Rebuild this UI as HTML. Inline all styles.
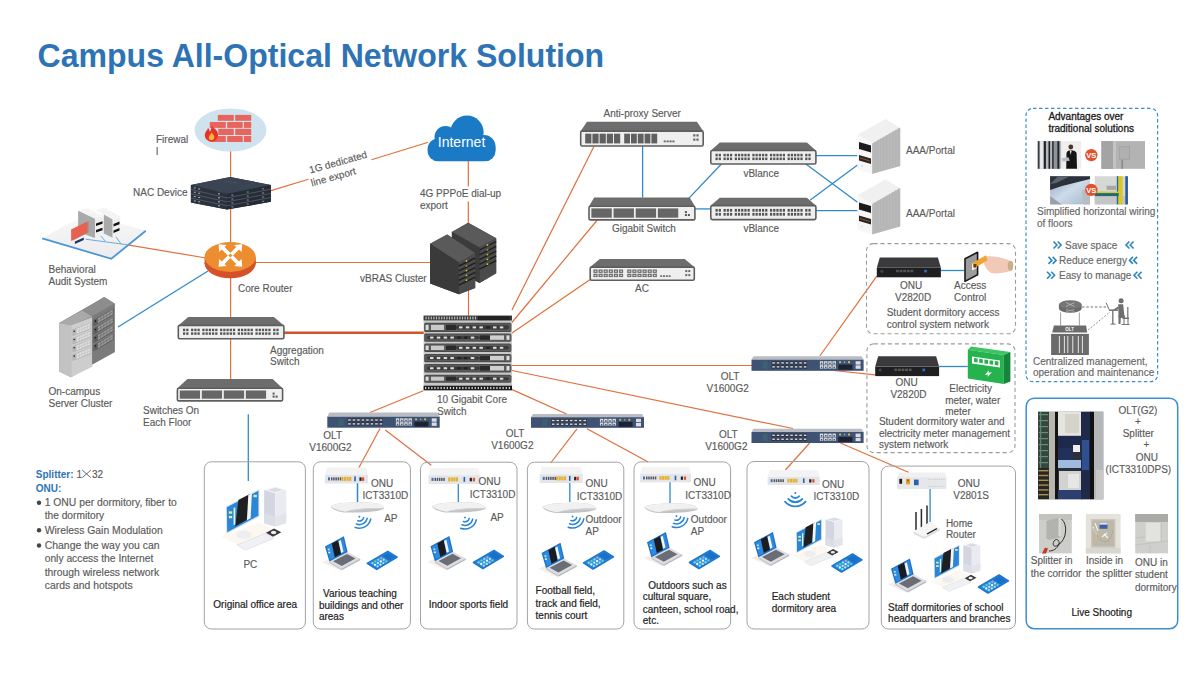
<!DOCTYPE html>
<html><head><meta charset="utf-8"><title>Campus All-Optical Network Solution</title>
<style>html,body{margin:0;padding:0;background:#fff;width:1200px;height:675px;overflow:hidden}
svg{display:block;font-family:"Liberation Sans",sans-serif}</style></head>
<body>
<svg width="1200" height="675" viewBox="0 0 1200 675" font-family="Liberation Sans, sans-serif">
<rect x="0" y="0" width="1200" height="675" fill="#ffffff" stroke="none" stroke-width="0" rx="0" />
<text x="37.6" y="66.8" font-size="34" font-weight="bold" fill="#2e74b5" textLength="566.5" lengthAdjust="spacingAndGlyphs">Campus All-Optical Network Solution</text>
<line x1="230.6" y1="151" x2="230.6" y2="178" stroke="#e0703c" stroke-width="1.2"/>
<line x1="230.6" y1="209" x2="230.6" y2="243" stroke="#e0703c" stroke-width="1.2"/>
<line x1="271" y1="190.6" x2="308.5" y2="179.2" stroke="#e0703c" stroke-width="1.2"/>
<line x1="371.5" y1="159.8" x2="428.3" y2="142.3" stroke="#e0703c" stroke-width="1.2"/>
<line x1="468.3" y1="161" x2="468.3" y2="186.5" stroke="#e0703c" stroke-width="1.2"/>
<line x1="468.3" y1="201.5" x2="468.3" y2="223" stroke="#e0703c" stroke-width="1.2"/>
<line x1="255.7" y1="262.5" x2="431" y2="262.5" stroke="#e0703c" stroke-width="1.2"/>
<line x1="127.6" y1="244.8" x2="206" y2="258" stroke="#e0703c" stroke-width="1.2"/>
<line x1="208" y1="271" x2="118" y2="327" stroke="#2f8bc9" stroke-width="1.3"/>
<line x1="230.6" y1="278" x2="230.6" y2="318" stroke="#e0703c" stroke-width="1.2"/>
<line x1="230.6" y1="338" x2="230.6" y2="380" stroke="#e0703c" stroke-width="1.2"/>
<line x1="284" y1="332.7" x2="424" y2="332.7" stroke="#cf5428" stroke-width="2.6"/>
<line x1="468.5" y1="290" x2="468.5" y2="316" stroke="#e0703c" stroke-width="1.2"/>
<line x1="248.3" y1="414.3" x2="248.3" y2="481" stroke="#2f8bc9" stroke-width="1.3"/>
<line x1="512" y1="310" x2="593.8" y2="146.7" stroke="#e0703c" stroke-width="1.2"/>
<line x1="511.5" y1="323" x2="597.3" y2="220" stroke="#e0703c" stroke-width="1.2"/>
<line x1="512" y1="333" x2="590.2" y2="279.4" stroke="#e0703c" stroke-width="1.2"/>
<line x1="512" y1="365.5" x2="752" y2="365.5" stroke="#e0703c" stroke-width="1.2"/>
<line x1="512" y1="370.5" x2="793" y2="428.5" stroke="#e0703c" stroke-width="1.2"/>
<line x1="510" y1="388.6" x2="566.5" y2="414" stroke="#e0703c" stroke-width="1.2"/>
<line x1="423.3" y1="390.7" x2="370" y2="412.5" stroke="#e0703c" stroke-width="1.2"/>
<line x1="819.8" y1="356" x2="876.8" y2="276.2" stroke="#e0703c" stroke-width="1.2"/>
<line x1="834" y1="370.5" x2="875.2" y2="374.8" stroke="#e0703c" stroke-width="1.2"/>
<line x1="380" y1="428.5" x2="358.7" y2="468" stroke="#e0703c" stroke-width="1.2"/>
<line x1="385.3" y1="430" x2="431.3" y2="465.3" stroke="#e0703c" stroke-width="1.2"/>
<line x1="577" y1="428.8" x2="550.7" y2="463" stroke="#e0703c" stroke-width="1.2"/>
<line x1="587" y1="428.8" x2="648.2" y2="462" stroke="#e0703c" stroke-width="1.2"/>
<line x1="809.7" y1="443" x2="785.4" y2="470" stroke="#e0703c" stroke-width="1.2"/>
<line x1="840.4" y1="443" x2="908.9" y2="472.5" stroke="#e0703c" stroke-width="1.2"/>
<line x1="642.6" y1="146" x2="642.6" y2="197.5" stroke="#2f8bc9" stroke-width="1.3"/>
<line x1="687.6" y1="199.6" x2="721.4" y2="164" stroke="#2f8bc9" stroke-width="1.3"/>
<line x1="694.9" y1="208.9" x2="711" y2="208.9" stroke="#2f8bc9" stroke-width="1.3"/>
<line x1="815.9" y1="155.7" x2="857.5" y2="155.7" stroke="#2f8bc9" stroke-width="1.3"/>
<line x1="805.8" y1="164" x2="857.5" y2="202.3" stroke="#2f8bc9" stroke-width="1.3"/>
<line x1="810.3" y1="200" x2="857.5" y2="165.1" stroke="#2f8bc9" stroke-width="1.3"/>
<line x1="815.9" y1="210.6" x2="857.5" y2="210.6" stroke="#2f8bc9" stroke-width="1.3"/>
<line x1="940.9" y1="270.5" x2="964.2" y2="270.5" stroke="#2f8bc9" stroke-width="1.3"/>
<line x1="939.1" y1="366.5" x2="967.8" y2="366.5" stroke="#2f8bc9" stroke-width="1.3"/>
<line x1="357.5" y1="483" x2="357.5" y2="502" stroke="#2f8bc9" stroke-width="1.3"/>
<line x1="458.3" y1="480" x2="458.3" y2="502" stroke="#2f8bc9" stroke-width="1.3"/>
<line x1="569.8" y1="482" x2="569.8" y2="502" stroke="#2f8bc9" stroke-width="1.3"/>
<line x1="670" y1="482" x2="670" y2="503" stroke="#2f8bc9" stroke-width="1.3"/>
<ellipse cx="230.5" cy="130" rx="36" ry="21.6" fill="#cfe3ee"/>
<rect x="217.8" y="114.9" width="16.0" height="5.9" fill="#e8645c" stroke="none" stroke-width="0" rx="0" />
<rect x="235.2" y="114.9" width="16.0" height="5.9" fill="#e8645c" stroke="none" stroke-width="0" rx="0" />
<rect x="209.8" y="122" width="16.0" height="5.9" fill="#e8645c" stroke="none" stroke-width="0" rx="0" />
<rect x="227.2" y="122" width="15.5" height="5.9" fill="#e8645c" stroke="none" stroke-width="0" rx="0" />
<rect x="243.9" y="122" width="7.3" height="5.9" fill="#e8645c" stroke="none" stroke-width="0" rx="0" />
<rect x="218.3" y="128.8" width="15.5" height="6.2" fill="#e8645c" stroke="none" stroke-width="0" rx="0" />
<rect x="235.2" y="128.8" width="16.0" height="6.2" fill="#e8645c" stroke="none" stroke-width="0" rx="0" />
<rect x="209.8" y="136" width="16.0" height="6" fill="#e8645c" stroke="none" stroke-width="0" rx="0" />
<rect x="227.2" y="136" width="15.5" height="6" fill="#e8645c" stroke="none" stroke-width="0" rx="0" />
<rect x="243.9" y="136" width="7.3" height="6" fill="#e8645c" stroke="none" stroke-width="0" rx="0" />
<path d="M211.5,125.5 C214,129 218.5,130 218,135.5 C217.5,139.5 214.5,141.5 211.5,141.5 C207.5,141.5 204.5,138.5 204.8,134.8 C205,131.5 207.5,130.5 208,128 C209.5,129.5 209.8,131 209.8,132 C211,130 211.8,128 211.5,125.5 Z" fill="#e5332a"/>
<path d="M211.5,132.5 C213,134.5 214.6,135.5 214.3,137.6 C214,139.4 212.8,140.2 211.5,140.2 C210,140.2 208.7,139.2 208.8,137.5 C209,135.5 210.6,134.8 211.5,132.5 Z" fill="#f7b733"/>
<text x="156" y="143" font-size="10" fill="#5a5a5a" font-weight="normal" text-anchor="start"  stroke="#5a5a5a" stroke-width="0.15">Firewal</text>
<text x="156" y="155" font-size="10" fill="#5a5a5a" font-weight="normal" text-anchor="start"  stroke="#5a5a5a" stroke-width="0.15">l</text>
<polygon points="190.9,185 230.1,177 270.9,185 270.9,201.7 227,209.6 190.9,202.5" fill="#2a313c" stroke="none" stroke-width="0" />
<polygon points="190.9,185 230.1,177 270.9,185 227,194.1" fill="#3b4452" stroke="none" stroke-width="0" />
<polygon points="190.9,185 227,194.1 227,209.6 190.9,202.5" fill="#2b323d" stroke="none" stroke-width="0" />
<polygon points="227,194.1 270.9,185 270.9,201.7 227,209.6" fill="#262c36" stroke="none" stroke-width="0" />
<polyline points="190.9,189.38 227,197.97 270.9,189.18" fill="none" stroke="#5d6673" stroke-width="0.7"/>
<polyline points="190.9,193.75 227,201.85 270.9,193.35" fill="none" stroke="#5d6673" stroke-width="0.7"/>
<polyline points="190.9,198.12 227,205.72 270.9,197.52" fill="none" stroke="#5d6673" stroke-width="0.7"/>
<rect x="193.79" y="187.40" width="2" height="1" fill="#aab3c0"/>
<rect x="198.12" y="188.46" width="2" height="1" fill="#aab3c0"/>
<rect x="217.97" y="193.32" width="2" height="1" fill="#aab3c0"/>
<rect x="231.39" y="194.64" width="2" height="1" fill="#8a93a0"/>
<rect x="246.75" y="191.51" width="2" height="1" fill="#8a93a0"/>
<rect x="262.12" y="188.38" width="2" height="1" fill="#8a93a0"/>
<rect x="193.79" y="191.73" width="2" height="1" fill="#aab3c0"/>
<rect x="198.12" y="192.73" width="2" height="1" fill="#aab3c0"/>
<rect x="217.97" y="197.32" width="2" height="1" fill="#aab3c0"/>
<rect x="231.39" y="198.55" width="2" height="1" fill="#8a93a0"/>
<rect x="246.75" y="195.52" width="2" height="1" fill="#8a93a0"/>
<rect x="262.12" y="192.49" width="2" height="1" fill="#8a93a0"/>
<rect x="193.79" y="196.07" width="2" height="1" fill="#aab3c0"/>
<rect x="198.12" y="197.01" width="2" height="1" fill="#aab3c0"/>
<rect x="217.97" y="201.32" width="2" height="1" fill="#aab3c0"/>
<rect x="231.39" y="202.45" width="2" height="1" fill="#8a93a0"/>
<rect x="246.75" y="199.53" width="2" height="1" fill="#8a93a0"/>
<rect x="262.12" y="196.61" width="2" height="1" fill="#8a93a0"/>
<rect x="193.79" y="200.40" width="2" height="1" fill="#aab3c0"/>
<rect x="198.12" y="201.28" width="2" height="1" fill="#aab3c0"/>
<rect x="217.97" y="205.32" width="2" height="1" fill="#aab3c0"/>
<rect x="231.39" y="206.36" width="2" height="1" fill="#8a93a0"/>
<rect x="246.75" y="203.54" width="2" height="1" fill="#8a93a0"/>
<rect x="262.12" y="200.72" width="2" height="1" fill="#8a93a0"/>
<polygon points="222,180.8 236,182.6 240,183.5 226,181.7" fill="#555e6a"/>
<text x="133" y="196" font-size="10" fill="#5a5a5a" font-weight="normal" text-anchor="start"  stroke="#5a5a5a" stroke-width="0.15">NAC Device</text>
<text font-size="10" fill="#5a5a5a" stroke="#5a5a5a" stroke-width="0.15" transform="translate(310.3,173.6) rotate(-15.6)">1G dedicated</text>
<text font-size="10" fill="#5a5a5a" stroke="#5a5a5a" stroke-width="0.15" transform="translate(312,186.4) rotate(-15.6)">line export</text>
<g fill="#1a7ac6"><rect x="427.6" y="138.5" width="68" height="22.8" rx="10.6"/><circle cx="445.5" cy="137" r="11"/><circle cx="467" cy="132.2" r="16.6"/><circle cx="484" cy="146.6" r="11.6"/></g>
<text x="437.8" y="147.2" font-size="14" fill="#ffffff" font-weight="normal" text-anchor="start" >Internet</text>
<text x="420" y="197" font-size="10" fill="#5a5a5a" font-weight="normal" text-anchor="start"  stroke="#5a5a5a" stroke-width="0.15">4G PPPoE dial-up</text>
<text x="420" y="209" font-size="10" fill="#5a5a5a" font-weight="normal" text-anchor="start"  stroke="#5a5a5a" stroke-width="0.15">export</text>
<polygon points="451.9,232.1 468.2,222.8 496.2,238.3 496.2,273.3 479.5,283 451.9,268" fill="#3b3b3b" stroke="none" stroke-width="0" />
<polygon points="451.9,232.1 468.2,222.8 496.2,238.3 479.5,247.5" fill="#5a5a5a" stroke="none" stroke-width="0" />
<polygon points="479.5,247.5 496.2,238.3 496.2,273.3 479.5,283" fill="#4a4a4a" stroke="none" stroke-width="0" />
<polygon points="451.9,232.1 479.5,247.5 479.5,283 451.9,268" fill="#3b3b3b" stroke="none" stroke-width="0" />
<polygon points="430.1,243.8 447.2,234.4 475.2,253.1 475.2,288 458.9,294.3 430.1,283.4" fill="#3a3a3a" stroke="none" stroke-width="0" />
<polygon points="430.1,243.8 447.2,234.4 475.2,253.1 458.9,262.5" fill="#5a5a5a" stroke="none" stroke-width="0" />
<polygon points="430.1,243.8 458.9,262.5 458.9,294.3 430.1,283.4" fill="#3a3a3a" stroke="none" stroke-width="0" />
<polygon points="458.9,262.5 475.2,253.1 475.2,288 458.9,294.3" fill="#4b4b4b" stroke="none" stroke-width="0" />
<polyline points="458.9,266.0 475.2,258.0" stroke="#1e1e1e" stroke-width="1.4"/>
<circle cx="466.5" cy="261.0" r="0.9" fill="#b5d334"/>
<polyline points="458.9,270.8 475.2,262.8" stroke="#1e1e1e" stroke-width="1.4"/>
<circle cx="466.5" cy="265.8" r="0.9" fill="#e07a2a"/>
<polyline points="458.9,275.6 475.2,267.6" stroke="#1e1e1e" stroke-width="1.4"/>
<circle cx="466.5" cy="270.6" r="0.9" fill="#b5d334"/>
<polyline points="458.9,280.4 475.2,272.4" stroke="#1e1e1e" stroke-width="1.4"/>
<circle cx="466.5" cy="275.4" r="0.9" fill="#b5d334"/>
<polyline points="458.9,285.2 475.2,277.2" stroke="#1e1e1e" stroke-width="1.4"/>
<circle cx="466.5" cy="280.2" r="0.9" fill="#b5d334"/>
<polyline points="479.5,250.0 496.2,241.5" stroke="#1e1e1e" stroke-width="1.4"/>
<circle cx="487.5" cy="245.0" r="0.9" fill="#b5d334"/>
<polyline points="479.5,254.8 496.2,246.3" stroke="#1e1e1e" stroke-width="1.4"/>
<circle cx="487.5" cy="249.8" r="0.9" fill="#e07a2a"/>
<polyline points="479.5,259.6 496.2,251.1" stroke="#1e1e1e" stroke-width="1.4"/>
<circle cx="487.5" cy="254.6" r="0.9" fill="#b5d334"/>
<polyline points="479.5,264.4 496.2,255.9" stroke="#1e1e1e" stroke-width="1.4"/>
<circle cx="487.5" cy="259.4" r="0.9" fill="#b5d334"/>
<polyline points="479.5,269.2 496.2,260.7" stroke="#1e1e1e" stroke-width="1.4"/>
<circle cx="487.5" cy="264.2" r="0.9" fill="#b5d334"/>
<text x="360" y="282" font-size="10" fill="#5a5a5a" font-weight="normal" text-anchor="start"  stroke="#5a5a5a" stroke-width="0.15">vBRAS Cluster</text>
<defs><linearGradient id="plat" x1="0" y1="1" x2="0" y2="0"><stop offset="0" stop-color="#ececee"/><stop offset="0.7" stop-color="#f4f4f5"/><stop offset="1" stop-color="#ffffff"/></linearGradient></defs>
<polygon points="42.2,238.3 86,214 145.8,230.8 111.3,258.8" fill="url(#plat)" stroke="none" stroke-width="0" />
<polyline points="42.2,238.3 111.3,258.8 145.8,230.8" fill="none" stroke="#4a98d6" stroke-width="1.8"/>
<polyline points="85.6,239.2 127.6,244.8" fill="none" stroke="#5aa3dc" stroke-width="0.9"/>
<polyline points="99.6,234.5 105.2,241" fill="none" stroke="#5aa3dc" stroke-width="0.9"/>
<polyline points="115.5,236.4 121.1,243.9" fill="none" stroke="#5aa3dc" stroke-width="0.9"/>
<polygon points="78.1,210.7 86.5,207.9 103.4,215.9 95,218.7" fill="#f4f4f4" stroke="none" stroke-width="0" />
<polygon points="78.1,210.7 95,218.7 95,238 78.1,232" fill="#a9a9a9" stroke="none" stroke-width="0" />
<polygon points="95,218.7 103.4,215.9 103.4,235 95,238" fill="#f0f0f0" stroke="none" stroke-width="0" />
<polygon points="96,223.5 102.5,221.3 102.5,223.8 96,226" fill="#111" stroke="none" stroke-width="0" />
<polygon points="96,230 102.5,227.8 102.5,230.3 96,232.5" fill="#111" stroke="none" stroke-width="0" />
<polygon points="95.5,210.3 103.8,207.5 120.2,216.5 112.7,219.6" fill="#f4f4f4" stroke="none" stroke-width="0" />
<polygon points="103.8,214.6 112.7,219.6 112.7,237.8 103.8,233.5" fill="#a9a9a9" stroke="none" stroke-width="0" />
<polygon points="112.7,219.6 120.2,216.5 120.2,234.5 112.7,237.8" fill="#f0f0f0" stroke="none" stroke-width="0" />
<polygon points="113.5,224 119.5,221.6 119.5,224.2 113.5,226.6" fill="#111" stroke="none" stroke-width="0" />
<polygon points="113.5,230.4 119.5,228 119.5,230.6 113.5,233" fill="#111" stroke="none" stroke-width="0" />
<polygon points="73,229 89.2,221 89.2,232 73,240.5" fill="#9a9a9a" stroke="none" stroke-width="0" />
<polygon points="71.1,229.4 87.5,221.5 87.5,232.7 71.1,241.1" fill="#e8604f" stroke="none" stroke-width="0" />
<polygon points="74.9,241.6 83.8,237.5 83.8,240 74.9,244.1" fill="#1d3566" stroke="none" stroke-width="0" />
<text x="48.5" y="273" font-size="10" fill="#5a5a5a" font-weight="normal" text-anchor="start"  stroke="#5a5a5a" stroke-width="0.15">Behavioral</text>
<text x="48.5" y="285" font-size="10" fill="#5a5a5a" font-weight="normal" text-anchor="start"  stroke="#5a5a5a" stroke-width="0.15">Audit System</text>
<path d="M204.6,257 L204.6,263.3 A25.6,15 0 0 0 255.7,263.3 L255.7,257 Z" fill="#d8502a"/>
<ellipse cx="230.15" cy="263.3" rx="25.55" ry="15" fill="#d4512a"/>
<ellipse cx="230.15" cy="257" rx="25.55" ry="15" fill="#ec8d2f"/>
<g transform="translate(230.4,255.5)" fill="#ffffff" stroke="none"><line x1="-1" y1="-1" x2="-7.5" y2="-7.5" stroke="#fff" stroke-width="3.8"/><polygon points="-11.8,-11.3 -3.8,-10.6 -11.2,-3.6"/><line x1="1" y1="-1" x2="7.5" y2="-7.5" stroke="#fff" stroke-width="3.8"/><polygon points="11.8,-11.3 3.8,-10.6 11.2,-3.6"/><line x1="-1" y1="1" x2="-7.5" y2="7.5" stroke="#fff" stroke-width="3.8"/><polygon points="-11.8,11.3 -3.8,10.6 -11.2,3.6"/><line x1="1" y1="1" x2="7.5" y2="7.5" stroke="#fff" stroke-width="3.8"/><polygon points="11.8,11.3 3.8,10.6 11.2,3.6"/></g>
<text x="238" y="292" font-size="10" fill="#5a5a5a" font-weight="normal" text-anchor="start"  stroke="#5a5a5a" stroke-width="0.15">Core Router</text>
<polygon points="59.1,323.1 104.2,297 114.7,303.4 114.7,351.9 92.2,364.6 71.1,377.2 59.1,371.6" fill="#8a8a8a" stroke="none" stroke-width="0" />
<polygon points="59.1,323.1 82.4,310.4 92.2,316.4 71.1,325.2" fill="#a9a9a9" stroke="none" stroke-width="0" />
<polygon points="82.4,310.4 104.2,297 114.7,303.4 92.2,316.4" fill="#8d8d8d" stroke="none" stroke-width="0" />
<polygon points="59.1,323.1 71.1,325.2 71.1,377.2 59.1,371.6" fill="#c2c2c2" stroke="none" stroke-width="0" />
<polygon points="71.1,325.2 92.2,317.2 92.2,366.7 71.1,377.2" fill="#cdcdcd" stroke="none" stroke-width="0" />
<polygon points="92.2,316.2 114.7,303.4 114.7,351.9 92.2,364.6" fill="#7b7b7b" stroke="none" stroke-width="0" />
<polygon points="72.3,329.6 91.2,322.4 91.2,329.0 72.3,336.20000000000005" fill="#b6b6b6" stroke="none" stroke-width="0" />
<polygon points="76.458,328.81600000000003 90.4,323.2 90.4,328.2 76.458,333.81600000000003" fill="#dedede" stroke="none" stroke-width="0" />
<line x1="79.25" y1="327.75" x2="79.25" y2="332.75" stroke="#b6b6b6" stroke-width="0.5"/>
<line x1="82.03" y1="326.69" x2="82.03" y2="331.69" stroke="#b6b6b6" stroke-width="0.5"/>
<line x1="84.82" y1="325.63" x2="84.82" y2="330.63" stroke="#b6b6b6" stroke-width="0.5"/>
<line x1="87.61" y1="324.57" x2="87.61" y2="329.57" stroke="#b6b6b6" stroke-width="0.5"/>
<line x1="76.46" y1="331.32" x2="90.40" y2="325.70" stroke="#b6b6b6" stroke-width="0.5"/>
<circle cx="74.19" cy="331.19" r="0.8" fill="#222"/>
<polygon points="72.3,337.90000000000003 91.2,330.7 91.2,337.3 72.3,344.50000000000006" fill="#b6b6b6" stroke="none" stroke-width="0" />
<polygon points="76.458,337.11600000000004 90.4,331.5 90.4,336.5 76.458,342.11600000000004" fill="#dedede" stroke="none" stroke-width="0" />
<line x1="79.25" y1="336.05" x2="79.25" y2="341.05" stroke="#b6b6b6" stroke-width="0.5"/>
<line x1="82.03" y1="334.99" x2="82.03" y2="339.99" stroke="#b6b6b6" stroke-width="0.5"/>
<line x1="84.82" y1="333.93" x2="84.82" y2="338.93" stroke="#b6b6b6" stroke-width="0.5"/>
<line x1="87.61" y1="332.87" x2="87.61" y2="337.87" stroke="#b6b6b6" stroke-width="0.5"/>
<line x1="76.46" y1="339.62" x2="90.40" y2="334.00" stroke="#b6b6b6" stroke-width="0.5"/>
<circle cx="74.19" cy="339.49" r="0.8" fill="#222"/>
<polygon points="72.3,346.20000000000005 91.2,339.0 91.2,345.6 72.3,352.80000000000007" fill="#b6b6b6" stroke="none" stroke-width="0" />
<polygon points="76.458,345.41600000000005 90.4,339.8 90.4,344.8 76.458,350.41600000000005" fill="#dedede" stroke="none" stroke-width="0" />
<line x1="79.25" y1="344.35" x2="79.25" y2="349.35" stroke="#b6b6b6" stroke-width="0.5"/>
<line x1="82.03" y1="343.29" x2="82.03" y2="348.29" stroke="#b6b6b6" stroke-width="0.5"/>
<line x1="84.82" y1="342.23" x2="84.82" y2="347.23" stroke="#b6b6b6" stroke-width="0.5"/>
<line x1="87.61" y1="341.17" x2="87.61" y2="346.17" stroke="#b6b6b6" stroke-width="0.5"/>
<line x1="76.46" y1="347.92" x2="90.40" y2="342.30" stroke="#b6b6b6" stroke-width="0.5"/>
<circle cx="74.19" cy="347.79" r="0.8" fill="#222"/>
<polygon points="72.3,354.5 91.2,347.29999999999995 91.2,353.9 72.3,361.1" fill="#b6b6b6" stroke="none" stroke-width="0" />
<polygon points="76.458,353.716 90.4,348.09999999999997 90.4,353.09999999999997 76.458,358.716" fill="#dedede" stroke="none" stroke-width="0" />
<line x1="79.25" y1="352.65" x2="79.25" y2="357.65" stroke="#b6b6b6" stroke-width="0.5"/>
<line x1="82.03" y1="351.59" x2="82.03" y2="356.59" stroke="#b6b6b6" stroke-width="0.5"/>
<line x1="84.82" y1="350.53" x2="84.82" y2="355.53" stroke="#b6b6b6" stroke-width="0.5"/>
<line x1="87.61" y1="349.47" x2="87.61" y2="354.47" stroke="#b6b6b6" stroke-width="0.5"/>
<line x1="76.46" y1="356.22" x2="90.40" y2="350.60" stroke="#b6b6b6" stroke-width="0.5"/>
<circle cx="74.19" cy="356.09" r="0.8" fill="#222"/>
<polygon points="93.4,320.0 113.6,308.6 113.6,315.20000000000005 93.4,326.6" fill="#5e5e5e" stroke="none" stroke-width="0" />
<polygon points="97.84400000000001,318.29200000000003 112.8,309.40000000000003 112.8,314.40000000000003 97.84400000000001,323.29200000000003" fill="#9a9a9a" stroke="none" stroke-width="0" />
<line x1="100.84" y1="316.60" x2="100.84" y2="321.60" stroke="#5e5e5e" stroke-width="0.5"/>
<line x1="103.83" y1="314.92" x2="103.83" y2="319.92" stroke="#5e5e5e" stroke-width="0.5"/>
<line x1="106.82" y1="313.23" x2="106.82" y2="318.23" stroke="#5e5e5e" stroke-width="0.5"/>
<line x1="109.81" y1="311.54" x2="109.81" y2="316.54" stroke="#5e5e5e" stroke-width="0.5"/>
<line x1="97.84" y1="320.79" x2="112.80" y2="311.90" stroke="#5e5e5e" stroke-width="0.5"/>
<circle cx="95.42" cy="321.17" r="0.8" fill="#111"/>
<polygon points="93.4,328.3 113.6,316.90000000000003 113.6,323.50000000000006 93.4,334.90000000000003" fill="#5e5e5e" stroke="none" stroke-width="0" />
<polygon points="97.84400000000001,326.59200000000004 112.8,317.70000000000005 112.8,322.70000000000005 97.84400000000001,331.59200000000004" fill="#9a9a9a" stroke="none" stroke-width="0" />
<line x1="100.84" y1="324.90" x2="100.84" y2="329.90" stroke="#5e5e5e" stroke-width="0.5"/>
<line x1="103.83" y1="323.22" x2="103.83" y2="328.22" stroke="#5e5e5e" stroke-width="0.5"/>
<line x1="106.82" y1="321.53" x2="106.82" y2="326.53" stroke="#5e5e5e" stroke-width="0.5"/>
<line x1="109.81" y1="319.84" x2="109.81" y2="324.84" stroke="#5e5e5e" stroke-width="0.5"/>
<line x1="97.84" y1="329.09" x2="112.80" y2="320.20" stroke="#5e5e5e" stroke-width="0.5"/>
<circle cx="95.42" cy="329.47" r="0.8" fill="#111"/>
<polygon points="93.4,336.6 113.6,325.20000000000005 113.6,331.80000000000007 93.4,343.20000000000005" fill="#5e5e5e" stroke="none" stroke-width="0" />
<polygon points="97.84400000000001,334.89200000000005 112.8,326.00000000000006 112.8,331.00000000000006 97.84400000000001,339.89200000000005" fill="#9a9a9a" stroke="none" stroke-width="0" />
<line x1="100.84" y1="333.20" x2="100.84" y2="338.20" stroke="#5e5e5e" stroke-width="0.5"/>
<line x1="103.83" y1="331.52" x2="103.83" y2="336.52" stroke="#5e5e5e" stroke-width="0.5"/>
<line x1="106.82" y1="329.83" x2="106.82" y2="334.83" stroke="#5e5e5e" stroke-width="0.5"/>
<line x1="109.81" y1="328.14" x2="109.81" y2="333.14" stroke="#5e5e5e" stroke-width="0.5"/>
<line x1="97.84" y1="337.39" x2="112.80" y2="328.50" stroke="#5e5e5e" stroke-width="0.5"/>
<circle cx="95.42" cy="337.77" r="0.8" fill="#111"/>
<polygon points="93.4,344.9 113.6,333.5 113.6,340.1 93.4,351.5" fill="#5e5e5e" stroke="none" stroke-width="0" />
<polygon points="97.84400000000001,343.192 112.8,334.3 112.8,339.3 97.84400000000001,348.192" fill="#9a9a9a" stroke="none" stroke-width="0" />
<line x1="100.84" y1="341.50" x2="100.84" y2="346.50" stroke="#5e5e5e" stroke-width="0.5"/>
<line x1="103.83" y1="339.82" x2="103.83" y2="344.82" stroke="#5e5e5e" stroke-width="0.5"/>
<line x1="106.82" y1="338.13" x2="106.82" y2="343.13" stroke="#5e5e5e" stroke-width="0.5"/>
<line x1="109.81" y1="336.44" x2="109.81" y2="341.44" stroke="#5e5e5e" stroke-width="0.5"/>
<line x1="97.84" y1="345.69" x2="112.80" y2="336.80" stroke="#5e5e5e" stroke-width="0.5"/>
<circle cx="95.42" cy="346.07" r="0.8" fill="#111"/>
<text x="48.5" y="395" font-size="10" fill="#5a5a5a" font-weight="normal" text-anchor="start"  stroke="#5a5a5a" stroke-width="0.15">On-campus</text>
<text x="48.5" y="407" font-size="10" fill="#5a5a5a" font-weight="normal" text-anchor="start"  stroke="#5a5a5a" stroke-width="0.15">Server Cluster</text>
<polygon points="188.3,317 273.9,317 283.9,325.4 178.3,325.4" fill="#6d6d6d" stroke="none" stroke-width="0" />
<rect x="178.3" y="325.4" width="105.59999999999997" height="13.300000000000011" fill="#efefef" stroke="#5e5e5e" stroke-width="1.6" rx="1.5" />
<rect x="183.0" y="328.7" width="2.26" height="2.45" fill="#555555" stroke="none" stroke-width="0" rx="0" />
<rect x="186.22" y="328.7" width="2.26" height="2.45" fill="#555555" stroke="none" stroke-width="0" rx="0" />
<rect x="191.04" y="328.7" width="2.26" height="2.45" fill="#555555" stroke="none" stroke-width="0" rx="0" />
<rect x="194.27" y="328.7" width="2.26" height="2.45" fill="#555555" stroke="none" stroke-width="0" rx="0" />
<rect x="197.49" y="328.7" width="2.26" height="2.45" fill="#555555" stroke="none" stroke-width="0" rx="0" />
<rect x="202.31" y="328.7" width="2.26" height="2.45" fill="#555555" stroke="none" stroke-width="0" rx="0" />
<rect x="205.53" y="328.7" width="2.26" height="2.45" fill="#555555" stroke="none" stroke-width="0" rx="0" />
<rect x="208.76" y="328.7" width="2.26" height="2.45" fill="#555555" stroke="none" stroke-width="0" rx="0" />
<rect x="211.98" y="328.7" width="2.26" height="2.45" fill="#555555" stroke="none" stroke-width="0" rx="0" />
<rect x="215.2" y="328.7" width="2.26" height="2.45" fill="#555555" stroke="none" stroke-width="0" rx="0" />
<rect x="220.02" y="328.7" width="2.26" height="2.45" fill="#555555" stroke="none" stroke-width="0" rx="0" />
<rect x="223.24" y="328.7" width="2.26" height="2.45" fill="#555555" stroke="none" stroke-width="0" rx="0" />
<rect x="226.47" y="328.7" width="2.26" height="2.45" fill="#555555" stroke="none" stroke-width="0" rx="0" />
<rect x="229.69" y="328.7" width="2.26" height="2.45" fill="#555555" stroke="none" stroke-width="0" rx="0" />
<rect x="232.91" y="328.7" width="2.26" height="2.45" fill="#555555" stroke="none" stroke-width="0" rx="0" />
<rect x="237.73" y="328.7" width="2.26" height="2.45" fill="#555555" stroke="none" stroke-width="0" rx="0" />
<rect x="240.96" y="328.7" width="2.26" height="2.45" fill="#555555" stroke="none" stroke-width="0" rx="0" />
<rect x="244.18" y="328.7" width="2.26" height="2.45" fill="#555555" stroke="none" stroke-width="0" rx="0" />
<rect x="247.4" y="328.7" width="2.26" height="2.45" fill="#555555" stroke="none" stroke-width="0" rx="0" />
<rect x="250.62" y="328.7" width="2.26" height="2.45" fill="#555555" stroke="none" stroke-width="0" rx="0" />
<rect x="255.44" y="328.7" width="2.26" height="2.45" fill="#555555" stroke="none" stroke-width="0" rx="0" />
<rect x="258.67" y="328.7" width="2.26" height="2.45" fill="#555555" stroke="none" stroke-width="0" rx="0" />
<rect x="261.89" y="328.7" width="2.26" height="2.45" fill="#555555" stroke="none" stroke-width="0" rx="0" />
<rect x="265.11" y="328.7" width="2.26" height="2.45" fill="#555555" stroke="none" stroke-width="0" rx="0" />
<rect x="268.33" y="328.7" width="2.26" height="2.45" fill="#555555" stroke="none" stroke-width="0" rx="0" />
<rect x="273.16" y="328.7" width="2.26" height="2.45" fill="#555555" stroke="none" stroke-width="0" rx="0" />
<rect x="276.38" y="328.7" width="2.26" height="2.45" fill="#555555" stroke="none" stroke-width="0" rx="0" />
<rect x="183.0" y="332.35" width="2.26" height="2.45" fill="#555555" stroke="none" stroke-width="0" rx="0" />
<rect x="186.22" y="332.35" width="2.26" height="2.45" fill="#555555" stroke="none" stroke-width="0" rx="0" />
<rect x="191.04" y="332.35" width="2.26" height="2.45" fill="#555555" stroke="none" stroke-width="0" rx="0" />
<rect x="194.27" y="332.35" width="2.26" height="2.45" fill="#555555" stroke="none" stroke-width="0" rx="0" />
<rect x="197.49" y="332.35" width="2.26" height="2.45" fill="#555555" stroke="none" stroke-width="0" rx="0" />
<rect x="202.31" y="332.35" width="2.26" height="2.45" fill="#555555" stroke="none" stroke-width="0" rx="0" />
<rect x="205.53" y="332.35" width="2.26" height="2.45" fill="#555555" stroke="none" stroke-width="0" rx="0" />
<rect x="208.76" y="332.35" width="2.26" height="2.45" fill="#555555" stroke="none" stroke-width="0" rx="0" />
<rect x="211.98" y="332.35" width="2.26" height="2.45" fill="#555555" stroke="none" stroke-width="0" rx="0" />
<rect x="215.2" y="332.35" width="2.26" height="2.45" fill="#555555" stroke="none" stroke-width="0" rx="0" />
<rect x="220.02" y="332.35" width="2.26" height="2.45" fill="#555555" stroke="none" stroke-width="0" rx="0" />
<rect x="223.24" y="332.35" width="2.26" height="2.45" fill="#555555" stroke="none" stroke-width="0" rx="0" />
<rect x="226.47" y="332.35" width="2.26" height="2.45" fill="#555555" stroke="none" stroke-width="0" rx="0" />
<rect x="229.69" y="332.35" width="2.26" height="2.45" fill="#555555" stroke="none" stroke-width="0" rx="0" />
<rect x="232.91" y="332.35" width="2.26" height="2.45" fill="#555555" stroke="none" stroke-width="0" rx="0" />
<rect x="237.73" y="332.35" width="2.26" height="2.45" fill="#555555" stroke="none" stroke-width="0" rx="0" />
<rect x="240.96" y="332.35" width="2.26" height="2.45" fill="#555555" stroke="none" stroke-width="0" rx="0" />
<rect x="244.18" y="332.35" width="2.26" height="2.45" fill="#555555" stroke="none" stroke-width="0" rx="0" />
<rect x="247.4" y="332.35" width="2.26" height="2.45" fill="#555555" stroke="none" stroke-width="0" rx="0" />
<rect x="250.62" y="332.35" width="2.26" height="2.45" fill="#555555" stroke="none" stroke-width="0" rx="0" />
<rect x="255.44" y="332.35" width="2.26" height="2.45" fill="#555555" stroke="none" stroke-width="0" rx="0" />
<rect x="258.67" y="332.35" width="2.26" height="2.45" fill="#555555" stroke="none" stroke-width="0" rx="0" />
<rect x="261.89" y="332.35" width="2.26" height="2.45" fill="#555555" stroke="none" stroke-width="0" rx="0" />
<rect x="265.11" y="332.35" width="2.26" height="2.45" fill="#555555" stroke="none" stroke-width="0" rx="0" />
<rect x="268.33" y="332.35" width="2.26" height="2.45" fill="#555555" stroke="none" stroke-width="0" rx="0" />
<rect x="273.16" y="332.35" width="2.26" height="2.45" fill="#555555" stroke="none" stroke-width="0" rx="0" />
<rect x="276.38" y="332.35" width="2.26" height="2.45" fill="#555555" stroke="none" stroke-width="0" rx="0" />
<text x="270" y="353.5" font-size="10" fill="#5a5a5a" font-weight="normal" text-anchor="start"  stroke="#5a5a5a" stroke-width="0.15">Aggregation</text>
<text x="270" y="365.2" font-size="10" fill="#5a5a5a" font-weight="normal" text-anchor="start"  stroke="#5a5a5a" stroke-width="0.15">Switch</text>
<polygon points="187.4,379.1 272.6,379.1 282.6,388.3 177.4,388.3" fill="#6d6d6d" stroke="none" stroke-width="0" />
<rect x="177.4" y="388.3" width="105.20000000000002" height="12.599999999999966" fill="#efefef" stroke="#5e5e5e" stroke-width="1.6" rx="1.5" />
<rect x="179.8" y="390.5" width="20.22" height="8.199999999999966" fill="#666666" stroke="none" stroke-width="0" rx="0" />
<rect x="201.82" y="390.5" width="20.22" height="8.199999999999966" fill="#666666" stroke="none" stroke-width="0" rx="0" />
<rect x="223.83" y="390.5" width="20.22" height="8.199999999999966" fill="#666666" stroke="none" stroke-width="0" rx="0" />
<rect x="245.85" y="390.5" width="20.22" height="8.199999999999966" fill="#666666" stroke="none" stroke-width="0" rx="0" />
<rect x="272.6" y="392.6" width="2" height="2" fill="#555" stroke="none" stroke-width="0" rx="0" />
<rect x="272.6" y="395.6" width="2" height="2" fill="#555" stroke="none" stroke-width="0" rx="0" />
<rect x="275.6" y="395.6" width="2" height="2" fill="#555" stroke="none" stroke-width="0" rx="0" />
<text x="143" y="414" font-size="10" fill="#5a5a5a" font-weight="normal" text-anchor="start"  stroke="#5a5a5a" stroke-width="0.15">Switches On</text>
<text x="143" y="425.7" font-size="10" fill="#5a5a5a" font-weight="normal" text-anchor="start"  stroke="#5a5a5a" stroke-width="0.15">Each Floor</text>
<rect x="423.6" y="315.6" width="88.4" height="74.7" fill="#c8c8c8" stroke="none" stroke-width="0" rx="0" />
<rect x="423.6" y="315.6" width="88.4" height="4.8" fill="#3a3a3a" stroke="none" stroke-width="0" rx="0" />
<rect x="425.5" y="316.6" width="1.2" height="2.8" fill="#bdbdbd" stroke="none" stroke-width="0" rx="0" />
<rect x="428.1" y="316.6" width="1.2" height="2.8" fill="#bdbdbd" stroke="none" stroke-width="0" rx="0" />
<rect x="430.7" y="316.6" width="1.2" height="2.8" fill="#bdbdbd" stroke="none" stroke-width="0" rx="0" />
<rect x="433.3" y="316.6" width="1.2" height="2.8" fill="#bdbdbd" stroke="none" stroke-width="0" rx="0" />
<rect x="435.9" y="316.6" width="1.2" height="2.8" fill="#bdbdbd" stroke="none" stroke-width="0" rx="0" />
<rect x="438.5" y="316.6" width="1.2" height="2.8" fill="#bdbdbd" stroke="none" stroke-width="0" rx="0" />
<rect x="441.1" y="316.6" width="1.2" height="2.8" fill="#bdbdbd" stroke="none" stroke-width="0" rx="0" />
<rect x="443.7" y="316.6" width="1.2" height="2.8" fill="#bdbdbd" stroke="none" stroke-width="0" rx="0" />
<rect x="446.3" y="316.6" width="1.2" height="2.8" fill="#bdbdbd" stroke="none" stroke-width="0" rx="0" />
<rect x="448.9" y="316.6" width="1.2" height="2.8" fill="#bdbdbd" stroke="none" stroke-width="0" rx="0" />
<rect x="451.5" y="316.6" width="1.2" height="2.8" fill="#bdbdbd" stroke="none" stroke-width="0" rx="0" />
<rect x="454.1" y="316.6" width="1.2" height="2.8" fill="#bdbdbd" stroke="none" stroke-width="0" rx="0" />
<rect x="456.7" y="316.6" width="1.2" height="2.8" fill="#bdbdbd" stroke="none" stroke-width="0" rx="0" />
<rect x="459.3" y="316.6" width="1.2" height="2.8" fill="#bdbdbd" stroke="none" stroke-width="0" rx="0" />
<rect x="461.9" y="316.6" width="1.2" height="2.8" fill="#bdbdbd" stroke="none" stroke-width="0" rx="0" />
<rect x="464.5" y="316.6" width="1.2" height="2.8" fill="#bdbdbd" stroke="none" stroke-width="0" rx="0" />
<rect x="467.1" y="316.6" width="1.2" height="2.8" fill="#bdbdbd" stroke="none" stroke-width="0" rx="0" />
<rect x="469.7" y="316.6" width="1.2" height="2.8" fill="#bdbdbd" stroke="none" stroke-width="0" rx="0" />
<rect x="472.3" y="316.6" width="1.2" height="2.8" fill="#bdbdbd" stroke="none" stroke-width="0" rx="0" />
<rect x="474.9" y="316.6" width="1.2" height="2.8" fill="#bdbdbd" stroke="none" stroke-width="0" rx="0" />
<rect x="478" y="316.2" width="32" height="4" fill="#222" stroke="none" stroke-width="0" rx="0" />
<rect x="424.2" y="322.8" width="87" height="9.199999999999989" fill="#4a4a4a" stroke="none" stroke-width="0" rx="1.5" />
<rect x="425.2" y="323.8" width="86" height="7.199999999999989" fill="#5b5b5b" stroke="none" stroke-width="0" rx="1" />
<rect x="431" y="324.8" width="13" height="5.199999999999989" fill="#c9c9c9" stroke="none" stroke-width="0" rx="0" />
<rect x="446" y="324.8" width="10" height="5.199999999999989" fill="#2a2a2a" stroke="none" stroke-width="0" rx="0" />
<rect x="456" y="325.3" width="53" height="4.199999999999989" fill="#3a3a3a" stroke="none" stroke-width="0" rx="2" />
<rect x="459.0" y="326.4" width="3.5" height="2" fill="#dddddd" stroke="none" stroke-width="0" rx="0" />
<rect x="465.8" y="326.4" width="3.5" height="2" fill="#dddddd" stroke="none" stroke-width="0" rx="0" />
<rect x="472.6" y="326.4" width="3.5" height="2" fill="#dddddd" stroke="none" stroke-width="0" rx="0" />
<rect x="479.4" y="326.4" width="3.5" height="2" fill="#dddddd" stroke="none" stroke-width="0" rx="0" />
<rect x="486.2" y="326.4" width="3.5" height="2" fill="#222" stroke="none" stroke-width="0" rx="0" />
<rect x="493.0" y="326.4" width="3.5" height="2" fill="#dddddd" stroke="none" stroke-width="0" rx="0" />
<rect x="499.8" y="326.4" width="3.5" height="2" fill="#dddddd" stroke="none" stroke-width="0" rx="0" />
<rect x="425.6" y="324.8" width="3" height="5.199999999999989" fill="#dcdcdc" stroke="none" stroke-width="0" rx="0" />
<rect x="424.2" y="333.4" width="87" height="8.400000000000034" fill="#4a4a4a" stroke="none" stroke-width="0" rx="1.5" />
<rect x="425.2" y="334.4" width="86" height="6.400000000000034" fill="#5b5b5b" stroke="none" stroke-width="0" rx="1" />
<rect x="427" y="335.9" width="53" height="3.400000000000034" fill="#3a3a3a" stroke="none" stroke-width="0" rx="2" />
<rect x="430.0" y="336.6" width="3.5" height="2" fill="#dddddd" stroke="none" stroke-width="0" rx="0" />
<rect x="436.8" y="336.6" width="3.5" height="2" fill="#dddddd" stroke="none" stroke-width="0" rx="0" />
<rect x="443.6" y="336.6" width="3.5" height="2" fill="#dddddd" stroke="none" stroke-width="0" rx="0" />
<rect x="450.4" y="336.6" width="3.5" height="2" fill="#dddddd" stroke="none" stroke-width="0" rx="0" />
<rect x="457.2" y="336.6" width="3.5" height="2" fill="#222" stroke="none" stroke-width="0" rx="0" />
<rect x="464.0" y="336.6" width="3.5" height="2" fill="#222" stroke="none" stroke-width="0" rx="0" />
<rect x="470.8" y="336.6" width="3.5" height="2" fill="#dddddd" stroke="none" stroke-width="0" rx="0" />
<rect x="480" y="335.4" width="10" height="4.400000000000034" fill="#2a2a2a" stroke="none" stroke-width="0" rx="0" />
<rect x="490" y="335.4" width="14" height="4.400000000000034" fill="#cfcfcf" stroke="none" stroke-width="0" rx="0" />
<rect x="506.5" y="335.4" width="3" height="4.400000000000034" fill="#dcdcdc" stroke="none" stroke-width="0" rx="0" />
<rect x="424.2" y="343.6" width="87" height="8.399999999999977" fill="#4a4a4a" stroke="none" stroke-width="0" rx="1.5" />
<rect x="425.2" y="344.6" width="86" height="6.399999999999977" fill="#5b5b5b" stroke="none" stroke-width="0" rx="1" />
<rect x="431" y="345.6" width="13" height="4.399999999999977" fill="#c9c9c9" stroke="none" stroke-width="0" rx="0" />
<rect x="446" y="345.6" width="10" height="4.399999999999977" fill="#2a2a2a" stroke="none" stroke-width="0" rx="0" />
<rect x="456" y="346.1" width="53" height="3.3999999999999773" fill="#3a3a3a" stroke="none" stroke-width="0" rx="2" />
<rect x="459.0" y="346.8" width="3.5" height="2" fill="#dddddd" stroke="none" stroke-width="0" rx="0" />
<rect x="465.8" y="346.8" width="3.5" height="2" fill="#dddddd" stroke="none" stroke-width="0" rx="0" />
<rect x="472.6" y="346.8" width="3.5" height="2" fill="#dddddd" stroke="none" stroke-width="0" rx="0" />
<rect x="479.4" y="346.8" width="3.5" height="2" fill="#dddddd" stroke="none" stroke-width="0" rx="0" />
<rect x="486.2" y="346.8" width="3.5" height="2" fill="#222" stroke="none" stroke-width="0" rx="0" />
<rect x="493.0" y="346.8" width="3.5" height="2" fill="#dddddd" stroke="none" stroke-width="0" rx="0" />
<rect x="499.8" y="346.8" width="3.5" height="2" fill="#dddddd" stroke="none" stroke-width="0" rx="0" />
<rect x="425.6" y="345.6" width="3" height="4.399999999999977" fill="#dcdcdc" stroke="none" stroke-width="0" rx="0" />
<rect x="424.2" y="353.9" width="87" height="8.300000000000011" fill="#4a4a4a" stroke="none" stroke-width="0" rx="1.5" />
<rect x="425.2" y="354.9" width="86" height="6.300000000000011" fill="#5b5b5b" stroke="none" stroke-width="0" rx="1" />
<rect x="427" y="356.4" width="53" height="3.3000000000000114" fill="#3a3a3a" stroke="none" stroke-width="0" rx="2" />
<rect x="430.0" y="357.04999999999995" width="3.5" height="2" fill="#dddddd" stroke="none" stroke-width="0" rx="0" />
<rect x="436.8" y="357.04999999999995" width="3.5" height="2" fill="#dddddd" stroke="none" stroke-width="0" rx="0" />
<rect x="443.6" y="357.04999999999995" width="3.5" height="2" fill="#dddddd" stroke="none" stroke-width="0" rx="0" />
<rect x="450.4" y="357.04999999999995" width="3.5" height="2" fill="#dddddd" stroke="none" stroke-width="0" rx="0" />
<rect x="457.2" y="357.04999999999995" width="3.5" height="2" fill="#222" stroke="none" stroke-width="0" rx="0" />
<rect x="464.0" y="357.04999999999995" width="3.5" height="2" fill="#222" stroke="none" stroke-width="0" rx="0" />
<rect x="470.8" y="357.04999999999995" width="3.5" height="2" fill="#dddddd" stroke="none" stroke-width="0" rx="0" />
<rect x="480" y="355.9" width="10" height="4.300000000000011" fill="#2a2a2a" stroke="none" stroke-width="0" rx="0" />
<rect x="490" y="355.9" width="14" height="4.300000000000011" fill="#cfcfcf" stroke="none" stroke-width="0" rx="0" />
<rect x="506.5" y="355.9" width="3" height="4.300000000000011" fill="#dcdcdc" stroke="none" stroke-width="0" rx="0" />
<rect x="424.2" y="364" width="87" height="8.5" fill="#4a4a4a" stroke="none" stroke-width="0" rx="1.5" />
<rect x="425.2" y="365" width="86" height="6.5" fill="#5b5b5b" stroke="none" stroke-width="0" rx="1" />
<rect x="427" y="366.5" width="53" height="3.5" fill="#3a3a3a" stroke="none" stroke-width="0" rx="2" />
<rect x="430.0" y="367.25" width="3.5" height="2" fill="#dddddd" stroke="none" stroke-width="0" rx="0" />
<rect x="436.8" y="367.25" width="3.5" height="2" fill="#dddddd" stroke="none" stroke-width="0" rx="0" />
<rect x="443.6" y="367.25" width="3.5" height="2" fill="#dddddd" stroke="none" stroke-width="0" rx="0" />
<rect x="450.4" y="367.25" width="3.5" height="2" fill="#dddddd" stroke="none" stroke-width="0" rx="0" />
<rect x="457.2" y="367.25" width="3.5" height="2" fill="#222" stroke="none" stroke-width="0" rx="0" />
<rect x="464.0" y="367.25" width="3.5" height="2" fill="#222" stroke="none" stroke-width="0" rx="0" />
<rect x="470.8" y="367.25" width="3.5" height="2" fill="#dddddd" stroke="none" stroke-width="0" rx="0" />
<rect x="480" y="366" width="10" height="4.5" fill="#2a2a2a" stroke="none" stroke-width="0" rx="0" />
<rect x="490" y="366" width="14" height="4.5" fill="#cfcfcf" stroke="none" stroke-width="0" rx="0" />
<rect x="506.5" y="366" width="3" height="4.5" fill="#dcdcdc" stroke="none" stroke-width="0" rx="0" />
<rect x="424.2" y="374.7" width="87" height="8.0" fill="#4a4a4a" stroke="none" stroke-width="0" rx="1.5" />
<rect x="425.2" y="375.7" width="86" height="6.0" fill="#5b5b5b" stroke="none" stroke-width="0" rx="1" />
<rect x="431" y="376.7" width="13" height="4.0" fill="#c9c9c9" stroke="none" stroke-width="0" rx="0" />
<rect x="446" y="376.7" width="10" height="4.0" fill="#2a2a2a" stroke="none" stroke-width="0" rx="0" />
<rect x="456" y="377.2" width="53" height="3.0" fill="#3a3a3a" stroke="none" stroke-width="0" rx="2" />
<rect x="459.0" y="377.7" width="3.5" height="2" fill="#dddddd" stroke="none" stroke-width="0" rx="0" />
<rect x="465.8" y="377.7" width="3.5" height="2" fill="#dddddd" stroke="none" stroke-width="0" rx="0" />
<rect x="472.6" y="377.7" width="3.5" height="2" fill="#dddddd" stroke="none" stroke-width="0" rx="0" />
<rect x="479.4" y="377.7" width="3.5" height="2" fill="#dddddd" stroke="none" stroke-width="0" rx="0" />
<rect x="486.2" y="377.7" width="3.5" height="2" fill="#222" stroke="none" stroke-width="0" rx="0" />
<rect x="493.0" y="377.7" width="3.5" height="2" fill="#dddddd" stroke="none" stroke-width="0" rx="0" />
<rect x="499.8" y="377.7" width="3.5" height="2" fill="#dddddd" stroke="none" stroke-width="0" rx="0" />
<rect x="425.6" y="376.7" width="3" height="4.0" fill="#dcdcdc" stroke="none" stroke-width="0" rx="0" />
<rect x="423.6" y="385.7" width="88.4" height="4.6" fill="#1a1a1a" stroke="none" stroke-width="0" rx="0" />
<rect x="425.0" y="386.9" width="1.3" height="2.2" fill="#cfcfcf" stroke="none" stroke-width="0" rx="0" />
<rect x="428.1" y="386.9" width="1.3" height="2.2" fill="#cfcfcf" stroke="none" stroke-width="0" rx="0" />
<rect x="431.2" y="386.9" width="1.3" height="2.2" fill="#cfcfcf" stroke="none" stroke-width="0" rx="0" />
<rect x="434.3" y="386.9" width="1.3" height="2.2" fill="#cfcfcf" stroke="none" stroke-width="0" rx="0" />
<rect x="437.4" y="386.9" width="1.3" height="2.2" fill="#cfcfcf" stroke="none" stroke-width="0" rx="0" />
<rect x="440.5" y="386.9" width="1.3" height="2.2" fill="#cfcfcf" stroke="none" stroke-width="0" rx="0" />
<rect x="443.6" y="386.9" width="1.3" height="2.2" fill="#cfcfcf" stroke="none" stroke-width="0" rx="0" />
<rect x="446.7" y="386.9" width="1.3" height="2.2" fill="#cfcfcf" stroke="none" stroke-width="0" rx="0" />
<rect x="449.8" y="386.9" width="1.3" height="2.2" fill="#cfcfcf" stroke="none" stroke-width="0" rx="0" />
<rect x="452.9" y="386.9" width="1.3" height="2.2" fill="#cfcfcf" stroke="none" stroke-width="0" rx="0" />
<rect x="456.0" y="386.9" width="1.3" height="2.2" fill="#cfcfcf" stroke="none" stroke-width="0" rx="0" />
<rect x="459.1" y="386.9" width="1.3" height="2.2" fill="#cfcfcf" stroke="none" stroke-width="0" rx="0" />
<rect x="462.2" y="386.9" width="1.3" height="2.2" fill="#cfcfcf" stroke="none" stroke-width="0" rx="0" />
<rect x="465.3" y="386.9" width="1.3" height="2.2" fill="#cfcfcf" stroke="none" stroke-width="0" rx="0" />
<rect x="468.4" y="386.9" width="1.3" height="2.2" fill="#cfcfcf" stroke="none" stroke-width="0" rx="0" />
<rect x="471.5" y="386.9" width="1.3" height="2.2" fill="#cfcfcf" stroke="none" stroke-width="0" rx="0" />
<rect x="474.6" y="386.9" width="1.3" height="2.2" fill="#cfcfcf" stroke="none" stroke-width="0" rx="0" />
<rect x="477.7" y="386.9" width="1.3" height="2.2" fill="#cfcfcf" stroke="none" stroke-width="0" rx="0" />
<rect x="480.8" y="386.9" width="1.3" height="2.2" fill="#cfcfcf" stroke="none" stroke-width="0" rx="0" />
<rect x="483.9" y="386.9" width="1.3" height="2.2" fill="#cfcfcf" stroke="none" stroke-width="0" rx="0" />
<rect x="487.0" y="386.9" width="1.3" height="2.2" fill="#cfcfcf" stroke="none" stroke-width="0" rx="0" />
<rect x="490.1" y="386.9" width="1.3" height="2.2" fill="#cfcfcf" stroke="none" stroke-width="0" rx="0" />
<rect x="493.2" y="386.9" width="1.3" height="2.2" fill="#cfcfcf" stroke="none" stroke-width="0" rx="0" />
<rect x="496.3" y="386.9" width="1.3" height="2.2" fill="#cfcfcf" stroke="none" stroke-width="0" rx="0" />
<rect x="499.4" y="386.9" width="1.3" height="2.2" fill="#cfcfcf" stroke="none" stroke-width="0" rx="0" />
<rect x="502.5" y="386.9" width="1.3" height="2.2" fill="#cfcfcf" stroke="none" stroke-width="0" rx="0" />
<rect x="505.6" y="386.9" width="1.3" height="2.2" fill="#cfcfcf" stroke="none" stroke-width="0" rx="0" />
<rect x="508.7" y="386.9" width="1.3" height="2.2" fill="#cfcfcf" stroke="none" stroke-width="0" rx="0" />
<text x="437" y="403.1" font-size="10" fill="#5a5a5a" font-weight="normal" text-anchor="start"  stroke="#5a5a5a" stroke-width="0.15">10 Gigabit Core</text>
<text x="437" y="414.7" font-size="10" fill="#5a5a5a" font-weight="normal" text-anchor="start"  stroke="#5a5a5a" stroke-width="0.15">Switch</text>
<polygon points="587.0,121.8 696.9000000000001,121.8 703.2,131.1 580.7,131.1" fill="#6d6d6d" stroke="none" stroke-width="0" />
<rect x="580.7" y="131.1" width="122.5" height="14.900000000000006" fill="#efefef" stroke="#5e5e5e" stroke-width="1.6" rx="1.5" />
<rect x="585.2" y="133.7" width="6.2" height="9.700000000000006" fill="#606060" stroke="none" stroke-width="0" rx="0" />
<rect x="592.4" y="133.7" width="6.2" height="9.700000000000006" fill="#606060" stroke="none" stroke-width="0" rx="0" />
<rect x="599.6" y="133.7" width="6.2" height="9.700000000000006" fill="#606060" stroke="none" stroke-width="0" rx="0" />
<rect x="606.8" y="133.7" width="6.2" height="9.700000000000006" fill="#606060" stroke="none" stroke-width="0" rx="0" />
<rect x="614.0" y="133.7" width="6.2" height="9.700000000000006" fill="#606060" stroke="none" stroke-width="0" rx="0" />
<rect x="624.2" y="133.7" width="5.8" height="9.700000000000006" fill="#606060" stroke="none" stroke-width="0" rx="0" />
<rect x="631.0" y="133.7" width="5.8" height="9.700000000000006" fill="#606060" stroke="none" stroke-width="0" rx="0" />
<rect x="637.8" y="133.7" width="5.8" height="9.700000000000006" fill="#606060" stroke="none" stroke-width="0" rx="0" />
<rect x="644.6" y="133.7" width="5.8" height="9.700000000000006" fill="#606060" stroke="none" stroke-width="0" rx="0" />
<rect x="651.4" y="133.7" width="5.8" height="9.700000000000006" fill="#606060" stroke="none" stroke-width="0" rx="0" />
<rect x="663.7" y="140.5" width="2.1" height="1.8" fill="#666" stroke="none" stroke-width="0" rx="0" />
<rect x="666.6" y="140.5" width="2.1" height="1.8" fill="#666" stroke="none" stroke-width="0" rx="0" />
<rect x="669.5" y="140.5" width="2.1" height="1.8" fill="#666" stroke="none" stroke-width="0" rx="0" />
<rect x="672.4" y="140.5" width="2.1" height="1.8" fill="#666" stroke="none" stroke-width="0" rx="0" />
<rect x="693.2" y="134.29999999999998" width="2.2" height="2.2" fill="#666" stroke="none" stroke-width="0" rx="0" />
<rect x="696.4" y="134.29999999999998" width="2.2" height="2.2" fill="#666" stroke="none" stroke-width="0" rx="0" />
<rect x="693.2" y="138.49999999999997" width="2.2" height="2.2" fill="#666" stroke="none" stroke-width="0" rx="0" />
<rect x="696.4" y="138.49999999999997" width="2.2" height="2.2" fill="#666" stroke="none" stroke-width="0" rx="0" />
<text x="603.6" y="116.6" font-size="10" fill="#5a5a5a" font-weight="normal" text-anchor="start"  stroke="#5a5a5a" stroke-width="0.15">Anti-proxy Server</text>
<polygon points="594.2,197.5 689.6999999999999,197.5 694.9,206.2 589,206.2" fill="#6d6d6d" stroke="none" stroke-width="0" />
<rect x="589" y="206.2" width="105.89999999999998" height="13.700000000000017" fill="#efefef" stroke="#5e5e5e" stroke-width="1.6" rx="1.5" />
<rect x="591.4" y="208.39999999999998" width="20.36" height="9.300000000000017" fill="#666666" stroke="none" stroke-width="0" rx="0" />
<rect x="613.56" y="208.39999999999998" width="20.36" height="9.300000000000017" fill="#666666" stroke="none" stroke-width="0" rx="0" />
<rect x="635.72" y="208.39999999999998" width="20.36" height="9.300000000000017" fill="#666666" stroke="none" stroke-width="0" rx="0" />
<rect x="657.88" y="208.39999999999998" width="20.36" height="9.300000000000017" fill="#666666" stroke="none" stroke-width="0" rx="0" />
<rect x="684.9" y="211.05" width="2" height="2" fill="#555" stroke="none" stroke-width="0" rx="0" />
<rect x="684.9" y="214.05" width="2" height="2" fill="#555" stroke="none" stroke-width="0" rx="0" />
<rect x="687.9" y="214.05" width="2" height="2" fill="#555" stroke="none" stroke-width="0" rx="0" />
<text x="612" y="231.7" font-size="10" fill="#5a5a5a" font-weight="normal" text-anchor="start"  stroke="#5a5a5a" stroke-width="0.15">Gigabit Switch</text>
<polygon points="599.8000000000001,258.9 684.6999999999999,258.9 694.3,267.1 590.2,267.1" fill="#6d6d6d" stroke="none" stroke-width="0" />
<rect x="590.2" y="267.1" width="104.09999999999991" height="13.199999999999989" fill="#efefef" stroke="#5e5e5e" stroke-width="1.6" rx="1.5" />
<rect x="593.4" y="269.5" width="4.2" height="3.4" fill="#6e6e6e" stroke="none" stroke-width="0" rx="0" />
<rect x="594.7" y="270.7" width="1.6" height="1.2" fill="#d8d8d8" stroke="none" stroke-width="0" rx="0" />
<rect x="593.4" y="273.7" width="4.2" height="3.4" fill="#6e6e6e" stroke="none" stroke-width="0" rx="0" />
<rect x="594.7" y="274.9" width="1.6" height="1.2" fill="#d8d8d8" stroke="none" stroke-width="0" rx="0" />
<rect x="598.5" y="269.5" width="4.2" height="3.4" fill="#6e6e6e" stroke="none" stroke-width="0" rx="0" />
<rect x="599.8" y="270.7" width="1.6" height="1.2" fill="#d8d8d8" stroke="none" stroke-width="0" rx="0" />
<rect x="598.5" y="273.7" width="4.2" height="3.4" fill="#6e6e6e" stroke="none" stroke-width="0" rx="0" />
<rect x="599.8" y="274.9" width="1.6" height="1.2" fill="#d8d8d8" stroke="none" stroke-width="0" rx="0" />
<rect x="603.6" y="269.5" width="4.2" height="3.4" fill="#6e6e6e" stroke="none" stroke-width="0" rx="0" />
<rect x="604.9" y="270.7" width="1.6" height="1.2" fill="#d8d8d8" stroke="none" stroke-width="0" rx="0" />
<rect x="603.6" y="273.7" width="4.2" height="3.4" fill="#6e6e6e" stroke="none" stroke-width="0" rx="0" />
<rect x="604.9" y="274.9" width="1.6" height="1.2" fill="#d8d8d8" stroke="none" stroke-width="0" rx="0" />
<rect x="608.7" y="269.5" width="4.2" height="3.4" fill="#6e6e6e" stroke="none" stroke-width="0" rx="0" />
<rect x="610.0" y="270.7" width="1.6" height="1.2" fill="#d8d8d8" stroke="none" stroke-width="0" rx="0" />
<rect x="608.7" y="273.7" width="4.2" height="3.4" fill="#6e6e6e" stroke="none" stroke-width="0" rx="0" />
<rect x="610.0" y="274.9" width="1.6" height="1.2" fill="#d8d8d8" stroke="none" stroke-width="0" rx="0" />
<rect x="613.8" y="269.5" width="4.2" height="3.4" fill="#6e6e6e" stroke="none" stroke-width="0" rx="0" />
<rect x="615.1" y="270.7" width="1.6" height="1.2" fill="#d8d8d8" stroke="none" stroke-width="0" rx="0" />
<rect x="613.8" y="273.7" width="4.2" height="3.4" fill="#6e6e6e" stroke="none" stroke-width="0" rx="0" />
<rect x="615.1" y="274.9" width="1.6" height="1.2" fill="#d8d8d8" stroke="none" stroke-width="0" rx="0" />
<rect x="618.9" y="269.5" width="4.2" height="3.4" fill="#6e6e6e" stroke="none" stroke-width="0" rx="0" />
<rect x="620.2" y="270.7" width="1.6" height="1.2" fill="#d8d8d8" stroke="none" stroke-width="0" rx="0" />
<rect x="618.9" y="273.7" width="4.2" height="3.4" fill="#6e6e6e" stroke="none" stroke-width="0" rx="0" />
<rect x="620.2" y="274.9" width="1.6" height="1.2" fill="#d8d8d8" stroke="none" stroke-width="0" rx="0" />
<rect x="627.2" y="269.5" width="4.2" height="3.4" fill="#6e6e6e" stroke="none" stroke-width="0" rx="0" />
<rect x="628.5" y="270.7" width="1.6" height="1.2" fill="#d8d8d8" stroke="none" stroke-width="0" rx="0" />
<rect x="627.2" y="273.7" width="4.2" height="3.4" fill="#6e6e6e" stroke="none" stroke-width="0" rx="0" />
<rect x="628.5" y="274.9" width="1.6" height="1.2" fill="#d8d8d8" stroke="none" stroke-width="0" rx="0" />
<rect x="632.3" y="269.5" width="4.2" height="3.4" fill="#6e6e6e" stroke="none" stroke-width="0" rx="0" />
<rect x="633.6" y="270.7" width="1.6" height="1.2" fill="#d8d8d8" stroke="none" stroke-width="0" rx="0" />
<rect x="632.3" y="273.7" width="4.2" height="3.4" fill="#6e6e6e" stroke="none" stroke-width="0" rx="0" />
<rect x="633.6" y="274.9" width="1.6" height="1.2" fill="#d8d8d8" stroke="none" stroke-width="0" rx="0" />
<rect x="637.4" y="269.5" width="4.2" height="3.4" fill="#6e6e6e" stroke="none" stroke-width="0" rx="0" />
<rect x="638.7" y="270.7" width="1.6" height="1.2" fill="#d8d8d8" stroke="none" stroke-width="0" rx="0" />
<rect x="637.4" y="273.7" width="4.2" height="3.4" fill="#6e6e6e" stroke="none" stroke-width="0" rx="0" />
<rect x="638.7" y="274.9" width="1.6" height="1.2" fill="#d8d8d8" stroke="none" stroke-width="0" rx="0" />
<rect x="642.5" y="269.5" width="4.2" height="3.4" fill="#6e6e6e" stroke="none" stroke-width="0" rx="0" />
<rect x="643.8" y="270.7" width="1.6" height="1.2" fill="#d8d8d8" stroke="none" stroke-width="0" rx="0" />
<rect x="642.5" y="273.7" width="4.2" height="3.4" fill="#6e6e6e" stroke="none" stroke-width="0" rx="0" />
<rect x="643.8" y="274.9" width="1.6" height="1.2" fill="#d8d8d8" stroke="none" stroke-width="0" rx="0" />
<rect x="647.6" y="269.5" width="4.2" height="3.4" fill="#6e6e6e" stroke="none" stroke-width="0" rx="0" />
<rect x="648.9" y="270.7" width="1.6" height="1.2" fill="#d8d8d8" stroke="none" stroke-width="0" rx="0" />
<rect x="647.6" y="273.7" width="4.2" height="3.4" fill="#6e6e6e" stroke="none" stroke-width="0" rx="0" />
<rect x="648.9" y="274.9" width="1.6" height="1.2" fill="#d8d8d8" stroke="none" stroke-width="0" rx="0" />
<rect x="652.7" y="269.5" width="4.2" height="3.4" fill="#6e6e6e" stroke="none" stroke-width="0" rx="0" />
<rect x="654.0" y="270.7" width="1.6" height="1.2" fill="#d8d8d8" stroke="none" stroke-width="0" rx="0" />
<rect x="652.7" y="273.7" width="4.2" height="3.4" fill="#6e6e6e" stroke="none" stroke-width="0" rx="0" />
<rect x="654.0" y="274.9" width="1.6" height="1.2" fill="#d8d8d8" stroke="none" stroke-width="0" rx="0" />
<rect x="660.2" y="275.3" width="2" height="1.6" fill="#666" stroke="none" stroke-width="0" rx="0" />
<rect x="663.0" y="275.3" width="2" height="1.6" fill="#666" stroke="none" stroke-width="0" rx="0" />
<rect x="665.8" y="275.3" width="2" height="1.6" fill="#666" stroke="none" stroke-width="0" rx="0" />
<rect x="668.6" y="275.3" width="2" height="1.6" fill="#666" stroke="none" stroke-width="0" rx="0" />
<rect x="685.3" y="270.1" width="2" height="2" fill="#666" stroke="none" stroke-width="0" rx="0" />
<rect x="688.3" y="270.1" width="2" height="2" fill="#666" stroke="none" stroke-width="0" rx="0" />
<rect x="685.3" y="274.1" width="2" height="2" fill="#666" stroke="none" stroke-width="0" rx="0" />
<rect x="688.3" y="274.1" width="2" height="2" fill="#666" stroke="none" stroke-width="0" rx="0" />
<text x="635.1" y="291.7" font-size="10" fill="#5a5a5a" font-weight="normal" text-anchor="start"  stroke="#5a5a5a" stroke-width="0.15">AC</text>
<polygon points="719.8,142.6 806.9,142.6 815.9,150.5 710.8,150.5" fill="#6d6d6d" stroke="none" stroke-width="0" />
<rect x="710.8" y="150.5" width="105.10000000000002" height="13.5" fill="#efefef" stroke="#5e5e5e" stroke-width="1.6" rx="1.5" />
<rect x="715.5" y="153.8" width="2.24" height="2.55" fill="#555555" stroke="none" stroke-width="0" rx="0" />
<rect x="718.7" y="153.8" width="2.24" height="2.55" fill="#555555" stroke="none" stroke-width="0" rx="0" />
<rect x="723.51" y="153.8" width="2.24" height="2.55" fill="#555555" stroke="none" stroke-width="0" rx="0" />
<rect x="726.71" y="153.8" width="2.24" height="2.55" fill="#555555" stroke="none" stroke-width="0" rx="0" />
<rect x="729.91" y="153.8" width="2.24" height="2.55" fill="#555555" stroke="none" stroke-width="0" rx="0" />
<rect x="734.72" y="153.8" width="2.24" height="2.55" fill="#555555" stroke="none" stroke-width="0" rx="0" />
<rect x="737.92" y="153.8" width="2.24" height="2.55" fill="#555555" stroke="none" stroke-width="0" rx="0" />
<rect x="741.13" y="153.8" width="2.24" height="2.55" fill="#555555" stroke="none" stroke-width="0" rx="0" />
<rect x="744.33" y="153.8" width="2.24" height="2.55" fill="#555555" stroke="none" stroke-width="0" rx="0" />
<rect x="747.53" y="153.8" width="2.24" height="2.55" fill="#555555" stroke="none" stroke-width="0" rx="0" />
<rect x="752.34" y="153.8" width="2.24" height="2.55" fill="#555555" stroke="none" stroke-width="0" rx="0" />
<rect x="755.54" y="153.8" width="2.24" height="2.55" fill="#555555" stroke="none" stroke-width="0" rx="0" />
<rect x="758.74" y="153.8" width="2.24" height="2.55" fill="#555555" stroke="none" stroke-width="0" rx="0" />
<rect x="761.95" y="153.8" width="2.24" height="2.55" fill="#555555" stroke="none" stroke-width="0" rx="0" />
<rect x="765.15" y="153.8" width="2.24" height="2.55" fill="#555555" stroke="none" stroke-width="0" rx="0" />
<rect x="769.96" y="153.8" width="2.24" height="2.55" fill="#555555" stroke="none" stroke-width="0" rx="0" />
<rect x="773.16" y="153.8" width="2.24" height="2.55" fill="#555555" stroke="none" stroke-width="0" rx="0" />
<rect x="776.36" y="153.8" width="2.24" height="2.55" fill="#555555" stroke="none" stroke-width="0" rx="0" />
<rect x="779.57" y="153.8" width="2.24" height="2.55" fill="#555555" stroke="none" stroke-width="0" rx="0" />
<rect x="782.77" y="153.8" width="2.24" height="2.55" fill="#555555" stroke="none" stroke-width="0" rx="0" />
<rect x="787.57" y="153.8" width="2.24" height="2.55" fill="#555555" stroke="none" stroke-width="0" rx="0" />
<rect x="790.78" y="153.8" width="2.24" height="2.55" fill="#555555" stroke="none" stroke-width="0" rx="0" />
<rect x="793.98" y="153.8" width="2.24" height="2.55" fill="#555555" stroke="none" stroke-width="0" rx="0" />
<rect x="797.19" y="153.8" width="2.24" height="2.55" fill="#555555" stroke="none" stroke-width="0" rx="0" />
<rect x="800.39" y="153.8" width="2.24" height="2.55" fill="#555555" stroke="none" stroke-width="0" rx="0" />
<rect x="805.19" y="153.8" width="2.24" height="2.55" fill="#555555" stroke="none" stroke-width="0" rx="0" />
<rect x="808.4" y="153.8" width="2.24" height="2.55" fill="#555555" stroke="none" stroke-width="0" rx="0" />
<rect x="715.5" y="157.55" width="2.24" height="2.55" fill="#555555" stroke="none" stroke-width="0" rx="0" />
<rect x="718.7" y="157.55" width="2.24" height="2.55" fill="#555555" stroke="none" stroke-width="0" rx="0" />
<rect x="723.51" y="157.55" width="2.24" height="2.55" fill="#555555" stroke="none" stroke-width="0" rx="0" />
<rect x="726.71" y="157.55" width="2.24" height="2.55" fill="#555555" stroke="none" stroke-width="0" rx="0" />
<rect x="729.91" y="157.55" width="2.24" height="2.55" fill="#555555" stroke="none" stroke-width="0" rx="0" />
<rect x="734.72" y="157.55" width="2.24" height="2.55" fill="#555555" stroke="none" stroke-width="0" rx="0" />
<rect x="737.92" y="157.55" width="2.24" height="2.55" fill="#555555" stroke="none" stroke-width="0" rx="0" />
<rect x="741.13" y="157.55" width="2.24" height="2.55" fill="#555555" stroke="none" stroke-width="0" rx="0" />
<rect x="744.33" y="157.55" width="2.24" height="2.55" fill="#555555" stroke="none" stroke-width="0" rx="0" />
<rect x="747.53" y="157.55" width="2.24" height="2.55" fill="#555555" stroke="none" stroke-width="0" rx="0" />
<rect x="752.34" y="157.55" width="2.24" height="2.55" fill="#555555" stroke="none" stroke-width="0" rx="0" />
<rect x="755.54" y="157.55" width="2.24" height="2.55" fill="#555555" stroke="none" stroke-width="0" rx="0" />
<rect x="758.74" y="157.55" width="2.24" height="2.55" fill="#555555" stroke="none" stroke-width="0" rx="0" />
<rect x="761.95" y="157.55" width="2.24" height="2.55" fill="#555555" stroke="none" stroke-width="0" rx="0" />
<rect x="765.15" y="157.55" width="2.24" height="2.55" fill="#555555" stroke="none" stroke-width="0" rx="0" />
<rect x="769.96" y="157.55" width="2.24" height="2.55" fill="#555555" stroke="none" stroke-width="0" rx="0" />
<rect x="773.16" y="157.55" width="2.24" height="2.55" fill="#555555" stroke="none" stroke-width="0" rx="0" />
<rect x="776.36" y="157.55" width="2.24" height="2.55" fill="#555555" stroke="none" stroke-width="0" rx="0" />
<rect x="779.57" y="157.55" width="2.24" height="2.55" fill="#555555" stroke="none" stroke-width="0" rx="0" />
<rect x="782.77" y="157.55" width="2.24" height="2.55" fill="#555555" stroke="none" stroke-width="0" rx="0" />
<rect x="787.57" y="157.55" width="2.24" height="2.55" fill="#555555" stroke="none" stroke-width="0" rx="0" />
<rect x="790.78" y="157.55" width="2.24" height="2.55" fill="#555555" stroke="none" stroke-width="0" rx="0" />
<rect x="793.98" y="157.55" width="2.24" height="2.55" fill="#555555" stroke="none" stroke-width="0" rx="0" />
<rect x="797.19" y="157.55" width="2.24" height="2.55" fill="#555555" stroke="none" stroke-width="0" rx="0" />
<rect x="800.39" y="157.55" width="2.24" height="2.55" fill="#555555" stroke="none" stroke-width="0" rx="0" />
<rect x="805.19" y="157.55" width="2.24" height="2.55" fill="#555555" stroke="none" stroke-width="0" rx="0" />
<rect x="808.4" y="157.55" width="2.24" height="2.55" fill="#555555" stroke="none" stroke-width="0" rx="0" />
<text x="743.4" y="176.8" font-size="10" fill="#5a5a5a" font-weight="normal" text-anchor="start"  stroke="#5a5a5a" stroke-width="0.15">vBlance</text>
<polygon points="719.8,197.8 806.9,197.8 815.9,205.6 710.8,205.6" fill="#6d6d6d" stroke="none" stroke-width="0" />
<rect x="710.8" y="205.6" width="105.10000000000002" height="14.0" fill="#efefef" stroke="#5e5e5e" stroke-width="1.6" rx="1.5" />
<rect x="715.5" y="208.9" width="2.24" height="2.8" fill="#555555" stroke="none" stroke-width="0" rx="0" />
<rect x="718.7" y="208.9" width="2.24" height="2.8" fill="#555555" stroke="none" stroke-width="0" rx="0" />
<rect x="723.51" y="208.9" width="2.24" height="2.8" fill="#555555" stroke="none" stroke-width="0" rx="0" />
<rect x="726.71" y="208.9" width="2.24" height="2.8" fill="#555555" stroke="none" stroke-width="0" rx="0" />
<rect x="729.91" y="208.9" width="2.24" height="2.8" fill="#555555" stroke="none" stroke-width="0" rx="0" />
<rect x="734.72" y="208.9" width="2.24" height="2.8" fill="#555555" stroke="none" stroke-width="0" rx="0" />
<rect x="737.92" y="208.9" width="2.24" height="2.8" fill="#555555" stroke="none" stroke-width="0" rx="0" />
<rect x="741.13" y="208.9" width="2.24" height="2.8" fill="#555555" stroke="none" stroke-width="0" rx="0" />
<rect x="744.33" y="208.9" width="2.24" height="2.8" fill="#555555" stroke="none" stroke-width="0" rx="0" />
<rect x="747.53" y="208.9" width="2.24" height="2.8" fill="#555555" stroke="none" stroke-width="0" rx="0" />
<rect x="752.34" y="208.9" width="2.24" height="2.8" fill="#555555" stroke="none" stroke-width="0" rx="0" />
<rect x="755.54" y="208.9" width="2.24" height="2.8" fill="#555555" stroke="none" stroke-width="0" rx="0" />
<rect x="758.74" y="208.9" width="2.24" height="2.8" fill="#555555" stroke="none" stroke-width="0" rx="0" />
<rect x="761.95" y="208.9" width="2.24" height="2.8" fill="#555555" stroke="none" stroke-width="0" rx="0" />
<rect x="765.15" y="208.9" width="2.24" height="2.8" fill="#555555" stroke="none" stroke-width="0" rx="0" />
<rect x="769.96" y="208.9" width="2.24" height="2.8" fill="#555555" stroke="none" stroke-width="0" rx="0" />
<rect x="773.16" y="208.9" width="2.24" height="2.8" fill="#555555" stroke="none" stroke-width="0" rx="0" />
<rect x="776.36" y="208.9" width="2.24" height="2.8" fill="#555555" stroke="none" stroke-width="0" rx="0" />
<rect x="779.57" y="208.9" width="2.24" height="2.8" fill="#555555" stroke="none" stroke-width="0" rx="0" />
<rect x="782.77" y="208.9" width="2.24" height="2.8" fill="#555555" stroke="none" stroke-width="0" rx="0" />
<rect x="787.57" y="208.9" width="2.24" height="2.8" fill="#555555" stroke="none" stroke-width="0" rx="0" />
<rect x="790.78" y="208.9" width="2.24" height="2.8" fill="#555555" stroke="none" stroke-width="0" rx="0" />
<rect x="793.98" y="208.9" width="2.24" height="2.8" fill="#555555" stroke="none" stroke-width="0" rx="0" />
<rect x="797.19" y="208.9" width="2.24" height="2.8" fill="#555555" stroke="none" stroke-width="0" rx="0" />
<rect x="800.39" y="208.9" width="2.24" height="2.8" fill="#555555" stroke="none" stroke-width="0" rx="0" />
<rect x="805.19" y="208.9" width="2.24" height="2.8" fill="#555555" stroke="none" stroke-width="0" rx="0" />
<rect x="808.4" y="208.9" width="2.24" height="2.8" fill="#555555" stroke="none" stroke-width="0" rx="0" />
<rect x="715.5" y="212.9" width="2.24" height="2.8" fill="#555555" stroke="none" stroke-width="0" rx="0" />
<rect x="718.7" y="212.9" width="2.24" height="2.8" fill="#555555" stroke="none" stroke-width="0" rx="0" />
<rect x="723.51" y="212.9" width="2.24" height="2.8" fill="#555555" stroke="none" stroke-width="0" rx="0" />
<rect x="726.71" y="212.9" width="2.24" height="2.8" fill="#555555" stroke="none" stroke-width="0" rx="0" />
<rect x="729.91" y="212.9" width="2.24" height="2.8" fill="#555555" stroke="none" stroke-width="0" rx="0" />
<rect x="734.72" y="212.9" width="2.24" height="2.8" fill="#555555" stroke="none" stroke-width="0" rx="0" />
<rect x="737.92" y="212.9" width="2.24" height="2.8" fill="#555555" stroke="none" stroke-width="0" rx="0" />
<rect x="741.13" y="212.9" width="2.24" height="2.8" fill="#555555" stroke="none" stroke-width="0" rx="0" />
<rect x="744.33" y="212.9" width="2.24" height="2.8" fill="#555555" stroke="none" stroke-width="0" rx="0" />
<rect x="747.53" y="212.9" width="2.24" height="2.8" fill="#555555" stroke="none" stroke-width="0" rx="0" />
<rect x="752.34" y="212.9" width="2.24" height="2.8" fill="#555555" stroke="none" stroke-width="0" rx="0" />
<rect x="755.54" y="212.9" width="2.24" height="2.8" fill="#555555" stroke="none" stroke-width="0" rx="0" />
<rect x="758.74" y="212.9" width="2.24" height="2.8" fill="#555555" stroke="none" stroke-width="0" rx="0" />
<rect x="761.95" y="212.9" width="2.24" height="2.8" fill="#555555" stroke="none" stroke-width="0" rx="0" />
<rect x="765.15" y="212.9" width="2.24" height="2.8" fill="#555555" stroke="none" stroke-width="0" rx="0" />
<rect x="769.96" y="212.9" width="2.24" height="2.8" fill="#555555" stroke="none" stroke-width="0" rx="0" />
<rect x="773.16" y="212.9" width="2.24" height="2.8" fill="#555555" stroke="none" stroke-width="0" rx="0" />
<rect x="776.36" y="212.9" width="2.24" height="2.8" fill="#555555" stroke="none" stroke-width="0" rx="0" />
<rect x="779.57" y="212.9" width="2.24" height="2.8" fill="#555555" stroke="none" stroke-width="0" rx="0" />
<rect x="782.77" y="212.9" width="2.24" height="2.8" fill="#555555" stroke="none" stroke-width="0" rx="0" />
<rect x="787.57" y="212.9" width="2.24" height="2.8" fill="#555555" stroke="none" stroke-width="0" rx="0" />
<rect x="790.78" y="212.9" width="2.24" height="2.8" fill="#555555" stroke="none" stroke-width="0" rx="0" />
<rect x="793.98" y="212.9" width="2.24" height="2.8" fill="#555555" stroke="none" stroke-width="0" rx="0" />
<rect x="797.19" y="212.9" width="2.24" height="2.8" fill="#555555" stroke="none" stroke-width="0" rx="0" />
<rect x="800.39" y="212.9" width="2.24" height="2.8" fill="#555555" stroke="none" stroke-width="0" rx="0" />
<rect x="805.19" y="212.9" width="2.24" height="2.8" fill="#555555" stroke="none" stroke-width="0" rx="0" />
<rect x="808.4" y="212.9" width="2.24" height="2.8" fill="#555555" stroke="none" stroke-width="0" rx="0" />
<text x="743.4" y="231.5" font-size="10" fill="#5a5a5a" font-weight="normal" text-anchor="start"  stroke="#5a5a5a" stroke-width="0.15">vBlance</text>
<polygon points="857.5,134.8 885.6,119 900.3,128 872.1,143.5" fill="#f0f0f0" stroke="none" stroke-width="0" />
<polygon points="857.5,134.8 872.1,143.5 872.1,174.1 857.5,169.6" fill="#f7f7f7" stroke="none" stroke-width="0" />
<polygon points="872.1,143.5 900.3,127.5 900.3,166 872.1,174.1" fill="#b9b9b9" stroke="none" stroke-width="0" />
<line x1="875.0" y1="142.0" x2="875.0" y2="172.5" stroke="#b1b1b1" stroke-width="0.7"/>
<line x1="877.9" y1="140.2" x2="877.9" y2="171.7" stroke="#b1b1b1" stroke-width="0.7"/>
<line x1="880.8" y1="138.5" x2="880.8" y2="170.8" stroke="#b1b1b1" stroke-width="0.7"/>
<line x1="883.7" y1="136.8" x2="883.7" y2="169.9" stroke="#b1b1b1" stroke-width="0.7"/>
<line x1="886.6" y1="135.0" x2="886.6" y2="169.1" stroke="#b1b1b1" stroke-width="0.7"/>
<line x1="889.5" y1="133.2" x2="889.5" y2="168.2" stroke="#b1b1b1" stroke-width="0.7"/>
<line x1="892.4" y1="131.5" x2="892.4" y2="167.4" stroke="#b1b1b1" stroke-width="0.7"/>
<line x1="895.3" y1="129.8" x2="895.3" y2="166.6" stroke="#b1b1b1" stroke-width="0.7"/>
<line x1="898.2" y1="128.0" x2="898.2" y2="165.7" stroke="#b1b1b1" stroke-width="0.7"/>
<polygon points="859,142 871,145.5 871,152.5 859,149" fill="#1b1b1b" stroke="none" stroke-width="0" />
<polygon points="859,155 871,158.5 871,164 859,160.5" fill="#2a2522" stroke="none" stroke-width="0" />
<line x1="860" y1="158" x2="870" y2="161" stroke="#c0703a" stroke-width="0.6"/>
<circle cx="862" cy="166" r="1" fill="#ddd"/>
<polygon points="857.5,195.3 885.6,179.5 900.3,188.5 872.1,204.0" fill="#f0f0f0" stroke="none" stroke-width="0" />
<polygon points="857.5,195.3 872.1,204.0 872.1,234.6 857.5,230.1" fill="#f7f7f7" stroke="none" stroke-width="0" />
<polygon points="872.1,204.0 900.3,188.0 900.3,226.5 872.1,234.6" fill="#b9b9b9" stroke="none" stroke-width="0" />
<line x1="875.0" y1="202.5" x2="875.0" y2="233.0" stroke="#b1b1b1" stroke-width="0.7"/>
<line x1="877.9" y1="200.8" x2="877.9" y2="232.2" stroke="#b1b1b1" stroke-width="0.7"/>
<line x1="880.8" y1="199.0" x2="880.8" y2="231.3" stroke="#b1b1b1" stroke-width="0.7"/>
<line x1="883.7" y1="197.2" x2="883.7" y2="230.4" stroke="#b1b1b1" stroke-width="0.7"/>
<line x1="886.6" y1="195.5" x2="886.6" y2="229.6" stroke="#b1b1b1" stroke-width="0.7"/>
<line x1="889.5" y1="193.8" x2="889.5" y2="228.8" stroke="#b1b1b1" stroke-width="0.7"/>
<line x1="892.4" y1="192.0" x2="892.4" y2="227.9" stroke="#b1b1b1" stroke-width="0.7"/>
<line x1="895.3" y1="190.2" x2="895.3" y2="227.1" stroke="#b1b1b1" stroke-width="0.7"/>
<line x1="898.2" y1="188.5" x2="898.2" y2="226.2" stroke="#b1b1b1" stroke-width="0.7"/>
<polygon points="859,202.5 871,206.0 871,213.0 859,209.5" fill="#1b1b1b" stroke="none" stroke-width="0" />
<polygon points="859,215.5 871,219.0 871,224.5 859,221.0" fill="#2a2522" stroke="none" stroke-width="0" />
<line x1="860" y1="218.5" x2="870" y2="221.5" stroke="#c0703a" stroke-width="0.6"/>
<circle cx="862" cy="226.5" r="1" fill="#ddd"/>
<text x="906" y="154.3" font-size="10" fill="#5a5a5a" font-weight="normal" text-anchor="start"  stroke="#5a5a5a" stroke-width="0.15">AAA/Portal</text>
<text x="906" y="216.9" font-size="10" fill="#5a5a5a" font-weight="normal" text-anchor="start"  stroke="#5a5a5a" stroke-width="0.15">AAA/Portal</text>
<polygon points="753.5,356.2 861.6,356.2 863.6,359.6 751.5,359.6" fill="#b9bcc2" stroke="none" stroke-width="0" />
<rect x="751.5" y="359.6" width="112.10000000000002" height="11.199999999999989" fill="#3e5273" stroke="none" stroke-width="0" rx="0" />
<rect x="771.68" y="361.2" width="3.8" height="3.4" fill="#2a2f3a" stroke="none" stroke-width="0" rx="0" />
<rect x="772.28" y="362.2" width="2.6" height="1.4" fill="#d8dbe0" stroke="none" stroke-width="0" rx="0" />
<rect x="771.68" y="365.2" width="3.8" height="3.4" fill="#2a2f3a" stroke="none" stroke-width="0" rx="0" />
<rect x="772.28" y="366.2" width="2.6" height="1.4" fill="#d8dbe0" stroke="none" stroke-width="0" rx="0" />
<rect x="776.18" y="361.2" width="3.8" height="3.4" fill="#2a2f3a" stroke="none" stroke-width="0" rx="0" />
<rect x="776.78" y="362.2" width="2.6" height="1.4" fill="#d8dbe0" stroke="none" stroke-width="0" rx="0" />
<rect x="776.18" y="365.2" width="3.8" height="3.4" fill="#2a2f3a" stroke="none" stroke-width="0" rx="0" />
<rect x="776.78" y="366.2" width="2.6" height="1.4" fill="#d8dbe0" stroke="none" stroke-width="0" rx="0" />
<rect x="780.68" y="361.2" width="3.8" height="3.4" fill="#2a2f3a" stroke="none" stroke-width="0" rx="0" />
<rect x="781.28" y="362.2" width="2.6" height="1.4" fill="#d8dbe0" stroke="none" stroke-width="0" rx="0" />
<rect x="780.68" y="365.2" width="3.8" height="3.4" fill="#2a2f3a" stroke="none" stroke-width="0" rx="0" />
<rect x="781.28" y="366.2" width="2.6" height="1.4" fill="#d8dbe0" stroke="none" stroke-width="0" rx="0" />
<rect x="785.18" y="361.2" width="3.8" height="3.4" fill="#2a2f3a" stroke="none" stroke-width="0" rx="0" />
<rect x="785.78" y="362.2" width="2.6" height="1.4" fill="#d8dbe0" stroke="none" stroke-width="0" rx="0" />
<rect x="785.18" y="365.2" width="3.8" height="3.4" fill="#2a2f3a" stroke="none" stroke-width="0" rx="0" />
<rect x="785.78" y="366.2" width="2.6" height="1.4" fill="#d8dbe0" stroke="none" stroke-width="0" rx="0" />
<rect x="789.68" y="361.2" width="3.8" height="3.4" fill="#2a2f3a" stroke="none" stroke-width="0" rx="0" />
<rect x="790.28" y="362.2" width="2.6" height="1.4" fill="#d8dbe0" stroke="none" stroke-width="0" rx="0" />
<rect x="789.68" y="365.2" width="3.8" height="3.4" fill="#2a2f3a" stroke="none" stroke-width="0" rx="0" />
<rect x="790.28" y="366.2" width="2.6" height="1.4" fill="#d8dbe0" stroke="none" stroke-width="0" rx="0" />
<rect x="794.18" y="361.2" width="3.8" height="3.4" fill="#2a2f3a" stroke="none" stroke-width="0" rx="0" />
<rect x="794.78" y="362.2" width="2.6" height="1.4" fill="#d8dbe0" stroke="none" stroke-width="0" rx="0" />
<rect x="794.18" y="365.2" width="3.8" height="3.4" fill="#2a2f3a" stroke="none" stroke-width="0" rx="0" />
<rect x="794.78" y="366.2" width="2.6" height="1.4" fill="#d8dbe0" stroke="none" stroke-width="0" rx="0" />
<rect x="798.68" y="361.2" width="3.8" height="3.4" fill="#2a2f3a" stroke="none" stroke-width="0" rx="0" />
<rect x="799.28" y="362.2" width="2.6" height="1.4" fill="#d8dbe0" stroke="none" stroke-width="0" rx="0" />
<rect x="798.68" y="365.2" width="3.8" height="3.4" fill="#2a2f3a" stroke="none" stroke-width="0" rx="0" />
<rect x="799.28" y="366.2" width="2.6" height="1.4" fill="#d8dbe0" stroke="none" stroke-width="0" rx="0" />
<rect x="803.18" y="361.2" width="3.8" height="3.4" fill="#2a2f3a" stroke="none" stroke-width="0" rx="0" />
<rect x="803.78" y="362.2" width="2.6" height="1.4" fill="#d8dbe0" stroke="none" stroke-width="0" rx="0" />
<rect x="803.18" y="365.2" width="3.8" height="3.4" fill="#2a2f3a" stroke="none" stroke-width="0" rx="0" />
<rect x="803.78" y="366.2" width="2.6" height="1.4" fill="#d8dbe0" stroke="none" stroke-width="0" rx="0" />
<rect x="819.88" y="361.2" width="3.4" height="3.4" fill="#dcdfe3" stroke="none" stroke-width="0" rx="0" />
<rect x="820.88" y="362.6" width="1.4" height="1.6" fill="#4a4f58" stroke="none" stroke-width="0" rx="0" />
<rect x="819.88" y="365.2" width="3.4" height="3.4" fill="#dcdfe3" stroke="none" stroke-width="0" rx="0" />
<rect x="820.88" y="366.6" width="1.4" height="1.6" fill="#4a4f58" stroke="none" stroke-width="0" rx="0" />
<rect x="824.08" y="361.2" width="3.4" height="3.4" fill="#dcdfe3" stroke="none" stroke-width="0" rx="0" />
<rect x="825.08" y="362.6" width="1.4" height="1.6" fill="#4a4f58" stroke="none" stroke-width="0" rx="0" />
<rect x="824.08" y="365.2" width="3.4" height="3.4" fill="#dcdfe3" stroke="none" stroke-width="0" rx="0" />
<rect x="825.08" y="366.6" width="1.4" height="1.6" fill="#4a4f58" stroke="none" stroke-width="0" rx="0" />
<rect x="828.28" y="361.2" width="3.4" height="3.4" fill="#dcdfe3" stroke="none" stroke-width="0" rx="0" />
<rect x="829.28" y="362.6" width="1.4" height="1.6" fill="#4a4f58" stroke="none" stroke-width="0" rx="0" />
<rect x="828.28" y="365.2" width="3.4" height="3.4" fill="#dcdfe3" stroke="none" stroke-width="0" rx="0" />
<rect x="829.28" y="366.6" width="1.4" height="1.6" fill="#4a4f58" stroke="none" stroke-width="0" rx="0" />
<rect x="832.48" y="361.2" width="3.4" height="3.4" fill="#dcdfe3" stroke="none" stroke-width="0" rx="0" />
<rect x="833.48" y="362.6" width="1.4" height="1.6" fill="#4a4f58" stroke="none" stroke-width="0" rx="0" />
<rect x="832.48" y="365.2" width="3.4" height="3.4" fill="#dcdfe3" stroke="none" stroke-width="0" rx="0" />
<rect x="833.48" y="366.6" width="1.4" height="1.6" fill="#4a4f58" stroke="none" stroke-width="0" rx="0" />
<rect x="838.38" y="364.64" width="14" height="5.04" fill="#1c2230" stroke="none" stroke-width="0" rx="0" />
<circle cx="840.06" cy="362.20" r="1.1" fill="#b8c060"/>
<circle cx="844.54" cy="362.20" r="0.9" fill="#9aa0a8"/>
<circle cx="849.03" cy="362.20" r="1.1" fill="#e0c040"/>
<rect x="855.6" y="361.20000000000005" width="5" height="3.4" fill="#d9dde3" stroke="none" stroke-width="0" rx="0" />
<rect x="855.6" y="365.40000000000003" width="5" height="3.4" fill="#d9dde3" stroke="none" stroke-width="0" rx="0" />
<rect x="762.71" y="361.6" width="5" height="7.2" fill="#3f6070" stroke="none" stroke-width="0" rx="0" />
<text x="720.7" y="380" font-size="10" fill="#5a5a5a" font-weight="normal" text-anchor="start"  stroke="#5a5a5a" stroke-width="0.15">OLT</text>
<text x="706.5" y="391.7" font-size="10" fill="#5a5a5a" font-weight="normal" text-anchor="start"  stroke="#5a5a5a" stroke-width="0.15">V1600G2</text>
<polygon points="533,414 642,414 644,417.2 531,417.2" fill="#b9bcc2" stroke="none" stroke-width="0" />
<rect x="531" y="417.2" width="113" height="10.600000000000023" fill="#3e5273" stroke="none" stroke-width="0" rx="0" />
<rect x="551.34" y="418.8" width="3.8" height="3.1" fill="#2a2f3a" stroke="none" stroke-width="0" rx="0" />
<rect x="551.94" y="419.8" width="2.6" height="1.4" fill="#d8dbe0" stroke="none" stroke-width="0" rx="0" />
<rect x="551.34" y="422.5" width="3.8" height="3.1" fill="#2a2f3a" stroke="none" stroke-width="0" rx="0" />
<rect x="551.94" y="423.5" width="2.6" height="1.4" fill="#d8dbe0" stroke="none" stroke-width="0" rx="0" />
<rect x="555.84" y="418.8" width="3.8" height="3.1" fill="#2a2f3a" stroke="none" stroke-width="0" rx="0" />
<rect x="556.44" y="419.8" width="2.6" height="1.4" fill="#d8dbe0" stroke="none" stroke-width="0" rx="0" />
<rect x="555.84" y="422.5" width="3.8" height="3.1" fill="#2a2f3a" stroke="none" stroke-width="0" rx="0" />
<rect x="556.44" y="423.5" width="2.6" height="1.4" fill="#d8dbe0" stroke="none" stroke-width="0" rx="0" />
<rect x="560.34" y="418.8" width="3.8" height="3.1" fill="#2a2f3a" stroke="none" stroke-width="0" rx="0" />
<rect x="560.94" y="419.8" width="2.6" height="1.4" fill="#d8dbe0" stroke="none" stroke-width="0" rx="0" />
<rect x="560.34" y="422.5" width="3.8" height="3.1" fill="#2a2f3a" stroke="none" stroke-width="0" rx="0" />
<rect x="560.94" y="423.5" width="2.6" height="1.4" fill="#d8dbe0" stroke="none" stroke-width="0" rx="0" />
<rect x="564.84" y="418.8" width="3.8" height="3.1" fill="#2a2f3a" stroke="none" stroke-width="0" rx="0" />
<rect x="565.44" y="419.8" width="2.6" height="1.4" fill="#d8dbe0" stroke="none" stroke-width="0" rx="0" />
<rect x="564.84" y="422.5" width="3.8" height="3.1" fill="#2a2f3a" stroke="none" stroke-width="0" rx="0" />
<rect x="565.44" y="423.5" width="2.6" height="1.4" fill="#d8dbe0" stroke="none" stroke-width="0" rx="0" />
<rect x="569.34" y="418.8" width="3.8" height="3.1" fill="#2a2f3a" stroke="none" stroke-width="0" rx="0" />
<rect x="569.94" y="419.8" width="2.6" height="1.4" fill="#d8dbe0" stroke="none" stroke-width="0" rx="0" />
<rect x="569.34" y="422.5" width="3.8" height="3.1" fill="#2a2f3a" stroke="none" stroke-width="0" rx="0" />
<rect x="569.94" y="423.5" width="2.6" height="1.4" fill="#d8dbe0" stroke="none" stroke-width="0" rx="0" />
<rect x="573.84" y="418.8" width="3.8" height="3.1" fill="#2a2f3a" stroke="none" stroke-width="0" rx="0" />
<rect x="574.44" y="419.8" width="2.6" height="1.4" fill="#d8dbe0" stroke="none" stroke-width="0" rx="0" />
<rect x="573.84" y="422.5" width="3.8" height="3.1" fill="#2a2f3a" stroke="none" stroke-width="0" rx="0" />
<rect x="574.44" y="423.5" width="2.6" height="1.4" fill="#d8dbe0" stroke="none" stroke-width="0" rx="0" />
<rect x="578.34" y="418.8" width="3.8" height="3.1" fill="#2a2f3a" stroke="none" stroke-width="0" rx="0" />
<rect x="578.94" y="419.8" width="2.6" height="1.4" fill="#d8dbe0" stroke="none" stroke-width="0" rx="0" />
<rect x="578.34" y="422.5" width="3.8" height="3.1" fill="#2a2f3a" stroke="none" stroke-width="0" rx="0" />
<rect x="578.94" y="423.5" width="2.6" height="1.4" fill="#d8dbe0" stroke="none" stroke-width="0" rx="0" />
<rect x="582.84" y="418.8" width="3.8" height="3.1" fill="#2a2f3a" stroke="none" stroke-width="0" rx="0" />
<rect x="583.44" y="419.8" width="2.6" height="1.4" fill="#d8dbe0" stroke="none" stroke-width="0" rx="0" />
<rect x="582.84" y="422.5" width="3.8" height="3.1" fill="#2a2f3a" stroke="none" stroke-width="0" rx="0" />
<rect x="583.44" y="423.5" width="2.6" height="1.4" fill="#d8dbe0" stroke="none" stroke-width="0" rx="0" />
<rect x="599.93" y="418.8" width="3.4" height="3.1" fill="#dcdfe3" stroke="none" stroke-width="0" rx="0" />
<rect x="600.93" y="420.2" width="1.4" height="1.6" fill="#4a4f58" stroke="none" stroke-width="0" rx="0" />
<rect x="599.93" y="422.5" width="3.4" height="3.1" fill="#dcdfe3" stroke="none" stroke-width="0" rx="0" />
<rect x="600.93" y="423.9" width="1.4" height="1.6" fill="#4a4f58" stroke="none" stroke-width="0" rx="0" />
<rect x="604.13" y="418.8" width="3.4" height="3.1" fill="#dcdfe3" stroke="none" stroke-width="0" rx="0" />
<rect x="605.13" y="420.2" width="1.4" height="1.6" fill="#4a4f58" stroke="none" stroke-width="0" rx="0" />
<rect x="604.13" y="422.5" width="3.4" height="3.1" fill="#dcdfe3" stroke="none" stroke-width="0" rx="0" />
<rect x="605.13" y="423.9" width="1.4" height="1.6" fill="#4a4f58" stroke="none" stroke-width="0" rx="0" />
<rect x="608.33" y="418.8" width="3.4" height="3.1" fill="#dcdfe3" stroke="none" stroke-width="0" rx="0" />
<rect x="609.33" y="420.2" width="1.4" height="1.6" fill="#4a4f58" stroke="none" stroke-width="0" rx="0" />
<rect x="608.33" y="422.5" width="3.4" height="3.1" fill="#dcdfe3" stroke="none" stroke-width="0" rx="0" />
<rect x="609.33" y="423.9" width="1.4" height="1.6" fill="#4a4f58" stroke="none" stroke-width="0" rx="0" />
<rect x="612.53" y="418.8" width="3.4" height="3.1" fill="#dcdfe3" stroke="none" stroke-width="0" rx="0" />
<rect x="613.53" y="420.2" width="1.4" height="1.6" fill="#4a4f58" stroke="none" stroke-width="0" rx="0" />
<rect x="612.53" y="422.5" width="3.4" height="3.1" fill="#dcdfe3" stroke="none" stroke-width="0" rx="0" />
<rect x="613.53" y="423.9" width="1.4" height="1.6" fill="#4a4f58" stroke="none" stroke-width="0" rx="0" />
<rect x="618.58" y="421.97" width="14" height="4.77" fill="#1c2230" stroke="none" stroke-width="0" rx="0" />
<circle cx="620.27" cy="419.80" r="1.1" fill="#b8c060"/>
<circle cx="624.79" cy="419.80" r="0.9" fill="#9aa0a8"/>
<circle cx="629.31" cy="419.80" r="1.1" fill="#e0c040"/>
<rect x="636" y="418.8" width="5" height="3.4" fill="#d9dde3" stroke="none" stroke-width="0" rx="0" />
<rect x="636" y="423.0" width="5" height="3.4" fill="#d9dde3" stroke="none" stroke-width="0" rx="0" />
<rect x="542.3" y="419.2" width="5" height="6.6" fill="#3f6070" stroke="none" stroke-width="0" rx="0" />
<text x="505.7" y="437" font-size="10" fill="#5a5a5a" font-weight="normal" text-anchor="start"  stroke="#5a5a5a" stroke-width="0.15">OLT</text>
<text x="491.2" y="448.7" font-size="10" fill="#5a5a5a" font-weight="normal" text-anchor="start"  stroke="#5a5a5a" stroke-width="0.15">V1600G2</text>
<polygon points="753.5,428.8 861.6,428.8 863.6,432 751.5,432" fill="#b9bcc2" stroke="none" stroke-width="0" />
<rect x="751.5" y="432" width="112.10000000000002" height="11" fill="#3e5273" stroke="none" stroke-width="0" rx="0" />
<rect x="771.68" y="433.6" width="3.8" height="3.3" fill="#2a2f3a" stroke="none" stroke-width="0" rx="0" />
<rect x="772.28" y="434.6" width="2.6" height="1.4" fill="#d8dbe0" stroke="none" stroke-width="0" rx="0" />
<rect x="771.68" y="437.5" width="3.8" height="3.3" fill="#2a2f3a" stroke="none" stroke-width="0" rx="0" />
<rect x="772.28" y="438.5" width="2.6" height="1.4" fill="#d8dbe0" stroke="none" stroke-width="0" rx="0" />
<rect x="776.18" y="433.6" width="3.8" height="3.3" fill="#2a2f3a" stroke="none" stroke-width="0" rx="0" />
<rect x="776.78" y="434.6" width="2.6" height="1.4" fill="#d8dbe0" stroke="none" stroke-width="0" rx="0" />
<rect x="776.18" y="437.5" width="3.8" height="3.3" fill="#2a2f3a" stroke="none" stroke-width="0" rx="0" />
<rect x="776.78" y="438.5" width="2.6" height="1.4" fill="#d8dbe0" stroke="none" stroke-width="0" rx="0" />
<rect x="780.68" y="433.6" width="3.8" height="3.3" fill="#2a2f3a" stroke="none" stroke-width="0" rx="0" />
<rect x="781.28" y="434.6" width="2.6" height="1.4" fill="#d8dbe0" stroke="none" stroke-width="0" rx="0" />
<rect x="780.68" y="437.5" width="3.8" height="3.3" fill="#2a2f3a" stroke="none" stroke-width="0" rx="0" />
<rect x="781.28" y="438.5" width="2.6" height="1.4" fill="#d8dbe0" stroke="none" stroke-width="0" rx="0" />
<rect x="785.18" y="433.6" width="3.8" height="3.3" fill="#2a2f3a" stroke="none" stroke-width="0" rx="0" />
<rect x="785.78" y="434.6" width="2.6" height="1.4" fill="#d8dbe0" stroke="none" stroke-width="0" rx="0" />
<rect x="785.18" y="437.5" width="3.8" height="3.3" fill="#2a2f3a" stroke="none" stroke-width="0" rx="0" />
<rect x="785.78" y="438.5" width="2.6" height="1.4" fill="#d8dbe0" stroke="none" stroke-width="0" rx="0" />
<rect x="789.68" y="433.6" width="3.8" height="3.3" fill="#2a2f3a" stroke="none" stroke-width="0" rx="0" />
<rect x="790.28" y="434.6" width="2.6" height="1.4" fill="#d8dbe0" stroke="none" stroke-width="0" rx="0" />
<rect x="789.68" y="437.5" width="3.8" height="3.3" fill="#2a2f3a" stroke="none" stroke-width="0" rx="0" />
<rect x="790.28" y="438.5" width="2.6" height="1.4" fill="#d8dbe0" stroke="none" stroke-width="0" rx="0" />
<rect x="794.18" y="433.6" width="3.8" height="3.3" fill="#2a2f3a" stroke="none" stroke-width="0" rx="0" />
<rect x="794.78" y="434.6" width="2.6" height="1.4" fill="#d8dbe0" stroke="none" stroke-width="0" rx="0" />
<rect x="794.18" y="437.5" width="3.8" height="3.3" fill="#2a2f3a" stroke="none" stroke-width="0" rx="0" />
<rect x="794.78" y="438.5" width="2.6" height="1.4" fill="#d8dbe0" stroke="none" stroke-width="0" rx="0" />
<rect x="798.68" y="433.6" width="3.8" height="3.3" fill="#2a2f3a" stroke="none" stroke-width="0" rx="0" />
<rect x="799.28" y="434.6" width="2.6" height="1.4" fill="#d8dbe0" stroke="none" stroke-width="0" rx="0" />
<rect x="798.68" y="437.5" width="3.8" height="3.3" fill="#2a2f3a" stroke="none" stroke-width="0" rx="0" />
<rect x="799.28" y="438.5" width="2.6" height="1.4" fill="#d8dbe0" stroke="none" stroke-width="0" rx="0" />
<rect x="803.18" y="433.6" width="3.8" height="3.3" fill="#2a2f3a" stroke="none" stroke-width="0" rx="0" />
<rect x="803.78" y="434.6" width="2.6" height="1.4" fill="#d8dbe0" stroke="none" stroke-width="0" rx="0" />
<rect x="803.18" y="437.5" width="3.8" height="3.3" fill="#2a2f3a" stroke="none" stroke-width="0" rx="0" />
<rect x="803.78" y="438.5" width="2.6" height="1.4" fill="#d8dbe0" stroke="none" stroke-width="0" rx="0" />
<rect x="819.88" y="433.6" width="3.4" height="3.3" fill="#dcdfe3" stroke="none" stroke-width="0" rx="0" />
<rect x="820.88" y="435.0" width="1.4" height="1.6" fill="#4a4f58" stroke="none" stroke-width="0" rx="0" />
<rect x="819.88" y="437.5" width="3.4" height="3.3" fill="#dcdfe3" stroke="none" stroke-width="0" rx="0" />
<rect x="820.88" y="438.9" width="1.4" height="1.6" fill="#4a4f58" stroke="none" stroke-width="0" rx="0" />
<rect x="824.08" y="433.6" width="3.4" height="3.3" fill="#dcdfe3" stroke="none" stroke-width="0" rx="0" />
<rect x="825.08" y="435.0" width="1.4" height="1.6" fill="#4a4f58" stroke="none" stroke-width="0" rx="0" />
<rect x="824.08" y="437.5" width="3.4" height="3.3" fill="#dcdfe3" stroke="none" stroke-width="0" rx="0" />
<rect x="825.08" y="438.9" width="1.4" height="1.6" fill="#4a4f58" stroke="none" stroke-width="0" rx="0" />
<rect x="828.28" y="433.6" width="3.4" height="3.3" fill="#dcdfe3" stroke="none" stroke-width="0" rx="0" />
<rect x="829.28" y="435.0" width="1.4" height="1.6" fill="#4a4f58" stroke="none" stroke-width="0" rx="0" />
<rect x="828.28" y="437.5" width="3.4" height="3.3" fill="#dcdfe3" stroke="none" stroke-width="0" rx="0" />
<rect x="829.28" y="438.9" width="1.4" height="1.6" fill="#4a4f58" stroke="none" stroke-width="0" rx="0" />
<rect x="832.48" y="433.6" width="3.4" height="3.3" fill="#dcdfe3" stroke="none" stroke-width="0" rx="0" />
<rect x="833.48" y="435.0" width="1.4" height="1.6" fill="#4a4f58" stroke="none" stroke-width="0" rx="0" />
<rect x="832.48" y="437.5" width="3.4" height="3.3" fill="#dcdfe3" stroke="none" stroke-width="0" rx="0" />
<rect x="833.48" y="438.9" width="1.4" height="1.6" fill="#4a4f58" stroke="none" stroke-width="0" rx="0" />
<rect x="838.38" y="436.95" width="14" height="4.95" fill="#1c2230" stroke="none" stroke-width="0" rx="0" />
<circle cx="840.06" cy="434.60" r="1.1" fill="#b8c060"/>
<circle cx="844.54" cy="434.60" r="0.9" fill="#9aa0a8"/>
<circle cx="849.03" cy="434.60" r="1.1" fill="#e0c040"/>
<rect x="855.6" y="433.6" width="5" height="3.4" fill="#d9dde3" stroke="none" stroke-width="0" rx="0" />
<rect x="855.6" y="437.8" width="5" height="3.4" fill="#d9dde3" stroke="none" stroke-width="0" rx="0" />
<rect x="762.71" y="434" width="5" height="7" fill="#3f6070" stroke="none" stroke-width="0" rx="0" />
<text x="719" y="437.7" font-size="10" fill="#5a5a5a" font-weight="normal" text-anchor="start"  stroke="#5a5a5a" stroke-width="0.15">OLT</text>
<text x="705.2" y="450.3" font-size="10" fill="#5a5a5a" font-weight="normal" text-anchor="start"  stroke="#5a5a5a" stroke-width="0.15">V1600G2</text>
<polygon points="329.3,412.5 437.7,412.5 439.7,416.7 327.3,416.7" fill="#b9bcc2" stroke="none" stroke-width="0" />
<rect x="327.3" y="416.7" width="112.39999999999998" height="11.0" fill="#3e5273" stroke="none" stroke-width="0" rx="0" />
<rect x="347.53" y="418.3" width="3.8" height="3.3" fill="#2a2f3a" stroke="none" stroke-width="0" rx="0" />
<rect x="348.13" y="419.3" width="2.6" height="1.4" fill="#d8dbe0" stroke="none" stroke-width="0" rx="0" />
<rect x="347.53" y="422.2" width="3.8" height="3.3" fill="#2a2f3a" stroke="none" stroke-width="0" rx="0" />
<rect x="348.13" y="423.2" width="2.6" height="1.4" fill="#d8dbe0" stroke="none" stroke-width="0" rx="0" />
<rect x="352.03" y="418.3" width="3.8" height="3.3" fill="#2a2f3a" stroke="none" stroke-width="0" rx="0" />
<rect x="352.63" y="419.3" width="2.6" height="1.4" fill="#d8dbe0" stroke="none" stroke-width="0" rx="0" />
<rect x="352.03" y="422.2" width="3.8" height="3.3" fill="#2a2f3a" stroke="none" stroke-width="0" rx="0" />
<rect x="352.63" y="423.2" width="2.6" height="1.4" fill="#d8dbe0" stroke="none" stroke-width="0" rx="0" />
<rect x="356.53" y="418.3" width="3.8" height="3.3" fill="#2a2f3a" stroke="none" stroke-width="0" rx="0" />
<rect x="357.13" y="419.3" width="2.6" height="1.4" fill="#d8dbe0" stroke="none" stroke-width="0" rx="0" />
<rect x="356.53" y="422.2" width="3.8" height="3.3" fill="#2a2f3a" stroke="none" stroke-width="0" rx="0" />
<rect x="357.13" y="423.2" width="2.6" height="1.4" fill="#d8dbe0" stroke="none" stroke-width="0" rx="0" />
<rect x="361.03" y="418.3" width="3.8" height="3.3" fill="#2a2f3a" stroke="none" stroke-width="0" rx="0" />
<rect x="361.63" y="419.3" width="2.6" height="1.4" fill="#d8dbe0" stroke="none" stroke-width="0" rx="0" />
<rect x="361.03" y="422.2" width="3.8" height="3.3" fill="#2a2f3a" stroke="none" stroke-width="0" rx="0" />
<rect x="361.63" y="423.2" width="2.6" height="1.4" fill="#d8dbe0" stroke="none" stroke-width="0" rx="0" />
<rect x="365.53" y="418.3" width="3.8" height="3.3" fill="#2a2f3a" stroke="none" stroke-width="0" rx="0" />
<rect x="366.13" y="419.3" width="2.6" height="1.4" fill="#d8dbe0" stroke="none" stroke-width="0" rx="0" />
<rect x="365.53" y="422.2" width="3.8" height="3.3" fill="#2a2f3a" stroke="none" stroke-width="0" rx="0" />
<rect x="366.13" y="423.2" width="2.6" height="1.4" fill="#d8dbe0" stroke="none" stroke-width="0" rx="0" />
<rect x="370.03" y="418.3" width="3.8" height="3.3" fill="#2a2f3a" stroke="none" stroke-width="0" rx="0" />
<rect x="370.63" y="419.3" width="2.6" height="1.4" fill="#d8dbe0" stroke="none" stroke-width="0" rx="0" />
<rect x="370.03" y="422.2" width="3.8" height="3.3" fill="#2a2f3a" stroke="none" stroke-width="0" rx="0" />
<rect x="370.63" y="423.2" width="2.6" height="1.4" fill="#d8dbe0" stroke="none" stroke-width="0" rx="0" />
<rect x="374.53" y="418.3" width="3.8" height="3.3" fill="#2a2f3a" stroke="none" stroke-width="0" rx="0" />
<rect x="375.13" y="419.3" width="2.6" height="1.4" fill="#d8dbe0" stroke="none" stroke-width="0" rx="0" />
<rect x="374.53" y="422.2" width="3.8" height="3.3" fill="#2a2f3a" stroke="none" stroke-width="0" rx="0" />
<rect x="375.13" y="423.2" width="2.6" height="1.4" fill="#d8dbe0" stroke="none" stroke-width="0" rx="0" />
<rect x="379.03" y="418.3" width="3.8" height="3.3" fill="#2a2f3a" stroke="none" stroke-width="0" rx="0" />
<rect x="379.63" y="419.3" width="2.6" height="1.4" fill="#d8dbe0" stroke="none" stroke-width="0" rx="0" />
<rect x="379.03" y="422.2" width="3.8" height="3.3" fill="#2a2f3a" stroke="none" stroke-width="0" rx="0" />
<rect x="379.63" y="423.2" width="2.6" height="1.4" fill="#d8dbe0" stroke="none" stroke-width="0" rx="0" />
<rect x="395.86" y="418.3" width="3.4" height="3.3" fill="#dcdfe3" stroke="none" stroke-width="0" rx="0" />
<rect x="396.86" y="419.7" width="1.4" height="1.6" fill="#4a4f58" stroke="none" stroke-width="0" rx="0" />
<rect x="395.86" y="422.2" width="3.4" height="3.3" fill="#dcdfe3" stroke="none" stroke-width="0" rx="0" />
<rect x="396.86" y="423.6" width="1.4" height="1.6" fill="#4a4f58" stroke="none" stroke-width="0" rx="0" />
<rect x="400.06" y="418.3" width="3.4" height="3.3" fill="#dcdfe3" stroke="none" stroke-width="0" rx="0" />
<rect x="401.06" y="419.7" width="1.4" height="1.6" fill="#4a4f58" stroke="none" stroke-width="0" rx="0" />
<rect x="400.06" y="422.2" width="3.4" height="3.3" fill="#dcdfe3" stroke="none" stroke-width="0" rx="0" />
<rect x="401.06" y="423.6" width="1.4" height="1.6" fill="#4a4f58" stroke="none" stroke-width="0" rx="0" />
<rect x="404.26" y="418.3" width="3.4" height="3.3" fill="#dcdfe3" stroke="none" stroke-width="0" rx="0" />
<rect x="405.26" y="419.7" width="1.4" height="1.6" fill="#4a4f58" stroke="none" stroke-width="0" rx="0" />
<rect x="404.26" y="422.2" width="3.4" height="3.3" fill="#dcdfe3" stroke="none" stroke-width="0" rx="0" />
<rect x="405.26" y="423.6" width="1.4" height="1.6" fill="#4a4f58" stroke="none" stroke-width="0" rx="0" />
<rect x="408.46" y="418.3" width="3.4" height="3.3" fill="#dcdfe3" stroke="none" stroke-width="0" rx="0" />
<rect x="409.46" y="419.7" width="1.4" height="1.6" fill="#4a4f58" stroke="none" stroke-width="0" rx="0" />
<rect x="408.46" y="422.2" width="3.4" height="3.3" fill="#dcdfe3" stroke="none" stroke-width="0" rx="0" />
<rect x="409.46" y="423.6" width="1.4" height="1.6" fill="#4a4f58" stroke="none" stroke-width="0" rx="0" />
<rect x="414.41" y="421.65" width="14" height="4.95" fill="#1c2230" stroke="none" stroke-width="0" rx="0" />
<circle cx="416.10" cy="419.30" r="1.1" fill="#b8c060"/>
<circle cx="420.59" cy="419.30" r="0.9" fill="#9aa0a8"/>
<circle cx="425.09" cy="419.30" r="1.1" fill="#e0c040"/>
<rect x="431.7" y="418.3" width="5" height="3.4" fill="#d9dde3" stroke="none" stroke-width="0" rx="0" />
<rect x="431.7" y="422.5" width="5" height="3.4" fill="#d9dde3" stroke="none" stroke-width="0" rx="0" />
<rect x="338.54" y="418.7" width="5" height="7.0" fill="#3f6070" stroke="none" stroke-width="0" rx="0" />
<text x="323.3" y="439.3" font-size="10" fill="#5a5a5a" font-weight="normal" text-anchor="start"  stroke="#5a5a5a" stroke-width="0.15">OLT</text>
<text x="309.3" y="451.3" font-size="10" fill="#5a5a5a" font-weight="normal" text-anchor="start"  stroke="#5a5a5a" stroke-width="0.15">V1600G2</text>
<rect x="866.5" y="243.6" width="149" height="90.2" fill="none" stroke="#9a9a9a" stroke-width="1.1" rx="7" stroke-dasharray="4 3"/>
<rect x="866.9" y="343.9" width="148.1" height="108.7" fill="none" stroke="#9a9a9a" stroke-width="1.1" rx="7" stroke-dasharray="4 3"/>
<polygon points="879.8,257.6 937.9,257.6 940.9,267.844 876.8,267.844" fill="#3a3a3c" stroke="none" stroke-width="0" />
<rect x="876.8" y="267.844" width="64.10000000000002" height="9.456000000000017" fill="#1f1f21" stroke="none" stroke-width="0" rx="0" />
<rect x="896.03" y="269.84" width="2.8" height="2.4" fill="#555" stroke="none" stroke-width="0" rx="0" />
<rect x="899.63" y="269.84" width="2.8" height="2.4" fill="#555" stroke="none" stroke-width="0" rx="0" />
<rect x="903.23" y="269.84" width="2.8" height="2.4" fill="#555" stroke="none" stroke-width="0" rx="0" />
<rect x="906.83" y="269.84" width="2.8" height="2.4" fill="#555" stroke="none" stroke-width="0" rx="0" />
<rect x="910.43" y="269.84" width="2.8" height="2.4" fill="#555" stroke="none" stroke-width="0" rx="0" />
<circle cx="881.8" cy="271.344" r="1.6" fill="#444"/>
<rect x="924.23" y="269.84" width="2.6" height="2.6" fill="#2f6fd0" stroke="none" stroke-width="0" rx="0" />
<text x="900.1" y="288.7" font-size="10" fill="#5a5a5a" font-weight="normal" text-anchor="start"  stroke="#5a5a5a" stroke-width="0.15">ONU</text>
<text x="895" y="301.1" font-size="10" fill="#5a5a5a" font-weight="normal" text-anchor="start"  stroke="#5a5a5a" stroke-width="0.15">V2820D</text>
<polygon points="965,258.8 977.6,252.3 977.6,274.8 965,281.4" fill="#9c9c9c" stroke="#1a1a1a" stroke-width="1.6" stroke-linejoin="round"/>
<polygon points="972,263.5 977,261 977,268 972,270.5" fill="#f4f4f4" stroke="none" stroke-width="0" />
<path d="M985,256.5 C992,255.5 1000,257 1009,260 L1011,271 C1003,273 996,274 991,273 C988,271 985.5,268 984,264 Z" fill="#f2c9b6"/>
<polygon points="972.5,263 986,255.2 987.5,260.5 974,268.3" fill="#f0a532" stroke="none" stroke-width="0" />
<rect x="973.5" y="264" width="3" height="3.5" fill="#6a3a10" stroke="none" stroke-width="0" rx="0" />
<ellipse cx="1010.5" cy="265.8" rx="2.8" ry="5" fill="#c9ae8e"/>
<text x="954.1" y="289.4" font-size="10" fill="#5a5a5a" font-weight="normal" text-anchor="start"  stroke="#5a5a5a" stroke-width="0.15">Access</text>
<text x="954.1" y="301.1" font-size="10" fill="#5a5a5a" font-weight="normal" text-anchor="start"  stroke="#5a5a5a" stroke-width="0.15">Control</text>
<text x="886.7" y="315.6" font-size="10" fill="#5a5a5a" font-weight="normal" text-anchor="start"  stroke="#5a5a5a" stroke-width="0.15">Student dormitory access</text>
<text x="886.7" y="327.5" font-size="10" fill="#5a5a5a" font-weight="normal" text-anchor="start"  stroke="#5a5a5a" stroke-width="0.15">control system network</text>
<polygon points="878.2,356.3 936.1,356.3 939.1,366.596 875.2,366.596" fill="#3a3a3c" stroke="none" stroke-width="0" />
<rect x="875.2" y="366.596" width="63.89999999999998" height="9.504000000000019" fill="#1f1f21" stroke="none" stroke-width="0" rx="0" />
<rect x="894.37" y="368.6" width="2.8" height="2.4" fill="#555" stroke="none" stroke-width="0" rx="0" />
<rect x="897.97" y="368.6" width="2.8" height="2.4" fill="#555" stroke="none" stroke-width="0" rx="0" />
<rect x="901.57" y="368.6" width="2.8" height="2.4" fill="#555" stroke="none" stroke-width="0" rx="0" />
<rect x="905.17" y="368.6" width="2.8" height="2.4" fill="#555" stroke="none" stroke-width="0" rx="0" />
<rect x="908.77" y="368.6" width="2.8" height="2.4" fill="#555" stroke="none" stroke-width="0" rx="0" />
<circle cx="880.2" cy="370.096" r="1.6" fill="#444"/>
<rect x="922.49" y="368.6" width="2.6" height="2.6" fill="#2f6fd0" stroke="none" stroke-width="0" rx="0" />
<text x="895.6" y="385.9" font-size="10" fill="#5a5a5a" font-weight="normal" text-anchor="start"  stroke="#5a5a5a" stroke-width="0.15">ONU</text>
<text x="890.4" y="397.6" font-size="10" fill="#5a5a5a" font-weight="normal" text-anchor="start"  stroke="#5a5a5a" stroke-width="0.15">V2820D</text>
<polygon points="967.8,349.8 971,346.5 1010.4,352 1003.9,355" fill="#3cc460" stroke="none" stroke-width="0" />
<polygon points="1003.9,355 1010.4,352 1010.4,381.5 1003.9,384.1" fill="#16863a" stroke="none" stroke-width="0" />
<polygon points="967.8,349.8 1003.9,355 1003.9,384.1 967.8,378.5" fill="#26b24e" stroke="none" stroke-width="0" />
<polygon points="972,356.5 1000,360.5 1000,367.5 972,363.5" fill="#ffffff" stroke="none" stroke-width="0" />
<polygon points="974.0,358.0 977.6,358.5 977.6,362.5 974.0,362.0" fill="#26b24e" stroke="none" stroke-width="0" />
<polygon points="979.2,358.75 982.8000000000001,359.25 982.8000000000001,363.25 979.2,362.75" fill="#26b24e" stroke="none" stroke-width="0" />
<polygon points="984.4,359.5 988.0,360.0 988.0,364.0 984.4,363.5" fill="#26b24e" stroke="none" stroke-width="0" />
<polygon points="989.6,360.25 993.2,360.75 993.2,364.75 989.6,364.25" fill="#26b24e" stroke="none" stroke-width="0" />
<polygon points="994.8,361.0 998.4,361.5 998.4,365.5 994.8,365.0" fill="#26b24e" stroke="none" stroke-width="0" />
<path d="M985,375 L989,370 L988.5,373 L992,372 L987.5,377 L988,374.5 Z" fill="#fff"/>
<text x="949.3" y="391.5" font-size="10" fill="#5a5a5a" font-weight="normal" text-anchor="start"  stroke="#5a5a5a" stroke-width="0.15">Electricity</text>
<text x="945.2" y="403.5" font-size="10" fill="#5a5a5a" font-weight="normal" text-anchor="start"  stroke="#5a5a5a" stroke-width="0.15">meter, water</text>
<text x="945.2" y="414.6" font-size="10" fill="#5a5a5a" font-weight="normal" text-anchor="start"  stroke="#5a5a5a" stroke-width="0.15">meter</text>
<text x="878.9" y="424.8" font-size="10" fill="#5a5a5a" font-weight="normal" text-anchor="start"  stroke="#5a5a5a" stroke-width="0.15">Student dormitory water and</text>
<text x="878.9" y="437.2" font-size="10" fill="#5a5a5a" font-weight="normal" text-anchor="start"  stroke="#5a5a5a" stroke-width="0.15">electricity meter management</text>
<text x="878.9" y="448.3" font-size="10" fill="#5a5a5a" font-weight="normal" text-anchor="start"  stroke="#5a5a5a" stroke-width="0.15">system network</text>
<rect x="204.3" y="461.8" width="101.1" height="167.2" fill="none" stroke="#a3a3a3" stroke-width="1" rx="7" />
<rect x="313.3" y="461.8" width="97.1" height="167.2" fill="none" stroke="#a3a3a3" stroke-width="1" rx="7" />
<rect x="420.5" y="462.2" width="96.5" height="166.8" fill="none" stroke="#a3a3a3" stroke-width="1" rx="7" />
<rect x="527.4" y="462.2" width="96.4" height="166.8" fill="none" stroke="#a3a3a3" stroke-width="1" rx="7" />
<rect x="634" y="461.9" width="96.6" height="167.1" fill="none" stroke="#a3a3a3" stroke-width="1" rx="7" />
<rect x="747" y="461.5" width="122" height="167.5" fill="none" stroke="#a3a3a3" stroke-width="1" rx="7" />
<rect x="881.3" y="466.1" width="134.2" height="162.9" fill="none" stroke="#a3a3a3" stroke-width="1" rx="7" />
<g transform="translate(225.4,486) scale(1.3)"><polygon points="-3,39 12,47 40,35 26,28" fill="#fcf7f1"/><ellipse cx="14.3" cy="37.6" rx="6" ry="3.2" fill="#eceef2"/><polygon points="0.3,15.8 26.2,2.3 26.2,23.7 0.6,36.9" fill="#dfe2e7"/><polygon points="1.1,16.4 25.4,3.7 25.4,22.9 1.4,35.5" fill="#2a87d8"/><polygon points="10,10.8 19.2,6 16.3,26.2 7.6,31" fill="#1f1f22"/><polygon points="17.6,6.9 20.4,5.5 19.4,24.9 16.6,26.3" fill="#f4f6f8"/><polygon points="6.3,17 7.6,16.4 7.6,29.5 6.3,30.1" fill="#e8eef4"/><rect x="2.6" y="19.5" width="2.6" height="1.8" fill="#d6f0a0"/><rect x="2.6" y="23" width="2.6" height="1.8" fill="#d6f0a0"/><rect x="21.6" y="6.8" width="2.6" height="1.8" fill="#d6f0a0"/><polygon points="9,45.3 31,36.3 37.2,40.3 15.2,49.3" fill="#f0f1f4" stroke="#d8dbe0" stroke-width="0.5"/><polygon points="31.2,36 37.4,32.6 43,35.5 36.6,39" fill="#3a3a3e"/><ellipse cx="37.1" cy="35.8" rx="2.1" ry="1.3" fill="#eeeeee"/><polygon points="29.8,3 38.5,0.6 46.8,3 38.3,5.6" fill="#f2f3f6"/><polygon points="29.8,3 38.3,5.6 38.3,31.2 29.8,28.6" fill="#d3d6e0"/><polygon points="38.3,5.6 46.8,3 46.8,28.6 38.3,31.2" fill="#e9ebf0"/><polygon points="29.8,21 38.3,23.6 38.3,31.2 29.8,28.6" fill="#dcdee6"/><polygon points="38.3,23.6 46.8,21 46.8,28.6 38.3,31.2" fill="#e2e4ea"/><polygon points="32.3,3 38.5,1.4 44.5,3 38.3,4.7" fill="#d8dbe2"/></g>
<text x="243.4" y="567.7" font-size="10" fill="#5a5a5a" font-weight="normal" text-anchor="start"  stroke="#5a5a5a" stroke-width="0.15">PC</text>
<text x="213.3" y="607.7" font-size="10" fill="#1e1e1e" font-weight="normal" text-anchor="start" stroke="#222" stroke-width="0.2">Original office area</text>
<polygon points="327,467.5 366,467.5 368,474.7 325,474.7" fill="#f3f3f4" stroke="none" stroke-width="0" />
<rect x="325" y="474.7" width="43" height="8.8" fill="#e4e5e8" stroke="none" stroke-width="0" rx="0" />
<rect x="328" y="477.34" width="2" height="3.08" fill="#3f6fb5" stroke="none" stroke-width="0" rx="0" />
<rect x="331.0" y="477.34" width="1.5" height="3.08" fill="#556" stroke="none" stroke-width="0" rx="0" />
<rect x="333.2" y="477.34" width="1.5" height="3.08" fill="#556" stroke="none" stroke-width="0" rx="0" />
<rect x="335.4" y="477.34" width="1.5" height="3.08" fill="#556" stroke="none" stroke-width="0" rx="0" />
<rect x="337.6" y="477.34" width="1.5" height="3.08" fill="#556" stroke="none" stroke-width="0" rx="0" />
<rect x="339.8" y="477.34" width="1.5" height="3.08" fill="#556" stroke="none" stroke-width="0" rx="0" />
<rect x="341.34" y="476.9" width="2.2" height="3.96" fill="#e8b030" stroke="none" stroke-width="0" rx="0" />
<rect x="343.94" y="476.9" width="2.2" height="3.96" fill="#e8b030" stroke="none" stroke-width="0" rx="0" />
<rect x="346.54" y="476.9" width="2.2" height="3.96" fill="#e8b030" stroke="none" stroke-width="0" rx="0" />
<rect x="349.14" y="476.9" width="2.2" height="3.96" fill="#e8b030" stroke="none" stroke-width="0" rx="0" />
<rect x="354.24" y="476.46" width="1.6" height="4.84" fill="#2b5fb0" stroke="none" stroke-width="0" rx="0" />
<rect x="359.4" y="477.34" width="2.2" height="3.52" fill="#222" stroke="none" stroke-width="0" rx="0" />
<rect x="361.98" y="477.34" width="2.2" height="3.52" fill="#e0502a" stroke="none" stroke-width="0" rx="0" />
<line x1="357.5" y1="483.5" x2="357.5" y2="502" stroke="#2f8bc9" stroke-width="1.3"/>
<g transform="translate(330.7,502) scale(0.9981,1.0500)"><path d="M0,4.1 C4,1 18,0.2 33,0.2 C46,0.4 53,2.8 53.6,5.8 C53.6,7.8 45,9.3 33,9.8 C22,10.2 15,10.2 12,9.8 C6,9 1,6.5 0,4.1 Z" fill="#c2c3c6"/><path d="M0,4.1 C4,1 18,0.2 33,0.2 C46,0.4 53,2.8 53.6,5.8 C40,5.2 22,6.5 15,9.3 C8,8.2 2,6 0,4.1 Z" fill="#f1f1f2"/><path d="M20,8.2 C30,6.5 42,6 52,6.3" fill="none" stroke="#d5d6d8" stroke-width="0.8"/></g>
<g transform="translate(359.4,516.7) rotate(-28) scale(0.86)" fill="none" stroke="#2a85d0" stroke-width="1.8" stroke-linecap="round"><circle cx="0" cy="0" r="1.1" fill="#2a85d0" stroke="none"/><path d="M3.83,3.21 A5,5 0 0 1 -3.83,3.21"/><path d="M7.05,5.91 A9.2,9.2 0 0 1 -7.05,5.91"/><path d="M10.26,8.61 A13.4,13.4 0 0 1 -10.26,8.61"/></g>
<g transform="translate(325,536.2) scale(1.0)"><polygon points="-3,26 15,34 37,23 20,15" fill="#f6eee6"/><polygon points="4.4,25.3 22.6,15.8 35,22.5 16.7,32.5" fill="#dcdee3"/><polygon points="4.4,25.3 16.7,32.5 16.7,34 4.4,26.8" fill="#c2c5cc"/><polygon points="16.7,32.5 35,22.5 35,24 16.7,34" fill="#b3b6bd"/><polygon points="8,25 22,17.8 30.5,22.3 16.8,29.8" fill="#6a6d74"/><polygon points="0,10.3 18.9,0 22.6,15.8 4.4,25.3" fill="#1d70c4"/><polygon points="1.4,10.8 18,1.8 21.2,15.2 5.2,23.6" fill="#2b8be0"/><polygon points="6.8,7.4 13.2,4 16,17.8 9.8,21" fill="#1c1c20"/><polygon points="13.5,5 15.8,3.8 18.5,15.5 16.2,16.8" fill="#f2f4f7"/><rect x="2.8" y="12.5" width="2" height="1.6" fill="#bfe8c8"/><rect x="3.3" y="15.5" width="2" height="1.6" fill="#f0f0f0"/></g>
<g transform="translate(367.2,551.3) scale(1.0)"><polygon points="0,12 20.6,0 30,5.9 9.5,18.1" fill="#1f78cf" stroke="#1f78cf" stroke-width="1.5" stroke-linejoin="round"/><polygon points="1.8,11.8 20.6,1.2 28.2,6 9.6,16.8" fill="#2f90e6"/>
<polygon points="14.74,4.81 20.71,1.33 27.93,5.97 21.96,9.45" fill="#1a6fc8"/>
<circle cx="5.26" cy="11.85" r="1.15" fill="#7ee0f0"/>
<circle cx="7.82" cy="13.49" r="1.15" fill="#ffffff"/>
<circle cx="10.39" cy="15.14" r="1.15" fill="#8ee8ff"/>
<circle cx="8.14" cy="10.17" r="1.15" fill="#6fd08a"/>
<circle cx="10.71" cy="11.81" r="1.15" fill="#b8f0ff"/>
<circle cx="13.27" cy="13.46" r="1.15" fill="#e8e0a0"/>
<circle cx="11.03" cy="8.48" r="1.15" fill="#7ee0f0"/>
<circle cx="13.59" cy="10.13" r="1.15" fill="#ffffff"/>
<circle cx="16.16" cy="11.78" r="1.15" fill="#8ee8ff"/>
<circle cx="13.91" cy="6.80" r="1.15" fill="#d89aa8"/>
<circle cx="16.48" cy="8.45" r="1.15" fill="#9fe8ff"/>
<circle cx="19.04" cy="10.10" r="1.15" fill="#6fd08a"/>
</g>
<text x="371" y="487.2" font-size="10" fill="#5a5a5a" font-weight="normal" text-anchor="start"  stroke="#5a5a5a" stroke-width="0.15">ONU</text>
<text x="362.6" y="499.3" font-size="10" fill="#5a5a5a" font-weight="normal" text-anchor="start"  stroke="#5a5a5a" stroke-width="0.15">ICT3310D</text>
<text x="384.2" y="521.8" font-size="10" fill="#5a5a5a" font-weight="normal" text-anchor="start"  stroke="#5a5a5a" stroke-width="0.15">AP</text>
<text x="323.1" y="597" font-size="10" fill="#1e1e1e" font-weight="normal" text-anchor="start" stroke="#222" stroke-width="0.2">Various teaching</text>
<text x="318.9" y="609.1" font-size="10" fill="#1e1e1e" font-weight="normal" text-anchor="start" stroke="#222" stroke-width="0.2">buildings and other</text>
<text x="318.9" y="620.4" font-size="10" fill="#1e1e1e" font-weight="normal" text-anchor="start" stroke="#222" stroke-width="0.2">areas</text>
<polygon points="430.5,468 478.0,468 480.0,475.2 428.5,475.2" fill="#f3f3f4" stroke="none" stroke-width="0" />
<rect x="428.5" y="475.2" width="51.5" height="8.8" fill="#e4e5e8" stroke="none" stroke-width="0" rx="0" />
<rect x="431.5" y="477.84" width="2" height="3.08" fill="#3f6fb5" stroke="none" stroke-width="0" rx="0" />
<rect x="434.5" y="477.84" width="1.5" height="3.08" fill="#556" stroke="none" stroke-width="0" rx="0" />
<rect x="436.7" y="477.84" width="1.5" height="3.08" fill="#556" stroke="none" stroke-width="0" rx="0" />
<rect x="438.9" y="477.84" width="1.5" height="3.08" fill="#556" stroke="none" stroke-width="0" rx="0" />
<rect x="441.1" y="477.84" width="1.5" height="3.08" fill="#556" stroke="none" stroke-width="0" rx="0" />
<rect x="443.3" y="477.84" width="1.5" height="3.08" fill="#556" stroke="none" stroke-width="0" rx="0" />
<rect x="448.07" y="477.4" width="2.2" height="3.96" fill="#e8b030" stroke="none" stroke-width="0" rx="0" />
<rect x="450.67" y="477.4" width="2.2" height="3.96" fill="#e8b030" stroke="none" stroke-width="0" rx="0" />
<rect x="453.27" y="477.4" width="2.2" height="3.96" fill="#e8b030" stroke="none" stroke-width="0" rx="0" />
<rect x="455.87" y="477.4" width="2.2" height="3.96" fill="#e8b030" stroke="none" stroke-width="0" rx="0" />
<rect x="463.52" y="476.96" width="1.6" height="4.84" fill="#2b5fb0" stroke="none" stroke-width="0" rx="0" />
<rect x="469.7" y="477.84" width="2.2" height="3.52" fill="#222" stroke="none" stroke-width="0" rx="0" />
<rect x="472.79" y="477.84" width="2.2" height="3.52" fill="#e0502a" stroke="none" stroke-width="0" rx="0" />
<g transform="translate(432,502) scale(1.0019,1.0500)"><path d="M0,4.1 C4,1 18,0.2 33,0.2 C46,0.4 53,2.8 53.6,5.8 C53.6,7.8 45,9.3 33,9.8 C22,10.2 15,10.2 12,9.8 C6,9 1,6.5 0,4.1 Z" fill="#c2c3c6"/><path d="M0,4.1 C4,1 18,0.2 33,0.2 C46,0.4 53,2.8 53.6,5.8 C40,5.2 22,6.5 15,9.3 C8,8.2 2,6 0,4.1 Z" fill="#f1f1f2"/><path d="M20,8.2 C30,6.5 42,6 52,6.3" fill="none" stroke="#d5d6d8" stroke-width="0.8"/></g>
<g transform="translate(465,517.5) rotate(-28) scale(0.86)" fill="none" stroke="#2a85d0" stroke-width="1.8" stroke-linecap="round"><circle cx="0" cy="0" r="1.1" fill="#2a85d0" stroke="none"/><path d="M3.83,3.21 A5,5 0 0 1 -3.83,3.21"/><path d="M7.05,5.91 A9.2,9.2 0 0 1 -7.05,5.91"/><path d="M10.26,8.61 A13.4,13.4 0 0 1 -10.26,8.61"/></g>
<g transform="translate(430.5,536) scale(1.0)"><polygon points="-3,26 15,34 37,23 20,15" fill="#f6eee6"/><polygon points="4.4,25.3 22.6,15.8 35,22.5 16.7,32.5" fill="#dcdee3"/><polygon points="4.4,25.3 16.7,32.5 16.7,34 4.4,26.8" fill="#c2c5cc"/><polygon points="16.7,32.5 35,22.5 35,24 16.7,34" fill="#b3b6bd"/><polygon points="8,25 22,17.8 30.5,22.3 16.8,29.8" fill="#6a6d74"/><polygon points="0,10.3 18.9,0 22.6,15.8 4.4,25.3" fill="#1d70c4"/><polygon points="1.4,10.8 18,1.8 21.2,15.2 5.2,23.6" fill="#2b8be0"/><polygon points="6.8,7.4 13.2,4 16,17.8 9.8,21" fill="#1c1c20"/><polygon points="13.5,5 15.8,3.8 18.5,15.5 16.2,16.8" fill="#f2f4f7"/><rect x="2.8" y="12.5" width="2" height="1.6" fill="#bfe8c8"/><rect x="3.3" y="15.5" width="2" height="1.6" fill="#f0f0f0"/></g>
<g transform="translate(473.4,550.5) scale(1.0)"><polygon points="0,12 20.6,0 30,5.9 9.5,18.1" fill="#1f78cf" stroke="#1f78cf" stroke-width="1.5" stroke-linejoin="round"/><polygon points="1.8,11.8 20.6,1.2 28.2,6 9.6,16.8" fill="#2f90e6"/>
<polygon points="14.74,4.81 20.71,1.33 27.93,5.97 21.96,9.45" fill="#1a6fc8"/>
<circle cx="5.26" cy="11.85" r="1.15" fill="#7ee0f0"/>
<circle cx="7.82" cy="13.49" r="1.15" fill="#ffffff"/>
<circle cx="10.39" cy="15.14" r="1.15" fill="#8ee8ff"/>
<circle cx="8.14" cy="10.17" r="1.15" fill="#6fd08a"/>
<circle cx="10.71" cy="11.81" r="1.15" fill="#b8f0ff"/>
<circle cx="13.27" cy="13.46" r="1.15" fill="#e8e0a0"/>
<circle cx="11.03" cy="8.48" r="1.15" fill="#7ee0f0"/>
<circle cx="13.59" cy="10.13" r="1.15" fill="#ffffff"/>
<circle cx="16.16" cy="11.78" r="1.15" fill="#8ee8ff"/>
<circle cx="13.91" cy="6.80" r="1.15" fill="#d89aa8"/>
<circle cx="16.48" cy="8.45" r="1.15" fill="#9fe8ff"/>
<circle cx="19.04" cy="10.10" r="1.15" fill="#6fd08a"/>
</g>
<text x="478.6" y="485.1" font-size="10" fill="#5a5a5a" font-weight="normal" text-anchor="start"  stroke="#5a5a5a" stroke-width="0.15">ONU</text>
<text x="469.8" y="498.3" font-size="10" fill="#5a5a5a" font-weight="normal" text-anchor="start"  stroke="#5a5a5a" stroke-width="0.15">ICT3310D</text>
<text x="490.4" y="521.3" font-size="10" fill="#5a5a5a" font-weight="normal" text-anchor="start"  stroke="#5a5a5a" stroke-width="0.15">AP</text>
<text x="428.7" y="607.9" font-size="10" fill="#1e1e1e" font-weight="normal" text-anchor="start" stroke="#222" stroke-width="0.2">Indoor sports field</text>
<polygon points="541.7,467 580.7,467 582.7,474.2 539.7,474.2" fill="#f3f3f4" stroke="none" stroke-width="0" />
<rect x="539.7" y="474.2" width="43" height="8.8" fill="#e4e5e8" stroke="none" stroke-width="0" rx="0" />
<rect x="542.7" y="476.84" width="2" height="3.08" fill="#3f6fb5" stroke="none" stroke-width="0" rx="0" />
<rect x="545.7" y="476.84" width="1.5" height="3.08" fill="#556" stroke="none" stroke-width="0" rx="0" />
<rect x="547.9" y="476.84" width="1.5" height="3.08" fill="#556" stroke="none" stroke-width="0" rx="0" />
<rect x="550.1" y="476.84" width="1.5" height="3.08" fill="#556" stroke="none" stroke-width="0" rx="0" />
<rect x="552.3" y="476.84" width="1.5" height="3.08" fill="#556" stroke="none" stroke-width="0" rx="0" />
<rect x="554.5" y="476.84" width="1.5" height="3.08" fill="#556" stroke="none" stroke-width="0" rx="0" />
<rect x="556.04" y="476.4" width="2.2" height="3.96" fill="#e8b030" stroke="none" stroke-width="0" rx="0" />
<rect x="558.64" y="476.4" width="2.2" height="3.96" fill="#e8b030" stroke="none" stroke-width="0" rx="0" />
<rect x="561.24" y="476.4" width="2.2" height="3.96" fill="#e8b030" stroke="none" stroke-width="0" rx="0" />
<rect x="563.84" y="476.4" width="2.2" height="3.96" fill="#e8b030" stroke="none" stroke-width="0" rx="0" />
<rect x="568.94" y="475.96" width="1.6" height="4.84" fill="#2b5fb0" stroke="none" stroke-width="0" rx="0" />
<rect x="574.1" y="476.84" width="2.2" height="3.52" fill="#222" stroke="none" stroke-width="0" rx="0" />
<rect x="576.68" y="476.84" width="2.2" height="3.52" fill="#e0502a" stroke="none" stroke-width="0" rx="0" />
<g transform="translate(542.4,502.5) scale(1.0075,1.0500)"><path d="M0,4.1 C4,1 18,0.2 33,0.2 C46,0.4 53,2.8 53.6,5.8 C53.6,7.8 45,9.3 33,9.8 C22,10.2 15,10.2 12,9.8 C6,9 1,6.5 0,4.1 Z" fill="#c2c3c6"/><path d="M0,4.1 C4,1 18,0.2 33,0.2 C46,0.4 53,2.8 53.6,5.8 C40,5.2 22,6.5 15,9.3 C8,8.2 2,6 0,4.1 Z" fill="#f1f1f2"/><path d="M20,8.2 C30,6.5 42,6 52,6.3" fill="none" stroke="#d5d6d8" stroke-width="0.8"/></g>
<g transform="translate(572.5,516.5) rotate(-28) scale(0.86)" fill="none" stroke="#2a85d0" stroke-width="1.8" stroke-linecap="round"><circle cx="0" cy="0" r="1.1" fill="#2a85d0" stroke="none"/><path d="M3.83,3.21 A5,5 0 0 1 -3.83,3.21"/><path d="M7.05,5.91 A9.2,9.2 0 0 1 -7.05,5.91"/><path d="M10.26,8.61 A13.4,13.4 0 0 1 -10.26,8.61"/></g>
<g transform="translate(541.6,542.8) scale(1.0)"><polygon points="-3,26 15,34 37,23 20,15" fill="#f6eee6"/><polygon points="4.4,25.3 22.6,15.8 35,22.5 16.7,32.5" fill="#dcdee3"/><polygon points="4.4,25.3 16.7,32.5 16.7,34 4.4,26.8" fill="#c2c5cc"/><polygon points="16.7,32.5 35,22.5 35,24 16.7,34" fill="#b3b6bd"/><polygon points="8,25 22,17.8 30.5,22.3 16.8,29.8" fill="#6a6d74"/><polygon points="0,10.3 18.9,0 22.6,15.8 4.4,25.3" fill="#1d70c4"/><polygon points="1.4,10.8 18,1.8 21.2,15.2 5.2,23.6" fill="#2b8be0"/><polygon points="6.8,7.4 13.2,4 16,17.8 9.8,21" fill="#1c1c20"/><polygon points="13.5,5 15.8,3.8 18.5,15.5 16.2,16.8" fill="#f2f4f7"/><rect x="2.8" y="12.5" width="2" height="1.6" fill="#bfe8c8"/><rect x="3.3" y="15.5" width="2" height="1.6" fill="#f0f0f0"/></g>
<g transform="translate(583.5,550.9) scale(1.0)"><polygon points="0,12 20.6,0 30,5.9 9.5,18.1" fill="#1f78cf" stroke="#1f78cf" stroke-width="1.5" stroke-linejoin="round"/><polygon points="1.8,11.8 20.6,1.2 28.2,6 9.6,16.8" fill="#2f90e6"/>
<polygon points="14.74,4.81 20.71,1.33 27.93,5.97 21.96,9.45" fill="#1a6fc8"/>
<circle cx="5.26" cy="11.85" r="1.15" fill="#7ee0f0"/>
<circle cx="7.82" cy="13.49" r="1.15" fill="#ffffff"/>
<circle cx="10.39" cy="15.14" r="1.15" fill="#8ee8ff"/>
<circle cx="8.14" cy="10.17" r="1.15" fill="#6fd08a"/>
<circle cx="10.71" cy="11.81" r="1.15" fill="#b8f0ff"/>
<circle cx="13.27" cy="13.46" r="1.15" fill="#e8e0a0"/>
<circle cx="11.03" cy="8.48" r="1.15" fill="#7ee0f0"/>
<circle cx="13.59" cy="10.13" r="1.15" fill="#ffffff"/>
<circle cx="16.16" cy="11.78" r="1.15" fill="#8ee8ff"/>
<circle cx="13.91" cy="6.80" r="1.15" fill="#d89aa8"/>
<circle cx="16.48" cy="8.45" r="1.15" fill="#9fe8ff"/>
<circle cx="19.04" cy="10.10" r="1.15" fill="#6fd08a"/>
</g>
<text x="585.5" y="487.3" font-size="10" fill="#5a5a5a" font-weight="normal" text-anchor="start"  stroke="#5a5a5a" stroke-width="0.15">ONU</text>
<text x="576.7" y="500.2" font-size="10" fill="#5a5a5a" font-weight="normal" text-anchor="start"  stroke="#5a5a5a" stroke-width="0.15">ICT3310D</text>
<text x="585.5" y="523" font-size="10" fill="#5a5a5a" font-weight="normal" text-anchor="start"  stroke="#5a5a5a" stroke-width="0.15">Outdoor</text>
<text x="585.5" y="534.5" font-size="10" fill="#5a5a5a" font-weight="normal" text-anchor="start"  stroke="#5a5a5a" stroke-width="0.15">AP</text>
<text x="535.6" y="594.2" font-size="10" fill="#1e1e1e" font-weight="normal" text-anchor="start" stroke="#222" stroke-width="0.2">Football field,</text>
<text x="535.6" y="607.1" font-size="10" fill="#1e1e1e" font-weight="normal" text-anchor="start" stroke="#222" stroke-width="0.2">track and field,</text>
<text x="535.6" y="619.4" font-size="10" fill="#1e1e1e" font-weight="normal" text-anchor="start" stroke="#222" stroke-width="0.2">tennis court</text>
<polygon points="642,467.3 689,467.3 691,474.05 640,474.05" fill="#f3f3f4" stroke="none" stroke-width="0" />
<rect x="640" y="474.05" width="51" height="8.25" fill="#e4e5e8" stroke="none" stroke-width="0" rx="0" />
<rect x="643" y="476.52500000000003" width="2" height="2.8874999999999997" fill="#3f6fb5" stroke="none" stroke-width="0" rx="0" />
<rect x="646.0" y="476.53" width="1.5" height="2.89" fill="#556" stroke="none" stroke-width="0" rx="0" />
<rect x="648.2" y="476.53" width="1.5" height="2.89" fill="#556" stroke="none" stroke-width="0" rx="0" />
<rect x="650.4" y="476.53" width="1.5" height="2.89" fill="#556" stroke="none" stroke-width="0" rx="0" />
<rect x="652.6" y="476.53" width="1.5" height="2.89" fill="#556" stroke="none" stroke-width="0" rx="0" />
<rect x="654.8" y="476.53" width="1.5" height="2.89" fill="#556" stroke="none" stroke-width="0" rx="0" />
<rect x="659.38" y="476.11" width="2.2" height="3.71" fill="#e8b030" stroke="none" stroke-width="0" rx="0" />
<rect x="661.98" y="476.11" width="2.2" height="3.71" fill="#e8b030" stroke="none" stroke-width="0" rx="0" />
<rect x="664.58" y="476.11" width="2.2" height="3.71" fill="#e8b030" stroke="none" stroke-width="0" rx="0" />
<rect x="667.18" y="476.11" width="2.2" height="3.71" fill="#e8b030" stroke="none" stroke-width="0" rx="0" />
<rect x="674.68" y="475.7" width="1.6" height="4.54" fill="#2b5fb0" stroke="none" stroke-width="0" rx="0" />
<rect x="680.8" y="476.53" width="2.2" height="3.3" fill="#222" stroke="none" stroke-width="0" rx="0" />
<rect x="683.86" y="476.53" width="2.2" height="3.3" fill="#e0502a" stroke="none" stroke-width="0" rx="0" />
<g transform="translate(644.2,503) scale(0.9981,1.0000)"><path d="M0,4.1 C4,1 18,0.2 33,0.2 C46,0.4 53,2.8 53.6,5.8 C53.6,7.8 45,9.3 33,9.8 C22,10.2 15,10.2 12,9.8 C6,9 1,6.5 0,4.1 Z" fill="#c2c3c6"/><path d="M0,4.1 C4,1 18,0.2 33,0.2 C46,0.4 53,2.8 53.6,5.8 C40,5.2 22,6.5 15,9.3 C8,8.2 2,6 0,4.1 Z" fill="#f1f1f2"/><path d="M20,8.2 C30,6.5 42,6 52,6.3" fill="none" stroke="#d5d6d8" stroke-width="0.8"/></g>
<g transform="translate(676.5,516) rotate(-28) scale(0.86)" fill="none" stroke="#2a85d0" stroke-width="1.8" stroke-linecap="round"><circle cx="0" cy="0" r="1.1" fill="#2a85d0" stroke="none"/><path d="M3.83,3.21 A5,5 0 0 1 -3.83,3.21"/><path d="M7.05,5.91 A9.2,9.2 0 0 1 -7.05,5.91"/><path d="M10.26,8.61 A13.4,13.4 0 0 1 -10.26,8.61"/></g>
<g transform="translate(647,532) scale(1.0)"><polygon points="-3,26 15,34 37,23 20,15" fill="#f6eee6"/><polygon points="4.4,25.3 22.6,15.8 35,22.5 16.7,32.5" fill="#dcdee3"/><polygon points="4.4,25.3 16.7,32.5 16.7,34 4.4,26.8" fill="#c2c5cc"/><polygon points="16.7,32.5 35,22.5 35,24 16.7,34" fill="#b3b6bd"/><polygon points="8,25 22,17.8 30.5,22.3 16.8,29.8" fill="#6a6d74"/><polygon points="0,10.3 18.9,0 22.6,15.8 4.4,25.3" fill="#1d70c4"/><polygon points="1.4,10.8 18,1.8 21.2,15.2 5.2,23.6" fill="#2b8be0"/><polygon points="6.8,7.4 13.2,4 16,17.8 9.8,21" fill="#1c1c20"/><polygon points="13.5,5 15.8,3.8 18.5,15.5 16.2,16.8" fill="#f2f4f7"/><rect x="2.8" y="12.5" width="2" height="1.6" fill="#bfe8c8"/><rect x="3.3" y="15.5" width="2" height="1.6" fill="#f0f0f0"/></g>
<g transform="translate(689.4,550.5) scale(1.0)"><polygon points="0,12 20.6,0 30,5.9 9.5,18.1" fill="#1f78cf" stroke="#1f78cf" stroke-width="1.5" stroke-linejoin="round"/><polygon points="1.8,11.8 20.6,1.2 28.2,6 9.6,16.8" fill="#2f90e6"/>
<polygon points="14.74,4.81 20.71,1.33 27.93,5.97 21.96,9.45" fill="#1a6fc8"/>
<circle cx="5.26" cy="11.85" r="1.15" fill="#7ee0f0"/>
<circle cx="7.82" cy="13.49" r="1.15" fill="#ffffff"/>
<circle cx="10.39" cy="15.14" r="1.15" fill="#8ee8ff"/>
<circle cx="8.14" cy="10.17" r="1.15" fill="#6fd08a"/>
<circle cx="10.71" cy="11.81" r="1.15" fill="#b8f0ff"/>
<circle cx="13.27" cy="13.46" r="1.15" fill="#e8e0a0"/>
<circle cx="11.03" cy="8.48" r="1.15" fill="#7ee0f0"/>
<circle cx="13.59" cy="10.13" r="1.15" fill="#ffffff"/>
<circle cx="16.16" cy="11.78" r="1.15" fill="#8ee8ff"/>
<circle cx="13.91" cy="6.80" r="1.15" fill="#d89aa8"/>
<circle cx="16.48" cy="8.45" r="1.15" fill="#9fe8ff"/>
<circle cx="19.04" cy="10.10" r="1.15" fill="#6fd08a"/>
</g>
<text x="693.5" y="485.7" font-size="10" fill="#5a5a5a" font-weight="normal" text-anchor="start"  stroke="#5a5a5a" stroke-width="0.15">ONU</text>
<text x="685.3" y="498.9" font-size="10" fill="#5a5a5a" font-weight="normal" text-anchor="start"  stroke="#5a5a5a" stroke-width="0.15">ICT3310D</text>
<text x="690.8" y="523" font-size="10" fill="#5a5a5a" font-weight="normal" text-anchor="start"  stroke="#5a5a5a" stroke-width="0.15">Outdoor</text>
<text x="690.8" y="534.5" font-size="10" fill="#5a5a5a" font-weight="normal" text-anchor="start"  stroke="#5a5a5a" stroke-width="0.15">AP</text>
<text x="648.3" y="588.8" font-size="10" fill="#1e1e1e" font-weight="normal" text-anchor="start" stroke="#222" stroke-width="0.2">Outdoors such as</text>
<text x="642.8" y="600.3" font-size="10" fill="#1e1e1e" font-weight="normal" text-anchor="start" stroke="#222" stroke-width="0.2">cultural square,</text>
<text x="642.8" y="612.7" font-size="10" fill="#1e1e1e" font-weight="normal" text-anchor="start" stroke="#222" stroke-width="0.2">canteen, school road,</text>
<text x="642.8" y="623.6" font-size="10" fill="#1e1e1e" font-weight="normal" text-anchor="start" stroke="#222" stroke-width="0.2">etc.</text>
<polygon points="769.6,470 817.6,470 819.6,476.75 767.6,476.75" fill="#f3f3f4" stroke="none" stroke-width="0" />
<rect x="767.6" y="476.75" width="52" height="8.25" fill="#e4e5e8" stroke="none" stroke-width="0" rx="0" />
<rect x="770.6" y="479.225" width="2" height="2.8874999999999997" fill="#3f6fb5" stroke="none" stroke-width="0" rx="0" />
<rect x="773.6" y="479.23" width="1.5" height="2.89" fill="#556" stroke="none" stroke-width="0" rx="0" />
<rect x="775.8" y="479.23" width="1.5" height="2.89" fill="#556" stroke="none" stroke-width="0" rx="0" />
<rect x="778.0" y="479.23" width="1.5" height="2.89" fill="#556" stroke="none" stroke-width="0" rx="0" />
<rect x="780.2" y="479.23" width="1.5" height="2.89" fill="#556" stroke="none" stroke-width="0" rx="0" />
<rect x="782.4" y="479.23" width="1.5" height="2.89" fill="#556" stroke="none" stroke-width="0" rx="0" />
<rect x="787.36" y="478.81" width="2.2" height="3.71" fill="#e8b030" stroke="none" stroke-width="0" rx="0" />
<rect x="789.96" y="478.81" width="2.2" height="3.71" fill="#e8b030" stroke="none" stroke-width="0" rx="0" />
<rect x="792.56" y="478.81" width="2.2" height="3.71" fill="#e8b030" stroke="none" stroke-width="0" rx="0" />
<rect x="795.16" y="478.81" width="2.2" height="3.71" fill="#e8b030" stroke="none" stroke-width="0" rx="0" />
<rect x="802.96" y="478.4" width="1.6" height="4.54" fill="#2b5fb0" stroke="none" stroke-width="0" rx="0" />
<rect x="809.2" y="479.23" width="2.2" height="3.3" fill="#222" stroke="none" stroke-width="0" rx="0" />
<rect x="812.32" y="479.23" width="2.2" height="3.3" fill="#e0502a" stroke="none" stroke-width="0" rx="0" />
<g transform="translate(795.3,493) rotate(0) scale(1.0)" fill="none" stroke="#2a85d0" stroke-width="1.8" stroke-linecap="round"><circle cx="0" cy="0" r="1.1" fill="#2a85d0" stroke="none"/><path d="M3.83,3.21 A5,5 0 0 1 -3.83,3.21"/><path d="M7.05,5.91 A9.2,9.2 0 0 1 -7.05,5.91"/><path d="M10.26,8.61 A13.4,13.4 0 0 1 -10.26,8.61"/></g>
<g transform="translate(754,532) scale(1.0)"><polygon points="-3,26 15,34 37,23 20,15" fill="#f6eee6"/><polygon points="4.4,25.3 22.6,15.8 35,22.5 16.7,32.5" fill="#dcdee3"/><polygon points="4.4,25.3 16.7,32.5 16.7,34 4.4,26.8" fill="#c2c5cc"/><polygon points="16.7,32.5 35,22.5 35,24 16.7,34" fill="#b3b6bd"/><polygon points="8,25 22,17.8 30.5,22.3 16.8,29.8" fill="#6a6d74"/><polygon points="0,10.3 18.9,0 22.6,15.8 4.4,25.3" fill="#1d70c4"/><polygon points="1.4,10.8 18,1.8 21.2,15.2 5.2,23.6" fill="#2b8be0"/><polygon points="6.8,7.4 13.2,4 16,17.8 9.8,21" fill="#1c1c20"/><polygon points="13.5,5 15.8,3.8 18.5,15.5 16.2,16.8" fill="#f2f4f7"/><rect x="2.8" y="12.5" width="2" height="1.6" fill="#bfe8c8"/><rect x="3.3" y="15.5" width="2" height="1.6" fill="#f0f0f0"/></g>
<g transform="translate(795.7,516.4) scale(1.0)"><polygon points="-3,39 12,47 40,35 26,28" fill="#fcf7f1"/><ellipse cx="14.3" cy="37.6" rx="6" ry="3.2" fill="#eceef2"/><polygon points="0.3,15.8 26.2,2.3 26.2,23.7 0.6,36.9" fill="#dfe2e7"/><polygon points="1.1,16.4 25.4,3.7 25.4,22.9 1.4,35.5" fill="#2a87d8"/><polygon points="10,10.8 19.2,6 16.3,26.2 7.6,31" fill="#1f1f22"/><polygon points="17.6,6.9 20.4,5.5 19.4,24.9 16.6,26.3" fill="#f4f6f8"/><polygon points="6.3,17 7.6,16.4 7.6,29.5 6.3,30.1" fill="#e8eef4"/><rect x="2.6" y="19.5" width="2.6" height="1.8" fill="#d6f0a0"/><rect x="2.6" y="23" width="2.6" height="1.8" fill="#d6f0a0"/><rect x="21.6" y="6.8" width="2.6" height="1.8" fill="#d6f0a0"/><polygon points="9,45.3 31,36.3 37.2,40.3 15.2,49.3" fill="#f0f1f4" stroke="#d8dbe0" stroke-width="0.5"/><polygon points="31.2,36 37.4,32.6 43,35.5 36.6,39" fill="#3a3a3e"/><ellipse cx="37.1" cy="35.8" rx="2.1" ry="1.3" fill="#eeeeee"/><polygon points="29.8,3 38.5,0.6 46.8,3 38.3,5.6" fill="#f2f3f6"/><polygon points="29.8,3 38.3,5.6 38.3,31.2 29.8,28.6" fill="#d3d6e0"/><polygon points="38.3,5.6 46.8,3 46.8,28.6 38.3,31.2" fill="#e9ebf0"/><polygon points="29.8,21 38.3,23.6 38.3,31.2 29.8,28.6" fill="#dcdee6"/><polygon points="38.3,23.6 46.8,21 46.8,28.6 38.3,31.2" fill="#e2e4ea"/><polygon points="32.3,3 38.5,1.4 44.5,3 38.3,4.7" fill="#d8dbe2"/></g>
<g transform="translate(832,554) scale(1.0)"><polygon points="0,12 20.6,0 30,5.9 9.5,18.1" fill="#1f78cf" stroke="#1f78cf" stroke-width="1.5" stroke-linejoin="round"/><polygon points="1.8,11.8 20.6,1.2 28.2,6 9.6,16.8" fill="#2f90e6"/>
<polygon points="14.74,4.81 20.71,1.33 27.93,5.97 21.96,9.45" fill="#1a6fc8"/>
<circle cx="5.26" cy="11.85" r="1.15" fill="#7ee0f0"/>
<circle cx="7.82" cy="13.49" r="1.15" fill="#ffffff"/>
<circle cx="10.39" cy="15.14" r="1.15" fill="#8ee8ff"/>
<circle cx="8.14" cy="10.17" r="1.15" fill="#6fd08a"/>
<circle cx="10.71" cy="11.81" r="1.15" fill="#b8f0ff"/>
<circle cx="13.27" cy="13.46" r="1.15" fill="#e8e0a0"/>
<circle cx="11.03" cy="8.48" r="1.15" fill="#7ee0f0"/>
<circle cx="13.59" cy="10.13" r="1.15" fill="#ffffff"/>
<circle cx="16.16" cy="11.78" r="1.15" fill="#8ee8ff"/>
<circle cx="13.91" cy="6.80" r="1.15" fill="#d89aa8"/>
<circle cx="16.48" cy="8.45" r="1.15" fill="#9fe8ff"/>
<circle cx="19.04" cy="10.10" r="1.15" fill="#6fd08a"/>
</g>
<text x="821.9" y="487.9" font-size="10" fill="#5a5a5a" font-weight="normal" text-anchor="start"  stroke="#5a5a5a" stroke-width="0.15">ONU</text>
<text x="813.6" y="500.2" font-size="10" fill="#5a5a5a" font-weight="normal" text-anchor="start"  stroke="#5a5a5a" stroke-width="0.15">ICT3310D</text>
<text x="771.7" y="600.3" font-size="10" fill="#1e1e1e" font-weight="normal" text-anchor="start" stroke="#222" stroke-width="0.2">Each student</text>
<text x="771.7" y="611.8" font-size="10" fill="#1e1e1e" font-weight="normal" text-anchor="start" stroke="#222" stroke-width="0.2">dormitory area</text>
<polygon points="899,472.6 944.5,472.6 946.4,477.1 897,477.1" fill="#f0f0f1" stroke="none" stroke-width="0" />
<rect x="897" y="477.1" width="49.4" height="12" fill="#e6e7ea" stroke="none" stroke-width="0" rx="0" />
<rect x="899.3" y="478.8" width="2.8" height="5" fill="#1e1e1e" stroke="none" stroke-width="0" rx="0" />
<rect x="906" y="478.8" width="4" height="5.6" fill="#e8a020" stroke="none" stroke-width="0" rx="0" />
<rect x="907" y="479.5" width="2" height="2" fill="#a86a10" stroke="none" stroke-width="0" rx="0" />
<rect x="914" y="479.6" width="4.6" height="5.6" fill="#2b5fb0" stroke="none" stroke-width="0" rx="0" />
<rect x="928.0" y="479.2" width="1.2" height="0.8" fill="#c4c6ca" stroke="none" stroke-width="0" rx="0" />
<rect x="928.0" y="486" width="1.2" height="0.8" fill="#c4c6ca" stroke="none" stroke-width="0" rx="0" />
<rect x="930.2" y="479.2" width="1.2" height="0.8" fill="#c4c6ca" stroke="none" stroke-width="0" rx="0" />
<rect x="930.2" y="486" width="1.2" height="0.8" fill="#c4c6ca" stroke="none" stroke-width="0" rx="0" />
<rect x="932.4" y="479.2" width="1.2" height="0.8" fill="#c4c6ca" stroke="none" stroke-width="0" rx="0" />
<rect x="932.4" y="486" width="1.2" height="0.8" fill="#c4c6ca" stroke="none" stroke-width="0" rx="0" />
<rect x="934.6" y="479.2" width="1.2" height="0.8" fill="#c4c6ca" stroke="none" stroke-width="0" rx="0" />
<rect x="934.6" y="486" width="1.2" height="0.8" fill="#c4c6ca" stroke="none" stroke-width="0" rx="0" />
<rect x="936.8" y="479.2" width="1.2" height="0.8" fill="#c4c6ca" stroke="none" stroke-width="0" rx="0" />
<rect x="936.8" y="486" width="1.2" height="0.8" fill="#c4c6ca" stroke="none" stroke-width="0" rx="0" />
<rect x="939.0" y="479.2" width="1.2" height="0.8" fill="#c4c6ca" stroke="none" stroke-width="0" rx="0" />
<rect x="939.0" y="486" width="1.2" height="0.8" fill="#c4c6ca" stroke="none" stroke-width="0" rx="0" />
<rect x="941.2" y="479.2" width="1.2" height="0.8" fill="#c4c6ca" stroke="none" stroke-width="0" rx="0" />
<rect x="941.2" y="486" width="1.2" height="0.8" fill="#c4c6ca" stroke="none" stroke-width="0" rx="0" />
<rect x="943.4" y="479.2" width="1.2" height="0.8" fill="#c4c6ca" stroke="none" stroke-width="0" rx="0" />
<rect x="943.4" y="486" width="1.2" height="0.8" fill="#c4c6ca" stroke="none" stroke-width="0" rx="0" />
<line x1="930.1" y1="489" x2="930.1" y2="522" stroke="#2f8bc9" stroke-width="1.3"/>
<line x1="916" y1="511.9" x2="916" y2="530" stroke="#2a2a2a" stroke-width="1.5"/>
<line x1="921.4" y1="509" x2="921.4" y2="528" stroke="#2a2a2a" stroke-width="1.5"/>
<line x1="927" y1="505.6" x2="927" y2="526" stroke="#2a2a2a" stroke-width="1.5"/>
<path d="M913.4,531.5 L927.5,523.5 C929,522.8 930.5,522.8 932,523.5 L939.6,528.5 L939.6,530.5 L925.5,538.2 C924.5,538.6 923.5,538.6 922.5,538.2 L913.4,533.5 Z" fill="#dcdde0"/>
<path d="M913.4,531.5 L927.5,523.5 C929,522.8 930.5,522.8 932,523.5 L939.6,528.5 L925.5,536.2 C924.5,536.6 923.5,536.6 922.5,536.2 Z" fill="#f6f6f7"/>
<polygon points="926.5,533.5 936.5,528 937.5,529 927.5,534.5" fill="#2a2a2a" stroke="none" stroke-width="0" />
<text x="957.7" y="487.4" font-size="10" fill="#5a5a5a" font-weight="normal" text-anchor="start"  stroke="#5a5a5a" stroke-width="0.15">ONU</text>
<text x="953.3" y="499.2" font-size="10" fill="#5a5a5a" font-weight="normal" text-anchor="start"  stroke="#5a5a5a" stroke-width="0.15">V2801S</text>
<text x="945.9" y="526.5" font-size="10" fill="#5a5a5a" font-weight="normal" text-anchor="start"  stroke="#5a5a5a" stroke-width="0.15">Home</text>
<text x="945.9" y="538.3" font-size="10" fill="#5a5a5a" font-weight="normal" text-anchor="start"  stroke="#5a5a5a" stroke-width="0.15">Router</text>
<g transform="translate(891,558.5) scale(1.0)"><polygon points="-3,26 15,34 37,23 20,15" fill="#f6eee6"/><polygon points="4.4,25.3 22.6,15.8 35,22.5 16.7,32.5" fill="#dcdee3"/><polygon points="4.4,25.3 16.7,32.5 16.7,34 4.4,26.8" fill="#c2c5cc"/><polygon points="16.7,32.5 35,22.5 35,24 16.7,34" fill="#b3b6bd"/><polygon points="8,25 22,17.8 30.5,22.3 16.8,29.8" fill="#6a6d74"/><polygon points="0,10.3 18.9,0 22.6,15.8 4.4,25.3" fill="#1d70c4"/><polygon points="1.4,10.8 18,1.8 21.2,15.2 5.2,23.6" fill="#2b8be0"/><polygon points="6.8,7.4 13.2,4 16,17.8 9.8,21" fill="#1c1c20"/><polygon points="13.5,5 15.8,3.8 18.5,15.5 16.2,16.8" fill="#f2f4f7"/><rect x="2.8" y="12.5" width="2" height="1.6" fill="#bfe8c8"/><rect x="3.3" y="15.5" width="2" height="1.6" fill="#f0f0f0"/></g>
<g transform="translate(933.5,542.2) scale(1.0)"><polygon points="-3,39 12,47 40,35 26,28" fill="#fcf7f1"/><ellipse cx="14.3" cy="37.6" rx="6" ry="3.2" fill="#eceef2"/><polygon points="0.3,15.8 26.2,2.3 26.2,23.7 0.6,36.9" fill="#dfe2e7"/><polygon points="1.1,16.4 25.4,3.7 25.4,22.9 1.4,35.5" fill="#2a87d8"/><polygon points="10,10.8 19.2,6 16.3,26.2 7.6,31" fill="#1f1f22"/><polygon points="17.6,6.9 20.4,5.5 19.4,24.9 16.6,26.3" fill="#f4f6f8"/><polygon points="6.3,17 7.6,16.4 7.6,29.5 6.3,30.1" fill="#e8eef4"/><rect x="2.6" y="19.5" width="2.6" height="1.8" fill="#d6f0a0"/><rect x="2.6" y="23" width="2.6" height="1.8" fill="#d6f0a0"/><rect x="21.6" y="6.8" width="2.6" height="1.8" fill="#d6f0a0"/><polygon points="9,45.3 31,36.3 37.2,40.3 15.2,49.3" fill="#f0f1f4" stroke="#d8dbe0" stroke-width="0.5"/><polygon points="31.2,36 37.4,32.6 43,35.5 36.6,39" fill="#3a3a3e"/><ellipse cx="37.1" cy="35.8" rx="2.1" ry="1.3" fill="#eeeeee"/><polygon points="29.8,3 38.5,0.6 46.8,3 38.3,5.6" fill="#f2f3f6"/><polygon points="29.8,3 38.3,5.6 38.3,31.2 29.8,28.6" fill="#d3d6e0"/><polygon points="38.3,5.6 46.8,3 46.8,28.6 38.3,31.2" fill="#e9ebf0"/><polygon points="29.8,21 38.3,23.6 38.3,31.2 29.8,28.6" fill="#dcdee6"/><polygon points="38.3,23.6 46.8,21 46.8,28.6 38.3,31.2" fill="#e2e4ea"/><polygon points="32.3,3 38.5,1.4 44.5,3 38.3,4.7" fill="#d8dbe2"/></g>
<g transform="translate(978.5,575) scale(1.0)"><polygon points="0,12 20.6,0 30,5.9 9.5,18.1" fill="#1f78cf" stroke="#1f78cf" stroke-width="1.5" stroke-linejoin="round"/><polygon points="1.8,11.8 20.6,1.2 28.2,6 9.6,16.8" fill="#2f90e6"/>
<polygon points="14.74,4.81 20.71,1.33 27.93,5.97 21.96,9.45" fill="#1a6fc8"/>
<circle cx="5.26" cy="11.85" r="1.15" fill="#7ee0f0"/>
<circle cx="7.82" cy="13.49" r="1.15" fill="#ffffff"/>
<circle cx="10.39" cy="15.14" r="1.15" fill="#8ee8ff"/>
<circle cx="8.14" cy="10.17" r="1.15" fill="#6fd08a"/>
<circle cx="10.71" cy="11.81" r="1.15" fill="#b8f0ff"/>
<circle cx="13.27" cy="13.46" r="1.15" fill="#e8e0a0"/>
<circle cx="11.03" cy="8.48" r="1.15" fill="#7ee0f0"/>
<circle cx="13.59" cy="10.13" r="1.15" fill="#ffffff"/>
<circle cx="16.16" cy="11.78" r="1.15" fill="#8ee8ff"/>
<circle cx="13.91" cy="6.80" r="1.15" fill="#d89aa8"/>
<circle cx="16.48" cy="8.45" r="1.15" fill="#9fe8ff"/>
<circle cx="19.04" cy="10.10" r="1.15" fill="#6fd08a"/>
</g>
<text x="888.1" y="611.2" font-size="10" fill="#1e1e1e" font-weight="normal" text-anchor="start" stroke="#222" stroke-width="0.2">Staff dormitories of school</text>
<text x="888.1" y="622.2" font-size="10" fill="#1e1e1e" font-weight="normal" text-anchor="start" stroke="#222" stroke-width="0.2">headquarters and branches</text>
<text x="35.8" y="477.6" font-size="10" fill="#2e74b5" font-weight="bold" text-anchor="start" >Splitter:</text>
<text x="76.4" y="477.6" font-size="10" fill="#5a5a5a" font-weight="normal" text-anchor="start"  stroke="#5a5a5a" stroke-width="0.15">1</text>
<path d="M82.3,470.2 L90.8,477.6 M90.8,470.2 L82.3,477.6" stroke="#5a5a5a" stroke-width="0.9"/>
<text x="92" y="477.6" font-size="10" fill="#5a5a5a" font-weight="normal" text-anchor="start"  stroke="#5a5a5a" stroke-width="0.15">32</text>
<text x="35.8" y="491.5" font-size="10" fill="#2e74b5" font-weight="bold" text-anchor="start" >ONU:</text>
<circle cx="39" cy="502.7" r="2.2" fill="#444"/>
<text x="44.7" y="506" font-size="10" fill="#5a5a5a" font-weight="normal" text-anchor="start" textLength="132.1" lengthAdjust="spacingAndGlyphs" stroke="#5a5a5a" stroke-width="0.15">1 ONU per dormitory, fiber to</text>
<text x="44.7" y="519.1" font-size="10" fill="#5a5a5a" font-weight="normal" text-anchor="start" textLength="59.5" lengthAdjust="spacingAndGlyphs" stroke="#5a5a5a" stroke-width="0.15">the dormitory</text>
<circle cx="39" cy="530.3000000000001" r="2.2" fill="#444"/>
<text x="44.7" y="533.6" font-size="10" fill="#5a5a5a" font-weight="normal" text-anchor="start" textLength="118" lengthAdjust="spacingAndGlyphs" stroke="#5a5a5a" stroke-width="0.15">Wireless Gain Modulation</text>
<circle cx="39" cy="545.5" r="2.2" fill="#444"/>
<text x="44.7" y="548.8" font-size="10" fill="#5a5a5a" font-weight="normal" text-anchor="start" textLength="114.9" lengthAdjust="spacingAndGlyphs" stroke="#5a5a5a" stroke-width="0.15">Change the way you can</text>
<text x="44.7" y="562" font-size="10" fill="#5a5a5a" font-weight="normal" text-anchor="start" textLength="108.6" lengthAdjust="spacingAndGlyphs" stroke="#5a5a5a" stroke-width="0.15">only access the Internet</text>
<text x="44.7" y="575.5" font-size="10" fill="#5a5a5a" font-weight="normal" text-anchor="start" textLength="114.4" lengthAdjust="spacingAndGlyphs" stroke="#5a5a5a" stroke-width="0.15">through wireless network</text>
<text x="44.7" y="589" font-size="10" fill="#5a5a5a" font-weight="normal" text-anchor="start" textLength="87.9" lengthAdjust="spacingAndGlyphs" stroke="#5a5a5a" stroke-width="0.15">cards and hotspots</text>
<rect x="1026" y="108.4" width="131.6" height="273.3" fill="none" stroke="#3b8fd0" stroke-width="1.2" rx="7" stroke-dasharray="3.5 2.5"/>
<text x="1048.4" y="120" font-size="10" fill="#1a1a1a" font-weight="normal" text-anchor="start" stroke="#1a1a1a" stroke-width="0.3">Advantages over</text>
<text x="1048.4" y="132.4" font-size="10" fill="#1a1a1a" font-weight="normal" text-anchor="start" stroke="#1a1a1a" stroke-width="0.3">traditional solutions</text>
<defs><linearGradient id="g1" x1="0" x2="1" y1="0" y2="0"><stop offset="0" stop-color="#3a3f48"/><stop offset="0.45" stop-color="#8a9099"/><stop offset="0.55" stop-color="#e9ebee"/><stop offset="1" stop-color="#f2f2f2"/></linearGradient><linearGradient id="g2" x1="0" x2="1" y1="0" y2="0"><stop offset="0" stop-color="#9a9a9a"/><stop offset="0.3" stop-color="#cfcfcf"/><stop offset="1" stop-color="#b5b5b5"/></linearGradient><linearGradient id="g3" x1="0" x2="1" y1="0" y2="1"><stop offset="0" stop-color="#2c3440"/><stop offset="0.4" stop-color="#6f8fb0"/><stop offset="0.7" stop-color="#c9d6e6"/><stop offset="1" stop-color="#8aa0b8"/></linearGradient><linearGradient id="g4" x1="0" x2="1" y1="0" y2="1"><stop offset="0" stop-color="#d8dcd6"/><stop offset="1" stop-color="#a9b0a8"/></linearGradient></defs>
<rect x="1037.1" y="141.1" width="44.1" height="27.7" fill="#eeeeef" stroke="none" stroke-width="0" rx="0" />
<rect x="1037.1" y="141.1" width="24" height="27.7" fill="#b4b8bd" stroke="none" stroke-width="0" rx="0" />
<rect x="1038.2" y="141.1" width="1.2" height="27.7" fill="#1f2226" stroke="none" stroke-width="0" rx="0" />
<rect x="1043.9" y="141.1" width="2.0" height="27.7" fill="#1f2226" stroke="none" stroke-width="0" rx="0" />
<rect x="1048.5" y="141.1" width="1.6" height="27.7" fill="#1f2226" stroke="none" stroke-width="0" rx="0" />
<rect x="1052.2" y="141.1" width="1.5" height="27.7" fill="#1f2226" stroke="none" stroke-width="0" rx="0" />
<rect x="1057.3" y="141.1" width="2.1" height="27.7" fill="#1f2226" stroke="none" stroke-width="0" rx="0" />
<rect x="1040" y="141.1" width="3" height="27.7" fill="#e4e6e8" stroke="none" stroke-width="0" rx="0" />
<rect x="1054" y="141.1" width="3" height="27.7" fill="#8e949a" stroke="none" stroke-width="0" rx="0" />
<circle cx="1070.8" cy="147" r="2.4" fill="#4a3626"/>
<path d="M1066.2,168.8 L1066.5,153 C1067,150.8 1069,150.2 1071,150.2 C1073.5,150.2 1076.3,151 1076.6,153.5 L1077,168.8 Z" fill="#141414"/>
<polygon points="1069.8,150.5 1071.6,150.5 1070.7,155" fill="#f4f4f4" stroke="none" stroke-width="0" />
<polygon points="1061.5,158.2 1068.5,157.2 1069.8,160.8 1062.5,161.6" fill="#b8bcc2" stroke="none" stroke-width="0" />
<circle cx="1091.3" cy="155.1" r="6.2" fill="#e2512b"/>
<text x="1091.3" y="157.9" font-size="7.5" fill="#ffffff" font-weight="bold" text-anchor="middle" >VS</text>
<rect x="1101.4" y="141.1" width="43.6" height="27.7" fill="#b3b3b3" stroke="none" stroke-width="0" rx="0" />
<rect x="1101.4" y="141.1" width="12" height="27.7" fill="#a4a4a4" stroke="none" stroke-width="0" rx="0" />
<rect x="1113" y="141.1" width="3" height="27.7" fill="#c4c4c4" stroke="none" stroke-width="0" rx="0" />
<rect x="1119.1" y="146.3" width="10.9" height="13.5" fill="#a3a3a3" stroke="none" stroke-width="0" rx="1" />
<rect x="1120" y="147.2" width="9" height="11.6" fill="#b0b0b0" stroke="none" stroke-width="0" rx="1" />
<rect x="1121.3" y="159.8" width="1.8" height="9" fill="#8c8c8c" stroke="none" stroke-width="0" rx="0" />
<defs><linearGradient id="g3b" x1="0" x2="1" y1="0" y2="1"><stop offset="0" stop-color="#8aa2bc"/><stop offset="0.5" stop-color="#cddbea"/><stop offset="1" stop-color="#a8b8c8"/></linearGradient></defs>
<rect x="1050.1" y="176.2" width="39.9" height="28.2" fill="url(#g3b)" stroke="none" stroke-width="0" rx="0" />
<polygon points="1050.1,176.2 1090,176.2 1090,179 1062,186 1050.1,190" fill="#2c323a" stroke="none" stroke-width="0" />
<polygon points="1058,176.2 1070,176.2 1056,183 1050.1,184" fill="#5a6470" stroke="none" stroke-width="0" />
<polygon points="1050.1,196 1062,204.4 1050.1,204.4" fill="#9aa0a8" stroke="none" stroke-width="0" />
<polygon points="1082,190 1090,190 1090,204.4 1084,204.4" fill="#b8bcc2" stroke="none" stroke-width="0" />
<rect x="1094.7" y="176.2" width="33.2" height="28.2" fill="#d6d8d6" stroke="none" stroke-width="0" rx="0" />
<rect x="1094.7" y="196" width="33.2" height="8.4" fill="#c4c6c6" stroke="none" stroke-width="0" rx="0" />
<rect x="1118" y="176.2" width="4.7" height="28.2" fill="#d9c82a" stroke="none" stroke-width="0" rx="0" />
<rect x="1116.8" y="176.2" width="1.4" height="28.2" fill="#2a6a8a" stroke="none" stroke-width="0" rx="0" />
<rect x="1125.3" y="176.2" width="2.6" height="28.2" fill="#2a5a9a" stroke="none" stroke-width="0" rx="0" />
<rect x="1094.7" y="191.5" width="24" height="1.6" fill="#d9c82a" stroke="none" stroke-width="0" rx="0" />
<rect x="1094.7" y="193.1" width="24" height="3" fill="#1f6a7a" stroke="none" stroke-width="0" rx="0" />
<rect x="1106.6" y="185.7" width="9.4" height="4.2" fill="#a6a8a8" stroke="none" stroke-width="0" rx="0" />
<circle cx="1091.3" cy="189.9" r="6.2" fill="#e2512b"/>
<text x="1091.3" y="192.7" font-size="7.5" fill="#ffffff" font-weight="bold" text-anchor="middle" >VS</text>
<text x="1037" y="215.4" font-size="10" fill="#666666" font-weight="normal" text-anchor="start"  stroke="#666666" stroke-width="0.15">Simplified horizontal wiring</text>
<text x="1037" y="227" font-size="10" fill="#666666" font-weight="normal" text-anchor="start"  stroke="#666666" stroke-width="0.15">of floors</text>
<polyline points="1053.5,241.5 1056.9,245.0 1053.5,248.5" fill="none" stroke="#2e86c1" stroke-width="1.6"/><polyline points="1057.7,241.5 1061.1000000000001,245.0 1057.7,248.5" fill="none" stroke="#2e86c1" stroke-width="1.6"/>
<text x="1065" y="249" font-size="10" fill="#666666" font-weight="normal" text-anchor="start"  stroke="#666666" stroke-width="0.15">Save space</text>
<polyline points="1129.4,241.5 1126.0,245.0 1129.4,248.5" fill="none" stroke="#2e86c1" stroke-width="1.6"/><polyline points="1133.6000000000001,241.5 1130.2,245.0 1133.6000000000001,248.5" fill="none" stroke="#2e86c1" stroke-width="1.6"/>
<polyline points="1048.5,256.9 1051.9,260.4 1048.5,263.9" fill="none" stroke="#2e86c1" stroke-width="1.6"/><polyline points="1052.7,256.9 1056.1000000000001,260.4 1052.7,263.9" fill="none" stroke="#2e86c1" stroke-width="1.6"/>
<text x="1059.1" y="264.4" font-size="10" fill="#666666" font-weight="normal" text-anchor="start"  stroke="#666666" stroke-width="0.15">Reduce energy</text>
<polyline points="1132.9,256.9 1129.5,260.4 1132.9,263.9" fill="none" stroke="#2e86c1" stroke-width="1.6"/><polyline points="1137.1000000000001,256.9 1133.7,260.4 1137.1000000000001,263.9" fill="none" stroke="#2e86c1" stroke-width="1.6"/>
<polyline points="1047.0,271.8 1050.4,275.3 1047.0,278.8" fill="none" stroke="#2e86c1" stroke-width="1.6"/><polyline points="1051.2,271.8 1054.6000000000001,275.3 1051.2,278.8" fill="none" stroke="#2e86c1" stroke-width="1.6"/>
<text x="1059.1" y="279.3" font-size="10" fill="#666666" font-weight="normal" text-anchor="start"  stroke="#666666" stroke-width="0.15">Easy to manage</text>
<polyline points="1137.4,271.8 1134.0,275.3 1137.4,278.8" fill="none" stroke="#2e86c1" stroke-width="1.6"/><polyline points="1141.6000000000001,271.8 1138.2,275.3 1141.6000000000001,278.8" fill="none" stroke="#2e86c1" stroke-width="1.6"/>
<path d="M1058.9,304.5 L1058.9,308.5 A11.4,4.3 0 0 0 1081.7,308.5 L1081.7,304.5 Z" fill="#6b6b6b"/>
<ellipse cx="1070.3" cy="304.5" rx="11.4" ry="4.3" fill="#767676"/>
<path d="M1066,302.5 L1074.5,306.5 M1074.5,302.5 L1066,306.5" stroke="#bdbdbd" stroke-width="0.8"/>
<path d="M1066,309.5 L1074.5,311.5 M1074.5,309.5 L1066,311.5" stroke="#bdbdbd" stroke-width="0.6"/>
<line x1="1060.6" y1="312.5" x2="1060.6" y2="325.6" stroke="#a8a8a8" stroke-width="1.1"/>
<line x1="1079.4" y1="312.5" x2="1079.4" y2="325.6" stroke="#a8a8a8" stroke-width="1.1"/>
<polygon points="1053.9,325.6 1086.1,325.6 1087.2,332.6 1052.2,332.6" fill="#6b6b6b" stroke="none" stroke-width="0" />
<text x="1069.7" y="331.4" font-size="4.5" fill="#ffffff" font-weight="bold" text-anchor="middle" >OLT</text>
<rect x="1051.1" y="333.9" width="37.8" height="21.1" fill="#6b6b6b" stroke="none" stroke-width="0" rx="0" />
<rect x="1058.9" y="336" width="1" height="17" fill="#e6e6e6" stroke="none" stroke-width="0" rx="0" />
<rect x="1063.9" y="336" width="1" height="17" fill="#e6e6e6" stroke="none" stroke-width="0" rx="0" />
<rect x="1067.3" y="336" width="1" height="17" fill="#e6e6e6" stroke="none" stroke-width="0" rx="0" />
<rect x="1072.3" y="336" width="1" height="17" fill="#e6e6e6" stroke="none" stroke-width="0" rx="0" />
<rect x="1077.8" y="336" width="1" height="17" fill="#e6e6e6" stroke="none" stroke-width="0" rx="0" />
<rect x="1081.9" y="336" width="1" height="17" fill="#e6e6e6" stroke="none" stroke-width="0" rx="0" />
<line x1="1082" y1="307" x2="1107" y2="307" stroke="#777" stroke-width="1.1" stroke-dasharray="2.5 1.8"/>
<line x1="1088" y1="330" x2="1110" y2="312" stroke="#777" stroke-width="0.8" stroke-dasharray="2 1.5"/>
<circle cx="1121.1" cy="300.8" r="2.5" fill="#6e6e6e"/>
<path d="M1118.2,304.2 L1123.2,304.2 L1124.5,317.5 L1118.5,317.5 Z" fill="#6e6e6e"/>
<path d="M1118.5,315.5 L1125,315.5 L1125,317.8 L1120.8,318 L1120.5,324 L1118.5,324 Z" fill="#6e6e6e"/>
<path d="M1118,306.5 L1113.5,309.5 L1115,310.5 L1119,308.5 Z" fill="#6e6e6e"/>
<rect x="1108.9" y="309.4" width="9" height="1.5" fill="#6e6e6e" stroke="none" stroke-width="0" rx="0" />
<line x1="1112.8" y1="310.5" x2="1112.8" y2="324" stroke="#6e6e6e" stroke-width="1.3"/>
<rect x="1110.5" y="323.6" width="5" height="1" fill="#6e6e6e" stroke="none" stroke-width="0" rx="0" />
<line x1="1106.2" y1="302.8" x2="1109" y2="309.4" stroke="#6e6e6e" stroke-width="1"/>
<line x1="1127.8" y1="307" x2="1127.8" y2="318.5" stroke="#6e6e6e" stroke-width="1.2"/>
<rect x="1122.5" y="317.6" width="6.5" height="1.4" fill="#6e6e6e" stroke="none" stroke-width="0" rx="0" />
<line x1="1124" y1="319" x2="1124" y2="324.5" stroke="#6e6e6e" stroke-width="1"/>
<line x1="1128" y1="319" x2="1128" y2="324.5" stroke="#6e6e6e" stroke-width="1"/>
<rect x="1121.5" y="324" width="8" height="0.9" fill="#6e6e6e" stroke="none" stroke-width="0" rx="0" />
<text x="1033" y="364.6" font-size="10" fill="#666666" font-weight="normal" text-anchor="start"  stroke="#666666" stroke-width="0.15">Centralized management,</text>
<text x="1033" y="375.7" font-size="10" fill="#666666" font-weight="normal" text-anchor="start"  stroke="#666666" stroke-width="0.15">operation and maintenance</text>
<rect x="1026.2" y="398.2" width="151.5" height="230.5" fill="none" stroke="#3b8fd0" stroke-width="1.5" rx="8" />
<rect x="1038" y="411.8" width="65.2" height="87.4" fill="#2a2f38" stroke="none" stroke-width="0" rx="0" />
<rect x="1038" y="411.8" width="11" height="56" fill="#34463e" stroke="none" stroke-width="0" rx="0" />
<rect x="1039" y="414" width="9" height="1.2" fill="#6a8a7a" stroke="none" stroke-width="0" rx="0" />
<rect x="1039" y="420" width="9" height="1.2" fill="#6a8a7a" stroke="none" stroke-width="0" rx="0" />
<rect x="1039" y="426" width="9" height="1.2" fill="#6a8a7a" stroke="none" stroke-width="0" rx="0" />
<rect x="1039" y="432" width="9" height="1.2" fill="#6a8a7a" stroke="none" stroke-width="0" rx="0" />
<rect x="1039" y="438" width="9" height="1.2" fill="#6a8a7a" stroke="none" stroke-width="0" rx="0" />
<rect x="1039" y="444" width="9" height="1.2" fill="#6a8a7a" stroke="none" stroke-width="0" rx="0" />
<rect x="1039" y="450" width="9" height="1.2" fill="#6a8a7a" stroke="none" stroke-width="0" rx="0" />
<rect x="1039" y="456" width="9" height="1.2" fill="#6a8a7a" stroke="none" stroke-width="0" rx="0" />
<rect x="1039" y="462" width="9" height="1.2" fill="#6a8a7a" stroke="none" stroke-width="0" rx="0" />
<rect x="1040" y="412" width="1.2" height="56" fill="#5a8a70" stroke="none" stroke-width="0" rx="0" />
<rect x="1038" y="468" width="11" height="31.2" fill="#2a2620" stroke="none" stroke-width="0" rx="0" />
<rect x="1038.5" y="470.0" width="10" height="1.4" fill="#a8905a" stroke="none" stroke-width="0" rx="0" />
<rect x="1038.5" y="474.8" width="10" height="1.4" fill="#a8905a" stroke="none" stroke-width="0" rx="0" />
<rect x="1038.5" y="479.6" width="10" height="1.4" fill="#a8905a" stroke="none" stroke-width="0" rx="0" />
<rect x="1038.5" y="484.4" width="10" height="1.4" fill="#a8905a" stroke="none" stroke-width="0" rx="0" />
<rect x="1038.5" y="489.2" width="10" height="1.4" fill="#a8905a" stroke="none" stroke-width="0" rx="0" />
<rect x="1038.5" y="494.0" width="10" height="1.4" fill="#a8905a" stroke="none" stroke-width="0" rx="0" />
<rect x="1049" y="411.8" width="6" height="87.4" fill="#b9b6ae" stroke="none" stroke-width="0" rx="0" />
<rect x="1055" y="411.8" width="3" height="87.4" fill="#141414" stroke="none" stroke-width="0" rx="0" />
<rect x="1058" y="411.8" width="23" height="24" fill="#e6e4de" stroke="none" stroke-width="0" rx="0" />
<rect x="1065" y="414" width="14" height="19" fill="#d6d3cb" stroke="none" stroke-width="0" rx="0" />
<rect x="1058" y="436" width="23" height="12" fill="#1d2a4d" stroke="none" stroke-width="0" rx="0" />
<rect x="1073" y="445" width="7" height="7" fill="#ededeb" stroke="none" stroke-width="0" rx="0" />
<rect x="1058" y="448" width="15" height="12" fill="#22305a" stroke="none" stroke-width="0" rx="0" />
<rect x="1058" y="460" width="24" height="8" fill="#9fbbe0" stroke="none" stroke-width="0" rx="0" />
<rect x="1058" y="468" width="23" height="3" fill="#2a2f38" stroke="none" stroke-width="0" rx="0" />
<rect x="1059" y="471" width="22" height="19" fill="#d2d2d0" stroke="none" stroke-width="0" rx="0" />
<rect x="1068" y="474" width="11" height="14" fill="#e6e6e4" stroke="none" stroke-width="0" rx="0" />
<rect x="1058" y="490" width="24" height="9.2" fill="#2d3f70" stroke="none" stroke-width="0" rx="0" />
<rect x="1081" y="411.8" width="10" height="87.4" fill="#1e2a48" stroke="none" stroke-width="0" rx="0" />
<rect x="1082" y="440" width="7" height="30" fill="#2f4f90" stroke="none" stroke-width="0" rx="0" />
<rect x="1090" y="411.8" width="4" height="87.4" fill="#111111" stroke="none" stroke-width="0" rx="0" />
<rect x="1094" y="411.8" width="9.2" height="87.4" fill="#b4b6b8" stroke="none" stroke-width="0" rx="0" />
<rect x="1096" y="470" width="7" height="29" fill="#c8c8c6" stroke="none" stroke-width="0" rx="0" />
<text x="1118.6" y="413.6" font-size="10" fill="#5a5a5a" font-weight="normal" text-anchor="start"  stroke="#5a5a5a" stroke-width="0.15">OLT(G2)</text>
<text x="1135" y="425" font-size="10" fill="#5a5a5a" font-weight="normal" text-anchor="start"  stroke="#5a5a5a" stroke-width="0.15">+</text>
<text x="1122.7" y="437.3" font-size="10" fill="#5a5a5a" font-weight="normal" text-anchor="start"  stroke="#5a5a5a" stroke-width="0.15">Splitter</text>
<text x="1143.5" y="447.9" font-size="10" fill="#5a5a5a" font-weight="normal" text-anchor="start"  stroke="#5a5a5a" stroke-width="0.15">+</text>
<text x="1135.8" y="460.9" font-size="10" fill="#5a5a5a" font-weight="normal" text-anchor="start"  stroke="#5a5a5a" stroke-width="0.15">ONU</text>
<text x="1105.6" y="473.2" font-size="10" fill="#5a5a5a" font-weight="normal" text-anchor="start"  stroke="#5a5a5a" stroke-width="0.15">(ICT3310DPS)</text>
<rect x="1039" y="514" width="32.8" height="39.4" fill="#cdcdca" stroke="none" stroke-width="0" rx="0" />
<rect x="1039" y="514" width="32.8" height="6" fill="#c2c2be" stroke="none" stroke-width="0" rx="0" />
<polygon points="1046.4,521 1058.5,517.5 1061.3,519 1061.3,537 1049,540 1046.4,538.5" fill="#b2b2ae" stroke="none" stroke-width="0" />
<polygon points="1058.5,517.5 1061.3,519 1061.3,537 1058.5,536" fill="#d8d8d4" stroke="none" stroke-width="0" />
<path d="M1061.5,519 C1068,524 1067,540 1058,545 C1054,548 1052,545 1054,541 C1056,538 1060,540 1059,544 C1057,549 1053,551 1049,551" fill="none" stroke="#1e1e1e" stroke-width="0.9"/>
<polygon points="1042,553.4 1045,547.5 1048,548.5 1046,553.4" fill="#c23a2a" stroke="none" stroke-width="0" />
<rect x="1085.8" y="514" width="34.8" height="39.4" fill="#e4e2dc" stroke="none" stroke-width="0" rx="0" />
<rect x="1091" y="519.1" width="24.5" height="28.6" fill="#c9c5b9" stroke="none" stroke-width="0" rx="0" />
<rect x="1092.5" y="520.5" width="21.5" height="25.5" fill="#bdb8aa" stroke="none" stroke-width="0" rx="0" />
<rect x="1099.5" y="522.6" width="8" height="6.2" fill="#3b5fa8" stroke="none" stroke-width="0" rx="0" />
<rect x="1099.5" y="522.6" width="8" height="2" fill="#e8e8e8" stroke="none" stroke-width="0" rx="0" />
<path d="M1093,527 L1097,535 M1095,523 L1098,531 M1104,534 L1108,538 M1102,537 L1107,533" stroke="#f4f4f0" stroke-width="1.1"/>
<path d="M1093,543 C1096,536 1100,534 1103,530" fill="none" stroke="#d8b860" stroke-width="0.9"/>
<path d="M1094,528 C1100,546 1110,546 1113,530" fill="none" stroke="#a8a498" stroke-width="0.8"/>
<rect x="1085.8" y="548" width="34.8" height="5.4" fill="#d8d6d0" stroke="none" stroke-width="0" rx="0" />
<rect x="1135.2" y="514" width="32.8" height="39.4" fill="#cfcfcc" stroke="none" stroke-width="0" rx="0" />
<rect x="1135.2" y="514" width="32.8" height="8" fill="#aaaaa6" stroke="none" stroke-width="0" rx="0" />
<rect x="1145.7" y="522.6" width="15.4" height="18.8" fill="#e2e2e0" stroke="none" stroke-width="0" rx="0" />
<line x1="1161.1" y1="523" x2="1161.1" y2="541.4" stroke="#b8b8b4" stroke-width="0.8"/>
<line x1="1135.2" y1="538" x2="1145.7" y2="537" stroke="#bcbcb8" stroke-width="0.7"/>
<line x1="1135.2" y1="545" x2="1168" y2="541" stroke="#bcbcb8" stroke-width="0.7"/>
<line x1="1150" y1="545" x2="1150" y2="553.4" stroke="#bcbcb8" stroke-width="0.7"/>
<text x="1030.8" y="564.4" font-size="10" fill="#5a5a5a" font-weight="normal" text-anchor="start"  stroke="#5a5a5a" stroke-width="0.15">Splitter in</text>
<text x="1030.8" y="576.9" font-size="10" fill="#5a5a5a" font-weight="normal" text-anchor="start"  stroke="#5a5a5a" stroke-width="0.15">the corridor</text>
<text x="1085.9" y="564.4" font-size="10" fill="#5a5a5a" font-weight="normal" text-anchor="start"  stroke="#5a5a5a" stroke-width="0.15">Inside in</text>
<text x="1085.9" y="576.9" font-size="10" fill="#5a5a5a" font-weight="normal" text-anchor="start"  stroke="#5a5a5a" stroke-width="0.15">the splitter</text>
<text x="1135" y="565.5" font-size="10" fill="#5a5a5a" font-weight="normal" text-anchor="start"  stroke="#5a5a5a" stroke-width="0.15">ONU in</text>
<text x="1135" y="577.9" font-size="10" fill="#5a5a5a" font-weight="normal" text-anchor="start"  stroke="#5a5a5a" stroke-width="0.15">student</text>
<text x="1135" y="590.8" font-size="10" fill="#5a5a5a" font-weight="normal" text-anchor="start"  stroke="#5a5a5a" stroke-width="0.15">dormitory</text>
<text x="1071.4" y="615.6" font-size="10" fill="#1a1a1a" font-weight="normal" text-anchor="start" stroke="#222" stroke-width="0.2">Live Shooting</text>
</svg>
</body></html>
